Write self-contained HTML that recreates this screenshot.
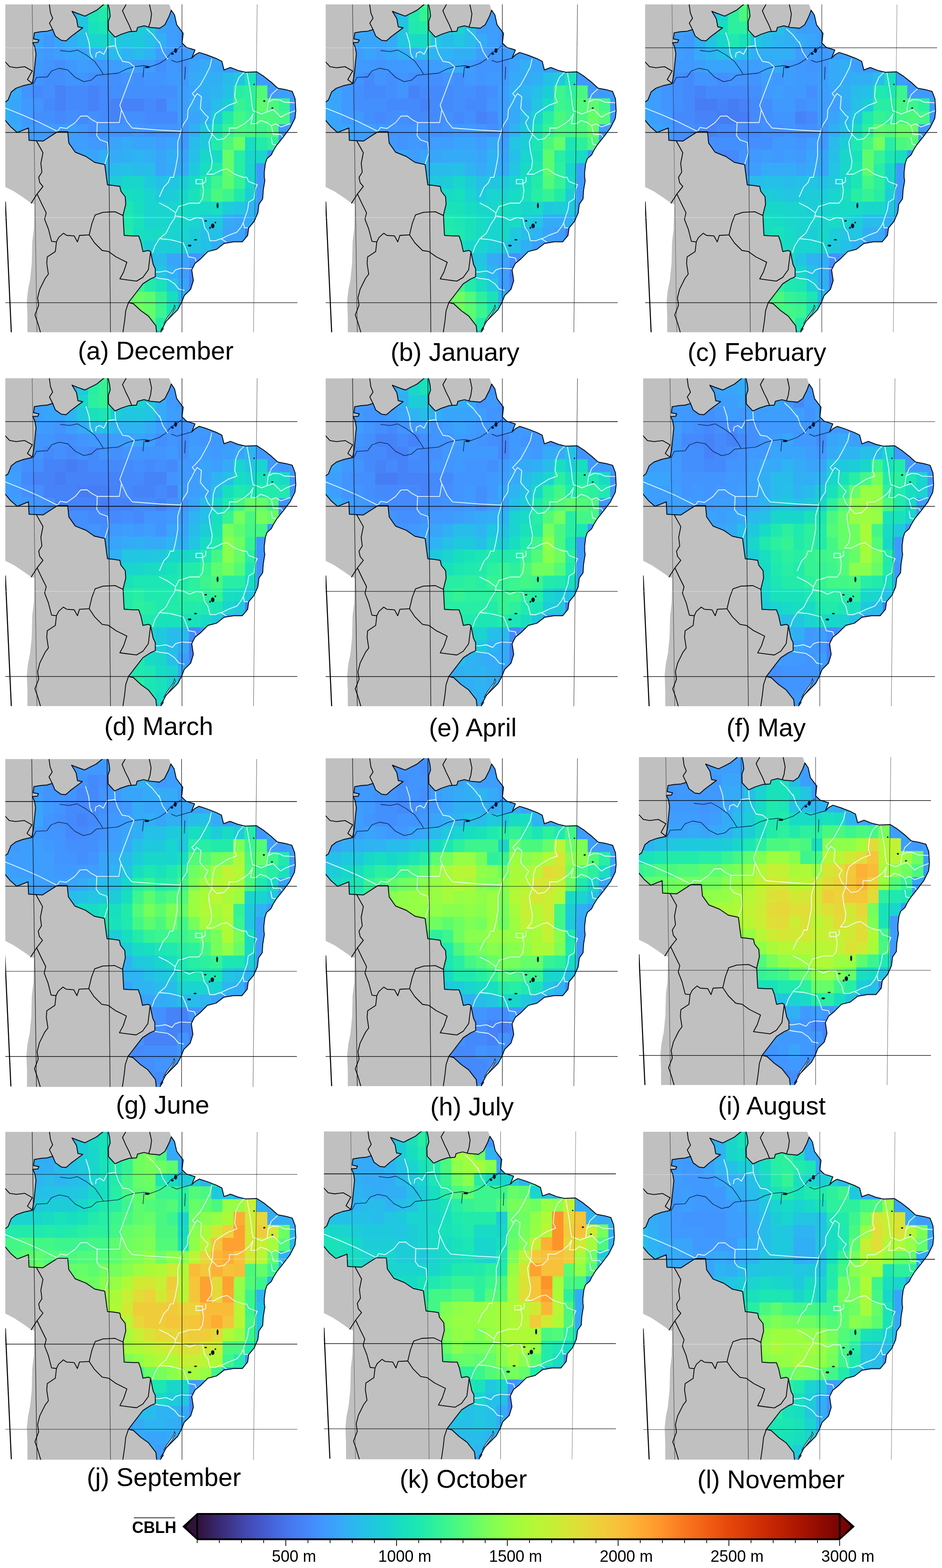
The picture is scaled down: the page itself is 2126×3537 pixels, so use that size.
<!DOCTYPE html><html><head><meta charset="utf-8"><title>CBLH monthly maps</title><style>html,body{margin:0;padding:0;background:#fff}body{width:2126px;height:3537px;overflow:hidden}svg{display:block}text{font-family:"Liberation Sans",sans-serif;fill:#000}.lab{font-size:57.5px;text-anchor:middle}.tk{font-size:36px;text-anchor:middle}.b{fill:none;stroke:#000;stroke-width:1.8;stroke-linejoin:round;stroke-linecap:round}.o{fill:none;stroke:#050a18;stroke-width:2;stroke-linejoin:round}.r{fill:none;stroke:#04103a;stroke-width:1.3;stroke-linejoin:round;opacity:.9}.s{fill:none;stroke:#f0ffff;stroke-width:1.9;stroke-linejoin:round;stroke-linecap:round;opacity:.92}.g{stroke:#000;stroke-width:1.25;fill:none}</style></head><body><svg width="2126" height="3537" viewBox="0 0 2126 3537"><defs><clipPath id="pc"><rect x="0" y="0" width="659" height="739.5"/></clipPath><clipPath id="bc"><path d="M-7 224.8L6.2 215.6L13.5 197.4L24.4 188.9L41.4 182.9L60.8 178.7L64.4 159.8L66.8 135.6L69.3 111.3L66.8 96.7L62 86.3L73.4 85.6L75.8 80.2L63.7 77.8L65.6 64L80.2 61.6L94.7 60.4L106.9 56.7L112.9 71.3L126.3 81L137.2 82.2L148.1 72.5L162.7 61.6L174.8 52.6L163.9 50.6L160.7 32.5L150.5 15.5L162.7 20.3L179.6 26.4L191.8 20.3L206.3 13L219.7 2.1L230.6 -7L235.4 14.3L236.7 26.4L232.5 38.5L233 57.9L247.6 73.7L262.1 67.1L279.1 61.6L296.1 60.4L298.5 51.9L313.1 48.2L327.6 51.9L348 53.6L348 54.3L360.1 45.8L369.8 26.4L374.7 13L382 24L386.8 45.8L401.4 65.2L398.9 87L408.6 96.7L428.1 102.8L420.8 121L428.1 113.7L437.8 108.4L454.7 113.7L476.6 122.2L488.7 128.3L493.6 147.7L508.1 142.3L525.1 148.9L542.1 153L567.5 152L583.3 162.2L600.3 175.6L614.8 188.9L634.3 192.6L647.6 196.2L654.1 213.2L655.6 239.9L653.7 256.8L642.7 278.7L627 299.3L612.4 317.5L605.1 329.6L600.3 339.3L590.6 347.8L586.9 358.7L584.5 378.1L584.5 390L585.7 397.3L582.1 419.1L580.9 438.5L572.4 450.6L570 470.1L561.5 489.5L549.3 504L546.9 521L534.8 535.6L515.4 535.6L493.6 539.2L476.6 552.5L457.2 557.4L440.2 574.4L428.1 584.1L420.8 598.6L424.4 622.9L418.4 642.3L403.8 656.8L397.7 672.6L389.2 688.4L374.7 702.9L362.6 715.1L355.3 729.6L348 746.5L342.2 746.5L339.8 724.8L322.8 702.9L305.8 690.8L288.8 675L277.9 672.6L293.7 652L310.6 630.2L327.6 619.2L338.5 614.4L338.5 596.2L333.7 586.5L327.6 557.4L322.8 555L310.6 557.4L305.8 535.6L300.9 522.2L286.4 522.2L268.2 521L267 499.2L265.8 474.9L271.8 450.6L270.6 433.7L260.9 421.5L258.5 410.6L242.7 408.2L230.6 407L228.2 390L224.5 361.2L201.5 356.3L182.1 343L157.8 333.3L143.3 312.6L140.8 287.2L117.8 287.2L85 308.3L53.5 306.6L52.3 278.7L26.8 288.9L12.3 276.3L-7 253.2Z"/></clipPath><path id="land" d="M-7 -7L367.4 -7L374.7 13L396.5 87L493.6 208.3L445 487L372.3 632.6L348 746.5L49.9 746.5L49.9 705.4L48.6 669L51.1 644.7L55.9 620.5L59.6 584.1L60.8 535.6L64.4 506.4L65.6 450.6L58.4 448.2L41.4 436.1L19.5 421.5L-7 408.2Z" fill="#c0c0c0"/><g id="bord"><path class="b" d="M98.4 -7L102 19.1L106.9 31.2L99.6 42.2L106.9 56.7M276.7 -7L264.5 14.3L271.8 31.2L279.1 45.8L285.2 60.8M324 -7L330 21.5L327.6 38.5L324 49.4M-7 122.2L9.8 140.4L24.4 142.8L43.8 140.4L60.8 150.1L49.9 169.5L60.8 178M70.5 308.3L85 334.5L80.2 358.7L82.6 378.1L75.3 390M75.3 390L77.8 402.1L85 410.6L71.7 427.6L58.4 448.2M71.7 427.6L82.6 450.6L92.3 470.1L88.7 484.6L97.2 506.4L104.4 534.3L115.4 535.6M115.4 535.6L112.9 557.4L94.7 569.5L93.5 584.1L97.2 608.3L89.9 618L77.8 642.3L72.9 661.7L75.3 678.7L66.8 700.5L72.9 717.5L81.4 746.5M115.4 535.6L120.2 525.8L131.1 516.1L138.4 521L155.4 522.2L162.7 535.6L167.5 521L189.3 519.8M189.3 519.8L195.4 494.3L202.7 474.9L220.9 468.8L247.6 467.6L265.8 476.1M189.3 519.8L201.5 538L218.5 555L233 557.4L250 569.5L274.3 581.6L267 603.5L258.5 619.2L276.7 621.7L296.1 624.1L310.6 615.6L322.8 598.6L324 588.9L327.6 559.8M277.9 672.6L271.8 690.8L269.4 712.6L264.5 746.5"/><path class="b" d="M0.1 445.8L13.5 739.3" style="stroke-width:2.4"/></g><g id="over"><path class="r" d="M63.2 179.2L70.5 164.7L94.7 163.5L104.4 150.1L121.4 144L140.8 147.7L157.8 164.7L177.2 174.4L194.2 170.7L206.3 159.8L230.6 157.4L254.8 155L274.3 145.3L291.2 140.4L313.1 138L327.6 140.4L348 133.1M123.8 104L145.7 106.4L162.7 102.8L182.1 113.7L201.5 128.3L213.6 145.3L220.9 157.4M348 133.1L362.6 123.4L374.7 108.9L384.4 104L396.5 94.3M374.7 125.8L386.8 130.7L403.8 125.8L420.8 121M406.2 140.4L405 169.5M313.1 140.4L310.6 164.7"/><g fill="#06122e"><ellipse cx="561.5" cy="180.4" rx="1.7" ry="1.7"/><ellipse cx="584.5" cy="218" rx="2.4" ry="1.9"/><ellipse cx="602.7" cy="233.8" rx="2.4" ry="1.5"/><ellipse cx="479" cy="453.6" rx="2.2" ry="6.3"/><ellipse cx="468.1" cy="499.6" rx="3.9" ry="5.3"/><ellipse cx="415.9" cy="544" rx="3.9" ry="2.2"/><ellipse cx="429.3" cy="530.7" rx="3.4" ry="1.5"/><ellipse cx="452.3" cy="488.2" rx="2.9" ry="1.7"/><ellipse cx="474.1" cy="491.9" rx="1.9" ry="1.9"/><ellipse cx="462" cy="504" rx="1.9" ry="2.4"/><ellipse cx="384.4" cy="104" rx="3.4" ry="5.3"/><ellipse cx="377.1" cy="111.3" rx="2.9" ry="2.4"/><ellipse cx="320.3" cy="141.6" rx="5.3" ry="2.2"/></g><path class="s" d="M0.1 233.8L36.5 248.4L72.9 264.1L117.8 286.4M117.8 286.4L123.8 277.5L138.4 279.9L157.8 266.5L169.9 252L184.5 251.5L194.2 259.3L207.5 266.5M207.5 266.5L257.3 266.5L262.1 237.4M207.5 266.5L206.3 295.7L213.6 305.4L230.6 311.4L233 334.5L228.2 349L224.5 361.2M291.2 140.4L258.5 227.7L262.1 237.4L274.3 264.1L286.4 278.7L348 283.5M182.1 64L189.3 87L191.8 111.3L196.6 121M203.9 118.6L205.1 110.1L213.6 106.4L222.1 112.5L230.6 95.5L248.8 93.1L247.6 73.7M248.8 93.1L254.8 111.3L264.5 128.3L279.1 130.7L291.2 140.4M319.1 55.5L332.5 67.6L348 87M348 84.6L355.3 106.4L366.2 122.9M465.7 123.4L462 140.4L452.3 159.8L440.2 181.6L428.1 195L422 201.1L428.1 208.3L420.8 222.9L412.3 237.4L411.1 256.8L401.4 271.4L396.5 284.7M348 283.5L396.5 286L389.2 310.2L389.2 341.8L384.4 368.4L379.5 390M428.1 208.3L432.9 201.1L442.6 208.3L440.2 235L452.3 249.6L458.4 254.4L451.1 266.5L457.2 281.1L466.9 293.2M539.6 152.5L527.5 164.7L520.2 181.6L517.8 208.3L522.7 220.5L503.3 227.7L483.8 239.9L474.1 247.1L469.3 261.7L468.1 281.1L466.9 293.2M545.7 155L549.3 174.4L554.2 203.5L556.6 227.7L559.1 239.9M466.9 293.2L479 305.4L493.6 302.9L505.7 290.8L505.7 278.7L522.7 278.7L539.6 269L551.8 259.3L559.1 247.1M466.9 293.2L459.6 310.2L462 329.6L466.9 353.9L464.4 370.9L454.7 383M559.1 239.9L566.3 242.3L578.5 247.1L590.6 242.3L593 222.9L600.3 203.5L614.8 190.1M593 220.5L605.1 214.4L619.7 215.6L629.4 220.5L653.7 221.7M590.6 242.3L605.1 237.4L614.8 247.1L622.1 254.4L634.3 247.1L653.7 239.9M559.1 247.1L554.2 269L566.3 269L576 261.7L590.6 266.5L600.3 273.8L610 269L622.1 276.3L642.7 269M600.3 273.8L605.1 293.2L622.1 293.2L627 300.5M600.3 300.5L602.7 315.1L612.4 317.5M454.7 383L469.3 383L488.7 373.3L500.8 370.9L517.8 383L537.2 390M430.5 394.9L445 394.9L445 404.6L430.5 404.6L430.5 394.9M452.3 390L452.3 399.7L445 404.6L447.5 419.1L445 438.5L437.8 448.2L415.9 448.2L401.4 453.1L391.7 455.5L384.4 470.1M379.5 390L372.3 390L367.4 402.1L357.7 411.8L348 433.7M348 448.2L367.4 457.9L384.4 470.1M384.4 470.1L382 482.2L372.3 496.7L362.6 516.1L348 528.3M384.4 477.3L401.4 479.8L415.9 487L430.5 481L445 482.2L449.9 504L457.2 513.7L462 533.1L474.1 533.1L486.3 528.3L498.4 535.6M537.2 390L544.5 390L549.3 399.7L568.8 407L563.9 416.7L561.5 438.5L549.3 445.8L546.9 462.8L537.2 491.9L539.6 504L546.9 504M488.7 528.3L503.3 521L522.7 513.7L532.4 501.6L537.2 491.9M348 528.3L372.3 530.7L401.4 538L408.6 555L413.5 569.5L428.1 571.9L430.5 579.2M348 603.5L362.6 601.1L377.1 607.1L384.4 598.6L396.5 595L420.8 596.2M348 618L367.4 620.5L382 630.2L391.7 642.3L403.8 644.7M348 528.3L337.3 545.3L332.5 559.8M348 603.5L338.5 603.5M348 618L337.3 615.6"/><path d="M381.9 678.1L383.6 683.5L376.2 697.1L368 708L359.8 720.5L357.8 719.2L365.6 706.3L373.1 696.1L379.9 685.9ZM355.3 728.2L357 731.6L352.4 737.5L351 734.1Z" fill="#fff" stroke="#050a18" stroke-width="1.2"/><path class="o" d="M-7 224.8L6.2 215.6L13.5 197.4L24.4 188.9L41.4 182.9L60.8 178.7L64.4 159.8L66.8 135.6L69.3 111.3L66.8 96.7L62 86.3L73.4 85.6L75.8 80.2L63.7 77.8L65.6 64L80.2 61.6L94.7 60.4L106.9 56.7L112.9 71.3L126.3 81L137.2 82.2L148.1 72.5L162.7 61.6L174.8 52.6L163.9 50.6L160.7 32.5L150.5 15.5L162.7 20.3L179.6 26.4L191.8 20.3L206.3 13L219.7 2.1L230.6 -7L235.4 14.3L236.7 26.4L232.5 38.5L233 57.9L247.6 73.7L262.1 67.1L279.1 61.6L296.1 60.4L298.5 51.9L313.1 48.2L327.6 51.9L348 53.6L348 54.3L360.1 45.8L369.8 26.4L374.7 13L382 24L386.8 45.8L401.4 65.2L398.9 87L408.6 96.7L428.1 102.8L420.8 121L428.1 113.7L437.8 108.4L454.7 113.7L476.6 122.2L488.7 128.3L493.6 147.7L508.1 142.3L525.1 148.9L542.1 153L567.5 152L583.3 162.2L600.3 175.6L614.8 188.9L634.3 192.6L647.6 196.2L654.1 213.2L655.6 239.9L653.7 256.8L642.7 278.7L627 299.3L612.4 317.5L605.1 329.6L600.3 339.3L590.6 347.8L586.9 358.7L584.5 378.1L584.5 390L585.7 397.3L582.1 419.1L580.9 438.5L572.4 450.6L570 470.1L561.5 489.5L549.3 504L546.9 521L534.8 535.6L515.4 535.6L493.6 539.2L476.6 552.5L457.2 557.4L440.2 574.4L428.1 584.1L420.8 598.6L424.4 622.9L418.4 642.3L403.8 656.8L397.7 672.6L389.2 688.4L374.7 702.9L362.6 715.1L355.3 729.6L348 746.5L342.2 746.5L339.8 724.8L322.8 702.9L305.8 690.8L288.8 675L277.9 672.6L293.7 652L310.6 630.2L327.6 619.2L338.5 614.4L338.5 596.2L333.7 586.5L327.6 557.4L322.8 555L310.6 557.4L305.8 535.6L300.9 522.2L286.4 522.2L268.2 521L267 499.2L265.8 474.9L271.8 450.6L270.6 433.7L260.9 421.5L258.5 410.6L242.7 408.2L230.6 407L228.2 390L224.5 361.2L201.5 356.3L182.1 343L157.8 333.3L143.3 312.6L140.8 287.2L117.8 287.2L85 308.3L53.5 306.6L52.3 278.7L26.8 288.9L12.3 276.3L-7 253.2Z"/></g><linearGradient id="tb" x1="0" x2="1" y1="0" y2="0"><stop offset="0" stop-color="#30123b"/><stop offset="0.025" stop-color="#372466"/><stop offset="0.05" stop-color="#3d358b"/><stop offset="0.075" stop-color="#4249b1"/><stop offset="0.1" stop-color="#4559cb"/><stop offset="0.125" stop-color="#466be3"/><stop offset="0.15" stop-color="#477bf2"/><stop offset="0.175" stop-color="#458afc"/><stop offset="0.2" stop-color="#3e9bfe"/><stop offset="0.225" stop-color="#35abf8"/><stop offset="0.25" stop-color="#28bceb"/><stop offset="0.275" stop-color="#1fc9dd"/><stop offset="0.3" stop-color="#19d5cd"/><stop offset="0.325" stop-color="#19e2bb"/><stop offset="0.35" stop-color="#20eaac"/><stop offset="0.375" stop-color="#32f298"/><stop offset="0.4" stop-color="#46f884"/><stop offset="0.425" stop-color="#5dfc6f"/><stop offset="0.45" stop-color="#79fe59"/><stop offset="0.475" stop-color="#8fff49"/><stop offset="0.5" stop-color="#a4fc3c"/><stop offset="0.525" stop-color="#b4f836"/><stop offset="0.55" stop-color="#c3f134"/><stop offset="0.575" stop-color="#d4e735"/><stop offset="0.6" stop-color="#e1dd37"/><stop offset="0.625" stop-color="#eecf3a"/><stop offset="0.65" stop-color="#f6c33a"/><stop offset="0.675" stop-color="#fbb637"/><stop offset="0.7" stop-color="#fea431"/><stop offset="0.725" stop-color="#fe932a"/><stop offset="0.75" stop-color="#fb7e21"/><stop offset="0.775" stop-color="#f66c19"/><stop offset="0.8" stop-color="#f05b12"/><stop offset="0.825" stop-color="#e7490c"/><stop offset="0.85" stop-color="#dd3d08"/><stop offset="0.875" stop-color="#d02f05"/><stop offset="0.9" stop-color="#c32503"/><stop offset="0.925" stop-color="#b41b01"/><stop offset="0.95" stop-color="#a11201"/><stop offset="0.975" stop-color="#8e0a01"/><stop offset="1" stop-color="#7a0403"/></linearGradient></defs><g transform="translate(12 10)" clip-path="url(#pc)"><g transform="translate(0 0)"><use href="#land"/><g clip-path="url(#bc)"><path fill="#467df4" d="M540.4 502.8h25.8v29.6h-25.8zM414.1 619.2h25.8v29.6h-25.8z"/><path fill="#4682f8" d="M111.1 182.7h25.8v29.6h-25.8zM186.8 182.7h25.8v29.6h-25.8zM111.1 211.8h25.8v29.6h-25.8zM186.8 211.8h25.8v29.6h-25.8zM237.3 211.8h76.2v29.6h-76.2zM338.4 211.8h25.8v29.6h-25.8zM237.3 240.9h25.8v29.6h-25.8zM414.1 590.1h25.8v29.6h-25.8z"/><path fill="#458afc" d="M60.6 182.7h25.8v29.6h-25.8zM136.3 182.7h51v29.6h-51zM212.1 182.7h25.8v29.6h-25.8zM85.8 211.8h25.8v29.6h-25.8zM136.3 211.8h51v29.6h-51zM212.1 211.8h25.8v29.6h-25.8zM313.1 211.8h25.8v29.6h-25.8zM111.1 240.9h25.8v29.6h-25.8zM161.6 240.9h25.8v29.6h-25.8zM212.1 240.9h25.8v29.6h-25.8zM313.1 240.9h76.2v29.6h-76.2z"/><path fill="#448ffe" d="M111.1 124.5h25.8v29.6h-25.8zM338.4 124.5h25.8v29.6h-25.8zM85.8 153.6h51v29.6h-51zM186.8 153.6h76.2v29.6h-76.2zM287.9 153.6h25.8v29.6h-25.8zM85.8 182.7h25.8v29.6h-25.8zM237.3 182.7h152v29.6h-152zM60.6 240.9h51v29.6h-51zM136.3 240.9h25.8v29.6h-25.8zM186.8 240.9h25.8v29.6h-25.8zM262.6 240.9h51v29.6h-51zM186.8 270h25.8v29.6h-25.8z"/><path fill="#4294ff" d="M85.8 124.5h25.8v29.6h-25.8zM388.9 124.5h25.8v29.6h-25.8zM60.6 153.6h25.8v29.6h-25.8zM136.3 153.6h51v29.6h-51zM262.6 153.6h25.8v29.6h-25.8zM313.1 153.6h51v29.6h-51zM35.4 182.7h25.8v29.6h-25.8zM60.6 211.8h25.8v29.6h-25.8zM363.6 211.8h25.8v29.6h-25.8zM212.1 270h76.2v29.6h-76.2zM313.1 270h76.2v29.6h-76.2zM565.6 444.6h25.8v29.6h-25.8zM414.1 561h25.8v29.6h-25.8z"/><path fill="#4099ff" d="M388.9 37.2h25.8v29.6h-25.8zM85.8 66.3h25.8v29.6h-25.8zM388.9 66.3h25.8v29.6h-25.8zM85.8 95.4h25.8v29.6h-25.8zM363.6 95.4h51v29.6h-51zM439.4 95.4h25.8v29.6h-25.8zM60.6 124.5h25.8v29.6h-25.8zM136.3 124.5h25.8v29.6h-25.8zM186.8 124.5h51v29.6h-51zM363.6 124.5h25.8v29.6h-25.8zM489.9 124.5h76.2v29.6h-76.2zM363.6 153.6h51v29.6h-51zM590.9 153.6h25.8v29.6h-25.8zM590.9 182.7h25.8v29.6h-25.8zM641.4 182.7h25.8v29.6h-25.8zM35.4 211.8h25.8v29.6h-25.8zM641.4 211.8h25.8v29.6h-25.8zM35.4 240.9h25.8v29.6h-25.8zM641.4 240.9h25.8v29.6h-25.8zM60.6 270h76.2v29.6h-76.2zM161.6 270h25.8v29.6h-25.8zM287.9 270h25.8v29.6h-25.8zM388.9 270h25.8v29.6h-25.8zM616.1 270h51v29.6h-51zM186.8 299.1h51v29.6h-51zM388.9 299.1h25.8v29.6h-25.8zM136.3 328.2h25.8v29.6h-25.8zM590.9 328.2h25.8v29.6h-25.8zM565.6 357.3h25.8v29.6h-25.8zM565.6 386.4h25.8v29.6h-25.8zM565.6 415.5h25.8v29.6h-25.8zM565.6 473.7h25.8v29.6h-25.8zM489.9 531.9h51v29.6h-51zM439.4 561h25.8v29.6h-25.8zM388.9 677.4h25.8v29.6h-25.8z"/><path fill="#3d9efe" d="M363.6 8.1h25.8v29.6h-25.8zM363.6 37.2h25.8v29.6h-25.8zM363.6 66.3h25.8v29.6h-25.8zM60.6 95.4h25.8v29.6h-25.8zM111.1 95.4h25.8v29.6h-25.8zM338.4 95.4h25.8v29.6h-25.8zM414.1 95.4h25.8v29.6h-25.8zM161.6 124.5h25.8v29.6h-25.8zM237.3 124.5h25.8v29.6h-25.8zM287.9 124.5h51v29.6h-51zM35.4 153.6h25.8v29.6h-25.8zM565.6 153.6h25.8v29.6h-25.8zM388.9 182.7h25.8v29.6h-25.8zM616.1 182.7h25.8v29.6h-25.8zM388.9 211.8h25.8v29.6h-25.8zM388.9 240.9h25.8v29.6h-25.8zM35.4 270h25.8v29.6h-25.8zM136.3 270h25.8v29.6h-25.8zM35.4 299.1h51v29.6h-51zM136.3 299.1h51v29.6h-51zM338.4 299.1h25.8v29.6h-25.8zM616.1 299.1h25.8v29.6h-25.8zM388.9 590.1h25.8v29.6h-25.8zM363.6 706.5h25.8v29.6h-25.8z"/><path fill="#38a5fb" d="M136.3 8.1h25.8v29.6h-25.8zM60.6 37.2h51v29.6h-51zM338.4 37.2h25.8v29.6h-25.8zM60.6 66.3h25.8v29.6h-25.8zM111.1 66.3h25.8v29.6h-25.8zM136.3 95.4h51v29.6h-51zM262.6 124.5h25.8v29.6h-25.8zM414.1 124.5h25.8v29.6h-25.8zM464.6 124.5h25.8v29.6h-25.8zM414.1 182.7h25.8v29.6h-25.8zM10.1 211.8h25.8v29.6h-25.8zM10.1 240.9h25.8v29.6h-25.8zM414.1 240.9h25.8v29.6h-25.8zM85.8 299.1h25.8v29.6h-25.8zM237.3 299.1h25.8v29.6h-25.8zM287.9 299.1h51v29.6h-51zM363.6 299.1h25.8v29.6h-25.8zM161.6 328.2h51v29.6h-51zM338.4 328.2h25.8v29.6h-25.8zM388.9 328.2h25.8v29.6h-25.8zM338.4 357.3h25.8v29.6h-25.8zM515.1 473.7h25.8v29.6h-25.8zM489.9 502.8h51v29.6h-51zM363.6 561h51v29.6h-51zM388.9 619.2h25.8v29.6h-25.8zM338.4 735.6h25.8v29.6h-25.8z"/><path fill="#35abf8" d="M136.3 37.2h25.8v29.6h-25.8zM464.6 95.4h25.8v29.6h-25.8zM439.4 124.5h25.8v29.6h-25.8zM414.1 153.6h25.8v29.6h-25.8zM-15.2 182.7h51v29.6h-51zM414.1 211.8h51v29.6h-51zM-15.2 270h51v29.6h-51zM262.6 299.1h25.8v29.6h-25.8zM237.3 328.2h25.8v29.6h-25.8zM186.8 357.3h25.8v29.6h-25.8zM363.6 357.3h51v29.6h-51zM489.9 473.7h25.8v29.6h-25.8zM540.4 473.7h25.8v29.6h-25.8zM464.6 531.9h25.8v29.6h-25.8z"/><path fill="#31aff5" d="M136.3 66.3h25.8v29.6h-25.8zM338.4 66.3h25.8v29.6h-25.8zM186.8 95.4h25.8v29.6h-25.8zM439.4 153.6h51v29.6h-51zM439.4 182.7h25.8v29.6h-25.8zM-15.2 211.8h25.8v29.6h-25.8zM-15.2 240.9h25.8v29.6h-25.8zM439.4 240.9h25.8v29.6h-25.8zM414.1 270h25.8v29.6h-25.8zM212.1 328.2h25.8v29.6h-25.8zM262.6 328.2h25.8v29.6h-25.8zM313.1 328.2h25.8v29.6h-25.8zM363.6 328.2h25.8v29.6h-25.8zM363.6 590.1h25.8v29.6h-25.8z"/><path fill="#2eb4f2" d="M212.1 95.4h25.8v29.6h-25.8zM262.6 95.4h25.8v29.6h-25.8zM313.1 95.4h25.8v29.6h-25.8zM464.6 182.7h25.8v29.6h-25.8zM287.9 328.2h25.8v29.6h-25.8zM212.1 357.3h25.8v29.6h-25.8zM540.4 444.6h25.8v29.6h-25.8zM388.9 648.3h25.8v29.6h-25.8z"/><path fill="#28bceb" d="M161.6 66.3h25.8v29.6h-25.8zM237.3 95.4h25.8v29.6h-25.8zM287.9 95.4h25.8v29.6h-25.8zM489.9 153.6h25.8v29.6h-25.8zM464.6 211.8h25.8v29.6h-25.8zM414.1 299.1h25.8v29.6h-25.8zM237.3 357.3h25.8v29.6h-25.8zM287.9 357.3h51v29.6h-51zM313.1 561h51v29.6h-51z"/><path fill="#25c0e7" d="M313.1 66.3h25.8v29.6h-25.8zM489.9 182.7h25.8v29.6h-25.8zM414.1 328.2h25.8v29.6h-25.8zM262.6 357.3h25.8v29.6h-25.8zM338.4 386.4h25.8v29.6h-25.8zM439.4 502.8h51v29.6h-51zM439.4 531.9h25.8v29.6h-25.8z"/><path fill="#22c5e2" d="M161.6 8.1h25.8v29.6h-25.8zM161.6 37.2h25.8v29.6h-25.8zM262.6 66.3h25.8v29.6h-25.8zM565.6 124.5h25.8v29.6h-25.8zM515.1 153.6h25.8v29.6h-25.8zM212.1 386.4h25.8v29.6h-25.8zM363.6 386.4h25.8v29.6h-25.8zM515.1 444.6h25.8v29.6h-25.8zM414.1 531.9h25.8v29.6h-25.8zM338.4 590.1h25.8v29.6h-25.8z"/><path fill="#1fc9dd" d="M313.1 37.2h25.8v29.6h-25.8zM237.3 66.3h25.8v29.6h-25.8zM287.9 66.3h25.8v29.6h-25.8zM439.4 270h25.8v29.6h-25.8zM439.4 299.1h25.8v29.6h-25.8zM414.1 357.3h25.8v29.6h-25.8zM313.1 386.4h25.8v29.6h-25.8zM338.4 415.5h25.8v29.6h-25.8zM439.4 473.7h51v29.6h-51zM313.1 590.1h25.8v29.6h-25.8zM363.6 619.2h25.8v29.6h-25.8z"/><path fill="#1ccdd8" d="M262.6 37.2h51v29.6h-51zM489.9 211.8h25.8v29.6h-25.8zM464.6 240.9h25.8v29.6h-25.8zM237.3 386.4h25.8v29.6h-25.8zM388.9 386.4h25.8v29.6h-25.8zM363.6 415.5h25.8v29.6h-25.8zM540.4 415.5h25.8v29.6h-25.8zM489.9 444.6h25.8v29.6h-25.8zM414.1 502.8h25.8v29.6h-25.8zM313.1 531.9h101.5v29.6h-101.5z"/><path fill="#1ad4d0" d="M186.8 66.3h25.8v29.6h-25.8zM540.4 357.3h25.8v29.6h-25.8zM313.1 415.5h25.8v29.6h-25.8zM313.1 444.6h76.2v29.6h-76.2zM313.1 473.7h25.8v29.6h-25.8zM363.6 473.7h25.8v29.6h-25.8zM414.1 473.7h25.8v29.6h-25.8zM363.6 502.8h51v29.6h-51z"/><path fill="#18d7ca" d="M212.1 66.3h25.8v29.6h-25.8zM439.4 328.2h25.8v29.6h-25.8zM540.4 328.2h51v29.6h-51zM262.6 386.4h51v29.6h-51zM540.4 386.4h25.8v29.6h-25.8zM388.9 415.5h25.8v29.6h-25.8zM338.4 473.7h25.8v29.6h-25.8zM388.9 473.7h25.8v29.6h-25.8z"/><path fill="#18dbc5" d="M237.3 37.2h25.8v29.6h-25.8zM464.6 328.2h25.8v29.6h-25.8zM414.1 386.4h25.8v29.6h-25.8zM237.3 415.5h25.8v29.6h-25.8zM287.9 415.5h25.8v29.6h-25.8zM388.9 444.6h76.2v29.6h-76.2zM313.1 502.8h51v29.6h-51z"/><path fill="#18dec0" d="M540.4 299.1h25.8v29.6h-25.8zM439.4 357.3h25.8v29.6h-25.8zM262.6 415.5h25.8v29.6h-25.8zM287.9 444.6h25.8v29.6h-25.8zM464.6 444.6h25.8v29.6h-25.8zM287.9 502.8h25.8v29.6h-25.8zM287.9 531.9h25.8v29.6h-25.8zM363.6 648.3h25.8v29.6h-25.8z"/><path fill="#19e2bb" d="M186.8 37.2h25.8v29.6h-25.8zM540.4 153.6h25.8v29.6h-25.8zM464.6 270h25.8v29.6h-25.8zM414.1 415.5h25.8v29.6h-25.8zM287.9 473.7h25.8v29.6h-25.8zM338.4 619.2h25.8v29.6h-25.8zM363.6 677.4h25.8v29.6h-25.8z"/><path fill="#1ce6b4" d="M186.8 8.1h25.8v29.6h-25.8zM212.1 37.2h25.8v29.6h-25.8zM262.6 444.6h25.8v29.6h-25.8z"/><path fill="#1fe9af" d="M464.6 357.3h25.8v29.6h-25.8zM439.4 386.4h25.8v29.6h-25.8zM515.1 415.5h25.8v29.6h-25.8zM262.6 473.7h25.8v29.6h-25.8z"/><path fill="#22ebaa" d="M212.1 8.1h25.8v29.6h-25.8zM489.9 240.9h25.8v29.6h-25.8zM464.6 299.1h25.8v29.6h-25.8zM565.6 299.1h25.8v29.6h-25.8zM262.6 502.8h25.8v29.6h-25.8zM313.1 619.2h25.8v29.6h-25.8zM338.4 706.5h25.8v29.6h-25.8z"/><path fill="#27eea4" d="M515.1 182.7h25.8v29.6h-25.8zM515.1 328.2h25.8v29.6h-25.8zM515.1 357.3h25.8v29.6h-25.8zM439.4 415.5h25.8v29.6h-25.8z"/><path fill="#2cf09e" d="M540.4 182.7h25.8v29.6h-25.8zM540.4 211.8h25.8v29.6h-25.8zM590.9 299.1h25.8v29.6h-25.8z"/><path fill="#35f394" d="M212.1 -21h25.8v29.6h-25.8zM515.1 211.8h25.8v29.6h-25.8zM616.1 211.8h25.8v29.6h-25.8zM540.4 240.9h25.8v29.6h-25.8zM489.9 270h25.8v29.6h-25.8zM515.1 386.4h25.8v29.6h-25.8zM338.4 648.3h25.8v29.6h-25.8z"/><path fill="#3cf58e" d="M565.6 270h25.8v29.6h-25.8zM464.6 386.4h25.8v29.6h-25.8zM489.9 415.5h25.8v29.6h-25.8zM287.9 619.2h25.8v29.6h-25.8zM338.4 677.4h25.8v29.6h-25.8z"/><path fill="#43f787" d="M515.1 240.9h25.8v29.6h-25.8zM616.1 240.9h25.8v29.6h-25.8zM540.4 270h25.8v29.6h-25.8z"/><path fill="#4af880" d="M590.9 211.8h25.8v29.6h-25.8zM565.6 240.9h51v29.6h-51zM515.1 270h25.8v29.6h-25.8zM590.9 270h25.8v29.6h-25.8zM489.9 299.1h25.8v29.6h-25.8zM464.6 415.5h25.8v29.6h-25.8z"/><path fill="#52fa7a" d="M565.6 182.7h25.8v29.6h-25.8z"/><path fill="#5dfc6f" d="M565.6 211.8h25.8v29.6h-25.8zM489.9 386.4h25.8v29.6h-25.8zM313.1 648.3h25.8v29.6h-25.8zM313.1 706.5h25.8v29.6h-25.8z"/><path fill="#65fd69" d="M489.9 328.2h25.8v29.6h-25.8zM489.9 357.3h25.8v29.6h-25.8zM287.9 648.3h25.8v29.6h-25.8zM313.1 677.4h25.8v29.6h-25.8z"/><path fill="#6dfe62" d="M515.1 299.1h25.8v29.6h-25.8zM262.6 648.3h25.8v29.6h-25.8z"/><path fill="#75fe5c" d="M287.9 677.4h25.8v29.6h-25.8z"/></g><use href="#bord"/><use href="#over"/><path class="g" d="M60.5 -8L71.5 747.5" style="stroke-width:1.09" opacity="0.6"/><path class="g" d="M230.5 -8L237.5 747.5" style="stroke-width:1.31" opacity="0.85"/><path class="g" d="M398.7 -8L398.7 747.5" style="stroke-width:1.27" opacity="0.8"/><path class="g" d="M568.5 -8L560 747.5" style="stroke-width:1.05" opacity="0.55"/><path d="M0 97.7H659" style="stroke:#fff;stroke-width:1.6;fill:none" opacity="0.3"/><path class="g" d="M-8 288.8H659" style="stroke-width:1.59" opacity="0.9"/><path d="M0 480.6H659" style="stroke:#fff;stroke-width:1.6;fill:none" opacity="0.3"/><path class="g" d="M-8 672.8H659" style="stroke-width:1.43" opacity="0.75"/></g></g><g transform="translate(735 10)" clip-path="url(#pc)"><g transform="translate(0 0)"><use href="#land"/><g clip-path="url(#bc)"><path fill="#467df4" d="M540.4 502.8h25.8v29.6h-25.8zM414.1 590.1h25.8v29.6h-25.8z"/><path fill="#4682f8" d="M186.8 182.7h25.8v29.6h-25.8zM212.1 211.8h25.8v29.6h-25.8zM338.4 240.9h25.8v29.6h-25.8zM414.1 619.2h25.8v29.6h-25.8z"/><path fill="#458afc" d="M85.8 153.6h25.8v29.6h-25.8zM85.8 182.7h51v29.6h-51zM212.1 182.7h76.2v29.6h-76.2zM338.4 182.7h25.8v29.6h-25.8zM136.3 211.8h76.2v29.6h-76.2zM237.3 211.8h51v29.6h-51zM313.1 211.8h51v29.6h-51zM111.1 240.9h25.8v29.6h-25.8zM186.8 240.9h76.2v29.6h-76.2zM287.9 240.9h25.8v29.6h-25.8zM363.6 240.9h25.8v29.6h-25.8z"/><path fill="#448ffe" d="M136.3 153.6h25.8v29.6h-25.8zM186.8 153.6h76.2v29.6h-76.2zM287.9 153.6h25.8v29.6h-25.8zM60.6 182.7h25.8v29.6h-25.8zM136.3 182.7h25.8v29.6h-25.8zM287.9 182.7h51v29.6h-51zM363.6 182.7h25.8v29.6h-25.8zM60.6 211.8h76.2v29.6h-76.2zM287.9 211.8h25.8v29.6h-25.8zM85.8 240.9h25.8v29.6h-25.8zM136.3 240.9h51v29.6h-51zM262.6 240.9h25.8v29.6h-25.8zM313.1 240.9h25.8v29.6h-25.8zM237.3 270h25.8v29.6h-25.8zM363.6 270h25.8v29.6h-25.8zM414.1 561h25.8v29.6h-25.8z"/><path fill="#4294ff" d="M111.1 124.5h25.8v29.6h-25.8zM338.4 124.5h76.2v29.6h-76.2zM60.6 153.6h25.8v29.6h-25.8zM111.1 153.6h25.8v29.6h-25.8zM161.6 153.6h25.8v29.6h-25.8zM262.6 153.6h25.8v29.6h-25.8zM338.4 153.6h25.8v29.6h-25.8zM161.6 182.7h25.8v29.6h-25.8zM363.6 211.8h25.8v29.6h-25.8zM136.3 270h101.5v29.6h-101.5zM262.6 270h25.8v29.6h-25.8zM338.4 270h25.8v29.6h-25.8zM161.6 299.1h25.8v29.6h-25.8zM212.1 299.1h25.8v29.6h-25.8zM388.9 677.4h25.8v29.6h-25.8z"/><path fill="#4099ff" d="M388.9 37.2h25.8v29.6h-25.8zM388.9 66.3h25.8v29.6h-25.8zM363.6 95.4h51v29.6h-51zM60.6 124.5h51v29.6h-51zM136.3 124.5h101.5v29.6h-101.5zM515.1 124.5h25.8v29.6h-25.8zM35.4 153.6h25.8v29.6h-25.8zM313.1 153.6h25.8v29.6h-25.8zM363.6 153.6h51v29.6h-51zM565.6 153.6h51v29.6h-51zM35.4 182.7h25.8v29.6h-25.8zM590.9 182.7h51v29.6h-51zM35.4 211.8h25.8v29.6h-25.8zM641.4 211.8h25.8v29.6h-25.8zM35.4 240.9h51v29.6h-51zM111.1 270h25.8v29.6h-25.8zM287.9 270h51v29.6h-51zM388.9 270h25.8v29.6h-25.8zM641.4 270h25.8v29.6h-25.8zM136.3 299.1h25.8v29.6h-25.8zM186.8 299.1h25.8v29.6h-25.8zM565.6 386.4h25.8v29.6h-25.8zM565.6 415.5h25.8v29.6h-25.8zM565.6 444.6h25.8v29.6h-25.8zM565.6 473.7h25.8v29.6h-25.8zM489.9 531.9h25.8v29.6h-25.8z"/><path fill="#3d9efe" d="M363.6 8.1h25.8v29.6h-25.8zM338.4 37.2h51v29.6h-51zM363.6 66.3h25.8v29.6h-25.8zM60.6 95.4h25.8v29.6h-25.8zM111.1 95.4h25.8v29.6h-25.8zM338.4 95.4h25.8v29.6h-25.8zM414.1 95.4h51v29.6h-51zM237.3 124.5h25.8v29.6h-25.8zM313.1 124.5h25.8v29.6h-25.8zM489.9 124.5h25.8v29.6h-25.8zM540.4 124.5h25.8v29.6h-25.8zM388.9 182.7h25.8v29.6h-25.8zM641.4 182.7h25.8v29.6h-25.8zM388.9 211.8h25.8v29.6h-25.8zM388.9 240.9h25.8v29.6h-25.8zM641.4 240.9h25.8v29.6h-25.8zM60.6 270h51v29.6h-51zM616.1 270h25.8v29.6h-25.8zM60.6 299.1h51v29.6h-51zM237.3 299.1h51v29.6h-51zM338.4 299.1h25.8v29.6h-25.8zM388.9 299.1h25.8v29.6h-25.8zM616.1 299.1h25.8v29.6h-25.8zM136.3 328.2h25.8v29.6h-25.8zM186.8 328.2h25.8v29.6h-25.8zM590.9 328.2h25.8v29.6h-25.8zM565.6 357.3h25.8v29.6h-25.8zM515.1 502.8h25.8v29.6h-25.8zM464.6 531.9h25.8v29.6h-25.8zM515.1 531.9h25.8v29.6h-25.8zM439.4 561h25.8v29.6h-25.8zM388.9 590.1h25.8v29.6h-25.8zM388.9 619.2h25.8v29.6h-25.8zM363.6 706.5h25.8v29.6h-25.8z"/><path fill="#38a5fb" d="M136.3 8.1h25.8v29.6h-25.8zM85.8 37.2h25.8v29.6h-25.8zM60.6 66.3h76.2v29.6h-76.2zM85.8 95.4h25.8v29.6h-25.8zM136.3 95.4h25.8v29.6h-25.8zM262.6 124.5h25.8v29.6h-25.8zM414.1 124.5h25.8v29.6h-25.8zM464.6 124.5h25.8v29.6h-25.8zM-15.2 182.7h51v29.6h-51zM10.1 211.8h25.8v29.6h-25.8zM10.1 240.9h25.8v29.6h-25.8zM10.1 270h51v29.6h-51zM287.9 299.1h51v29.6h-51zM161.6 328.2h25.8v29.6h-25.8zM212.1 328.2h51v29.6h-51zM338.4 328.2h25.8v29.6h-25.8zM388.9 328.2h25.8v29.6h-25.8zM489.9 502.8h25.8v29.6h-25.8zM388.9 561h25.8v29.6h-25.8z"/><path fill="#35abf8" d="M60.6 37.2h25.8v29.6h-25.8zM136.3 66.3h25.8v29.6h-25.8zM338.4 66.3h25.8v29.6h-25.8zM464.6 95.4h25.8v29.6h-25.8zM287.9 124.5h25.8v29.6h-25.8zM414.1 153.6h51v29.6h-51zM-15.2 211.8h25.8v29.6h-25.8zM414.1 211.8h25.8v29.6h-25.8zM-15.2 240.9h25.8v29.6h-25.8zM414.1 240.9h25.8v29.6h-25.8zM35.4 299.1h25.8v29.6h-25.8zM363.6 299.1h25.8v29.6h-25.8zM262.6 328.2h76.2v29.6h-76.2zM338.4 357.3h25.8v29.6h-25.8zM388.9 357.3h25.8v29.6h-25.8zM489.9 473.7h51v29.6h-51zM363.6 561h25.8v29.6h-25.8zM338.4 735.6h25.8v29.6h-25.8z"/><path fill="#31aff5" d="M136.3 37.2h25.8v29.6h-25.8zM161.6 95.4h51v29.6h-51zM287.9 95.4h51v29.6h-51zM439.4 124.5h25.8v29.6h-25.8zM464.6 153.6h25.8v29.6h-25.8zM414.1 182.7h25.8v29.6h-25.8zM439.4 211.8h25.8v29.6h-25.8zM-15.2 270h25.8v29.6h-25.8zM186.8 357.3h25.8v29.6h-25.8zM540.4 473.7h25.8v29.6h-25.8zM439.4 531.9h25.8v29.6h-25.8z"/><path fill="#2eb4f2" d="M237.3 95.4h51v29.6h-51zM439.4 182.7h25.8v29.6h-25.8zM414.1 270h25.8v29.6h-25.8zM363.6 328.2h25.8v29.6h-25.8zM212.1 357.3h25.8v29.6h-25.8zM313.1 357.3h25.8v29.6h-25.8zM363.6 357.3h25.8v29.6h-25.8zM464.6 502.8h25.8v29.6h-25.8zM363.6 590.1h25.8v29.6h-25.8zM388.9 648.3h25.8v29.6h-25.8z"/><path fill="#28bceb" d="M262.6 66.3h25.8v29.6h-25.8zM313.1 66.3h25.8v29.6h-25.8zM212.1 95.4h25.8v29.6h-25.8zM439.4 240.9h25.8v29.6h-25.8zM237.3 357.3h51v29.6h-51zM439.4 502.8h25.8v29.6h-25.8z"/><path fill="#25c0e7" d="M161.6 8.1h25.8v29.6h-25.8zM313.1 37.2h25.8v29.6h-25.8zM489.9 153.6h25.8v29.6h-25.8zM464.6 182.7h25.8v29.6h-25.8zM414.1 328.2h25.8v29.6h-25.8zM287.9 357.3h25.8v29.6h-25.8zM338.4 386.4h25.8v29.6h-25.8zM414.1 531.9h25.8v29.6h-25.8z"/><path fill="#22c5e2" d="M161.6 37.2h25.8v29.6h-25.8zM161.6 66.3h25.8v29.6h-25.8zM237.3 66.3h25.8v29.6h-25.8zM287.9 66.3h25.8v29.6h-25.8zM464.6 211.8h25.8v29.6h-25.8zM414.1 299.1h25.8v29.6h-25.8zM414.1 357.3h25.8v29.6h-25.8zM212.1 386.4h25.8v29.6h-25.8zM363.6 386.4h25.8v29.6h-25.8zM540.4 444.6h25.8v29.6h-25.8zM464.6 473.7h25.8v29.6h-25.8zM313.1 561h51v29.6h-51z"/><path fill="#1fc9dd" d="M565.6 124.5h25.8v29.6h-25.8zM515.1 153.6h25.8v29.6h-25.8zM439.4 270h25.8v29.6h-25.8zM237.3 386.4h25.8v29.6h-25.8zM388.9 386.4h25.8v29.6h-25.8zM338.4 415.5h25.8v29.6h-25.8zM489.9 444.6h25.8v29.6h-25.8zM414.1 502.8h25.8v29.6h-25.8zM388.9 531.9h25.8v29.6h-25.8zM363.6 619.2h25.8v29.6h-25.8z"/><path fill="#1ccdd8" d="M262.6 37.2h25.8v29.6h-25.8zM489.9 182.7h25.8v29.6h-25.8zM439.4 299.1h25.8v29.6h-25.8zM262.6 386.4h25.8v29.6h-25.8zM313.1 386.4h25.8v29.6h-25.8zM540.4 415.5h25.8v29.6h-25.8zM515.1 444.6h25.8v29.6h-25.8zM439.4 473.7h25.8v29.6h-25.8zM363.6 531.9h25.8v29.6h-25.8zM338.4 590.1h25.8v29.6h-25.8z"/><path fill="#1ad4d0" d="M287.9 37.2h25.8v29.6h-25.8zM464.6 240.9h25.8v29.6h-25.8zM439.4 328.2h25.8v29.6h-25.8zM414.1 386.4h25.8v29.6h-25.8zM313.1 415.5h25.8v29.6h-25.8zM363.6 415.5h51v29.6h-51zM363.6 473.7h25.8v29.6h-25.8zM363.6 502.8h25.8v29.6h-25.8zM338.4 531.9h25.8v29.6h-25.8zM313.1 590.1h25.8v29.6h-25.8z"/><path fill="#18d7ca" d="M540.4 357.3h25.8v29.6h-25.8zM287.9 386.4h25.8v29.6h-25.8zM237.3 415.5h25.8v29.6h-25.8zM338.4 444.6h51v29.6h-51zM439.4 444.6h25.8v29.6h-25.8zM388.9 473.7h25.8v29.6h-25.8zM388.9 502.8h25.8v29.6h-25.8zM313.1 531.9h25.8v29.6h-25.8z"/><path fill="#18dbc5" d="M186.8 66.3h51v29.6h-51zM489.9 211.8h25.8v29.6h-25.8zM565.6 328.2h25.8v29.6h-25.8zM439.4 357.3h25.8v29.6h-25.8zM540.4 386.4h25.8v29.6h-25.8zM262.6 415.5h25.8v29.6h-25.8zM414.1 415.5h25.8v29.6h-25.8zM313.1 444.6h25.8v29.6h-25.8zM414.1 444.6h25.8v29.6h-25.8zM464.6 444.6h25.8v29.6h-25.8zM338.4 473.7h25.8v29.6h-25.8zM414.1 473.7h25.8v29.6h-25.8zM338.4 502.8h25.8v29.6h-25.8z"/><path fill="#18dec0" d="M237.3 37.2h25.8v29.6h-25.8zM439.4 386.4h25.8v29.6h-25.8zM287.9 415.5h25.8v29.6h-25.8zM388.9 444.6h25.8v29.6h-25.8zM338.4 619.2h25.8v29.6h-25.8z"/><path fill="#19e2bb" d="M540.4 153.6h25.8v29.6h-25.8zM464.6 270h25.8v29.6h-25.8zM464.6 328.2h25.8v29.6h-25.8zM540.4 328.2h25.8v29.6h-25.8zM439.4 415.5h25.8v29.6h-25.8zM262.6 444.6h51v29.6h-51zM313.1 473.7h25.8v29.6h-25.8zM313.1 502.8h25.8v29.6h-25.8zM287.9 531.9h25.8v29.6h-25.8zM363.6 648.3h25.8v29.6h-25.8z"/><path fill="#1ce6b4" d="M464.6 299.1h25.8v29.6h-25.8zM540.4 299.1h25.8v29.6h-25.8zM464.6 357.3h25.8v29.6h-25.8zM287.9 473.7h25.8v29.6h-25.8zM363.6 677.4h25.8v29.6h-25.8z"/><path fill="#1fe9af" d="M186.8 37.2h25.8v29.6h-25.8zM262.6 473.7h25.8v29.6h-25.8zM287.9 502.8h25.8v29.6h-25.8z"/><path fill="#22ebaa" d="M186.8 8.1h25.8v29.6h-25.8zM212.1 37.2h25.8v29.6h-25.8zM464.6 386.4h25.8v29.6h-25.8zM515.1 415.5h25.8v29.6h-25.8zM262.6 502.8h25.8v29.6h-25.8zM313.1 619.2h25.8v29.6h-25.8zM338.4 706.5h25.8v29.6h-25.8z"/><path fill="#27eea4" d="M489.9 240.9h25.8v29.6h-25.8zM515.1 328.2h25.8v29.6h-25.8zM464.6 415.5h25.8v29.6h-25.8z"/><path fill="#2cf09e" d="M540.4 182.7h25.8v29.6h-25.8zM565.6 299.1h25.8v29.6h-25.8zM515.1 357.3h25.8v29.6h-25.8zM338.4 648.3h25.8v29.6h-25.8z"/><path fill="#35f394" d="M212.1 8.1h25.8v29.6h-25.8zM540.4 211.8h25.8v29.6h-25.8zM489.9 270h25.8v29.6h-25.8zM515.1 386.4h25.8v29.6h-25.8zM489.9 415.5h25.8v29.6h-25.8z"/><path fill="#3cf58e" d="M515.1 182.7h25.8v29.6h-25.8zM515.1 211.8h25.8v29.6h-25.8zM540.4 240.9h25.8v29.6h-25.8zM338.4 677.4h25.8v29.6h-25.8z"/><path fill="#43f787" d="M212.1 -21h25.8v29.6h-25.8zM616.1 211.8h25.8v29.6h-25.8zM540.4 270h25.8v29.6h-25.8zM287.9 619.2h25.8v29.6h-25.8z"/><path fill="#4af880" d="M565.6 182.7h25.8v29.6h-25.8zM515.1 240.9h25.8v29.6h-25.8zM565.6 240.9h25.8v29.6h-25.8zM515.1 270h25.8v29.6h-25.8zM565.6 270h25.8v29.6h-25.8zM489.9 299.1h25.8v29.6h-25.8zM590.9 299.1h25.8v29.6h-25.8z"/><path fill="#52fa7a" d="M565.6 211.8h25.8v29.6h-25.8zM616.1 240.9h25.8v29.6h-25.8zM489.9 386.4h25.8v29.6h-25.8zM313.1 648.3h25.8v29.6h-25.8zM313.1 706.5h25.8v29.6h-25.8z"/><path fill="#5dfc6f" d="M590.9 211.8h25.8v29.6h-25.8zM489.9 328.2h25.8v29.6h-25.8zM489.9 357.3h25.8v29.6h-25.8zM313.1 677.4h25.8v29.6h-25.8z"/><path fill="#65fd69" d="M590.9 240.9h25.8v29.6h-25.8zM590.9 270h25.8v29.6h-25.8zM515.1 299.1h25.8v29.6h-25.8z"/><path fill="#6dfe62" d="M287.9 648.3h25.8v29.6h-25.8z"/><path fill="#75fe5c" d="M262.6 648.3h25.8v29.6h-25.8zM287.9 677.4h25.8v29.6h-25.8z"/></g><use href="#bord"/><use href="#over"/><path class="g" d="M60.5 -8L71.5 747.5" style="stroke-width:1.18" opacity="0.7"/><path class="g" d="M230.5 -8L237.5 747.5" style="stroke-width:1.41" opacity="0.95"/><path class="g" d="M398.7 -8L398.7 747.5" style="stroke-width:1.31" opacity="0.85"/><path class="g" d="M568.5 -8L560 747.5" style="stroke-width:1.18" opacity="0.7"/><path d="M0 97.7H659" style="stroke:#fff;stroke-width:1.6;fill:none" opacity="0.3"/><path class="g" d="M-8 288.8H659" style="stroke-width:1.59" opacity="0.9"/><path d="M0 480.6H659" style="stroke:#fff;stroke-width:1.6;fill:none" opacity="0.3"/><path class="g" d="M-8 672.8H659" style="stroke-width:1.43" opacity="0.75"/></g></g><g transform="translate(1456 10)" clip-path="url(#pc)"><g transform="translate(0 0)"><use href="#land"/><g clip-path="url(#bc)"><path fill="#467df4" d="M111.1 211.8h51v29.6h-51zM186.8 211.8h25.8v29.6h-25.8zM161.6 240.9h76.2v29.6h-76.2zM540.4 502.8h25.8v29.6h-25.8zM414.1 590.1h25.8v29.6h-25.8zM414.1 619.2h25.8v29.6h-25.8z"/><path fill="#4682f8" d="M111.1 182.7h25.8v29.6h-25.8zM161.6 211.8h25.8v29.6h-25.8zM212.1 211.8h25.8v29.6h-25.8zM111.1 240.9h51v29.6h-51zM338.4 240.9h25.8v29.6h-25.8zM136.3 270h25.8v29.6h-25.8z"/><path fill="#458afc" d="M85.8 153.6h25.8v29.6h-25.8zM85.8 182.7h25.8v29.6h-25.8zM136.3 182.7h101.5v29.6h-101.5zM85.8 211.8h25.8v29.6h-25.8zM237.3 211.8h25.8v29.6h-25.8zM60.6 240.9h51v29.6h-51zM237.3 240.9h25.8v29.6h-25.8zM363.6 240.9h25.8v29.6h-25.8zM111.1 270h25.8v29.6h-25.8zM161.6 270h101.5v29.6h-101.5zM85.8 299.1h25.8v29.6h-25.8zM161.6 328.2h51v29.6h-51z"/><path fill="#448ffe" d="M60.6 153.6h25.8v29.6h-25.8zM161.6 153.6h25.8v29.6h-25.8zM60.6 182.7h25.8v29.6h-25.8zM237.3 182.7h25.8v29.6h-25.8zM363.6 182.7h25.8v29.6h-25.8zM60.6 211.8h25.8v29.6h-25.8zM262.6 211.8h25.8v29.6h-25.8zM338.4 211.8h25.8v29.6h-25.8zM262.6 240.9h25.8v29.6h-25.8zM60.6 270h51v29.6h-51zM262.6 270h51v29.6h-51zM338.4 270h51v29.6h-51zM60.6 299.1h25.8v29.6h-25.8zM136.3 299.1h152v29.6h-152zM414.1 561h25.8v29.6h-25.8z"/><path fill="#4294ff" d="M363.6 124.5h25.8v29.6h-25.8zM111.1 153.6h51v29.6h-51zM186.8 153.6h76.2v29.6h-76.2zM590.9 153.6h25.8v29.6h-25.8zM35.4 182.7h25.8v29.6h-25.8zM35.4 211.8h25.8v29.6h-25.8zM363.6 211.8h25.8v29.6h-25.8zM287.9 240.9h51v29.6h-51zM313.1 270h25.8v29.6h-25.8zM641.4 270h25.8v29.6h-25.8zM338.4 299.1h25.8v29.6h-25.8zM136.3 328.2h25.8v29.6h-25.8zM212.1 328.2h25.8v29.6h-25.8zM186.8 357.3h25.8v29.6h-25.8z"/><path fill="#4099ff" d="M363.6 8.1h25.8v29.6h-25.8zM85.8 66.3h25.8v29.6h-25.8zM85.8 95.4h25.8v29.6h-25.8zM388.9 95.4h25.8v29.6h-25.8zM60.6 124.5h51v29.6h-51zM338.4 124.5h25.8v29.6h-25.8zM388.9 124.5h25.8v29.6h-25.8zM489.9 124.5h76.2v29.6h-76.2zM35.4 153.6h25.8v29.6h-25.8zM287.9 153.6h25.8v29.6h-25.8zM338.4 153.6h51v29.6h-51zM262.6 182.7h25.8v29.6h-25.8zM313.1 182.7h51v29.6h-51zM590.9 182.7h76.2v29.6h-76.2zM287.9 211.8h51v29.6h-51zM35.4 240.9h25.8v29.6h-25.8zM641.4 240.9h25.8v29.6h-25.8zM388.9 270h25.8v29.6h-25.8zM616.1 270h25.8v29.6h-25.8zM35.4 299.1h25.8v29.6h-25.8zM287.9 299.1h51v29.6h-51zM388.9 299.1h25.8v29.6h-25.8zM616.1 299.1h25.8v29.6h-25.8zM237.3 328.2h25.8v29.6h-25.8zM287.9 328.2h25.8v29.6h-25.8zM338.4 328.2h25.8v29.6h-25.8zM212.1 357.3h25.8v29.6h-25.8zM565.6 357.3h25.8v29.6h-25.8zM565.6 386.4h25.8v29.6h-25.8zM565.6 415.5h25.8v29.6h-25.8zM565.6 473.7h25.8v29.6h-25.8zM489.9 531.9h51v29.6h-51zM439.4 561h25.8v29.6h-25.8zM388.9 677.4h25.8v29.6h-25.8z"/><path fill="#3d9efe" d="M85.8 37.2h25.8v29.6h-25.8zM338.4 37.2h76.2v29.6h-76.2zM60.6 66.3h25.8v29.6h-25.8zM388.9 66.3h25.8v29.6h-25.8zM60.6 95.4h25.8v29.6h-25.8zM338.4 95.4h51v29.6h-51zM414.1 95.4h51v29.6h-51zM111.1 124.5h25.8v29.6h-25.8zM212.1 124.5h51v29.6h-51zM313.1 124.5h25.8v29.6h-25.8zM464.6 124.5h25.8v29.6h-25.8zM262.6 153.6h25.8v29.6h-25.8zM313.1 153.6h25.8v29.6h-25.8zM388.9 153.6h25.8v29.6h-25.8zM565.6 153.6h25.8v29.6h-25.8zM-15.2 182.7h51v29.6h-51zM287.9 182.7h25.8v29.6h-25.8zM388.9 182.7h25.8v29.6h-25.8zM10.1 211.8h25.8v29.6h-25.8zM388.9 211.8h51v29.6h-51zM641.4 211.8h25.8v29.6h-25.8zM10.1 240.9h25.8v29.6h-25.8zM388.9 240.9h25.8v29.6h-25.8zM35.4 270h25.8v29.6h-25.8zM363.6 299.1h25.8v29.6h-25.8zM262.6 328.2h25.8v29.6h-25.8zM313.1 328.2h25.8v29.6h-25.8zM590.9 328.2h25.8v29.6h-25.8zM237.3 357.3h25.8v29.6h-25.8zM565.6 444.6h25.8v29.6h-25.8zM363.6 706.5h25.8v29.6h-25.8z"/><path fill="#38a5fb" d="M60.6 37.2h25.8v29.6h-25.8zM363.6 66.3h25.8v29.6h-25.8zM136.3 124.5h76.2v29.6h-76.2zM262.6 124.5h25.8v29.6h-25.8zM414.1 182.7h25.8v29.6h-25.8zM-15.2 211.8h25.8v29.6h-25.8zM-15.2 240.9h25.8v29.6h-25.8zM414.1 240.9h25.8v29.6h-25.8zM-15.2 270h51v29.6h-51zM363.6 328.2h51v29.6h-51zM338.4 357.3h25.8v29.6h-25.8zM388.9 357.3h25.8v29.6h-25.8z"/><path fill="#35abf8" d="M338.4 66.3h25.8v29.6h-25.8zM111.1 95.4h25.8v29.6h-25.8zM464.6 95.4h25.8v29.6h-25.8zM287.9 124.5h25.8v29.6h-25.8zM414.1 124.5h25.8v29.6h-25.8zM414.1 153.6h51v29.6h-51zM439.4 211.8h25.8v29.6h-25.8zM262.6 357.3h76.2v29.6h-76.2zM363.6 357.3h25.8v29.6h-25.8zM515.1 502.8h25.8v29.6h-25.8zM338.4 735.6h25.8v29.6h-25.8z"/><path fill="#31aff5" d="M313.1 37.2h25.8v29.6h-25.8zM111.1 66.3h25.8v29.6h-25.8zM313.1 66.3h25.8v29.6h-25.8zM237.3 95.4h101.5v29.6h-101.5zM439.4 124.5h25.8v29.6h-25.8zM464.6 153.6h51v29.6h-51zM439.4 182.7h25.8v29.6h-25.8zM414.1 270h25.8v29.6h-25.8zM212.1 386.4h25.8v29.6h-25.8zM540.4 473.7h25.8v29.6h-25.8zM489.9 502.8h25.8v29.6h-25.8zM464.6 531.9h25.8v29.6h-25.8zM388.9 561h25.8v29.6h-25.8zM388.9 590.1h25.8v29.6h-25.8zM388.9 619.2h25.8v29.6h-25.8z"/><path fill="#2eb4f2" d="M136.3 8.1h25.8v29.6h-25.8zM287.9 66.3h25.8v29.6h-25.8zM136.3 95.4h25.8v29.6h-25.8zM439.4 240.9h25.8v29.6h-25.8zM363.6 561h25.8v29.6h-25.8z"/><path fill="#28bceb" d="M262.6 66.3h25.8v29.6h-25.8zM212.1 95.4h25.8v29.6h-25.8zM565.6 124.5h25.8v29.6h-25.8zM515.1 153.6h25.8v29.6h-25.8zM464.6 182.7h25.8v29.6h-25.8zM414.1 299.1h25.8v29.6h-25.8zM237.3 386.4h25.8v29.6h-25.8zM313.1 386.4h25.8v29.6h-25.8zM489.9 473.7h51v29.6h-51zM388.9 648.3h25.8v29.6h-25.8z"/><path fill="#25c0e7" d="M287.9 37.2h25.8v29.6h-25.8zM161.6 95.4h25.8v29.6h-25.8zM489.9 182.7h25.8v29.6h-25.8zM464.6 211.8h25.8v29.6h-25.8zM439.4 270h25.8v29.6h-25.8zM414.1 328.2h25.8v29.6h-25.8zM262.6 386.4h51v29.6h-51zM338.4 386.4h25.8v29.6h-25.8zM388.9 386.4h25.8v29.6h-25.8zM439.4 531.9h25.8v29.6h-25.8zM363.6 590.1h25.8v29.6h-25.8z"/><path fill="#22c5e2" d="M136.3 37.2h25.8v29.6h-25.8zM136.3 66.3h25.8v29.6h-25.8zM237.3 66.3h25.8v29.6h-25.8zM186.8 95.4h25.8v29.6h-25.8zM414.1 357.3h25.8v29.6h-25.8zM363.6 386.4h25.8v29.6h-25.8zM313.1 415.5h25.8v29.6h-25.8zM540.4 444.6h25.8v29.6h-25.8zM439.4 502.8h51v29.6h-51zM338.4 561h25.8v29.6h-25.8z"/><path fill="#1fc9dd" d="M262.6 37.2h25.8v29.6h-25.8zM464.6 240.9h25.8v29.6h-25.8zM414.1 386.4h25.8v29.6h-25.8zM237.3 415.5h25.8v29.6h-25.8zM287.9 415.5h25.8v29.6h-25.8zM338.4 415.5h25.8v29.6h-25.8zM414.1 531.9h25.8v29.6h-25.8z"/><path fill="#1ccdd8" d="M489.9 211.8h25.8v29.6h-25.8zM439.4 299.1h25.8v29.6h-25.8zM262.6 415.5h25.8v29.6h-25.8zM363.6 415.5h51v29.6h-51zM540.4 415.5h25.8v29.6h-25.8zM363.6 444.6h25.8v29.6h-25.8zM464.6 473.7h25.8v29.6h-25.8zM363.6 502.8h25.8v29.6h-25.8zM414.1 502.8h25.8v29.6h-25.8zM363.6 619.2h25.8v29.6h-25.8z"/><path fill="#1ad4d0" d="M161.6 8.1h25.8v29.6h-25.8zM414.1 415.5h25.8v29.6h-25.8zM313.1 444.6h51v29.6h-51zM388.9 444.6h25.8v29.6h-25.8zM338.4 473.7h76.2v29.6h-76.2zM439.4 473.7h25.8v29.6h-25.8zM338.4 502.8h25.8v29.6h-25.8zM338.4 531.9h76.2v29.6h-76.2zM313.1 561h25.8v29.6h-25.8z"/><path fill="#18d7ca" d="M161.6 66.3h25.8v29.6h-25.8zM439.4 328.2h25.8v29.6h-25.8zM439.4 357.3h25.8v29.6h-25.8zM540.4 357.3h25.8v29.6h-25.8zM439.4 386.4h25.8v29.6h-25.8zM540.4 386.4h25.8v29.6h-25.8zM262.6 444.6h51v29.6h-51zM414.1 444.6h25.8v29.6h-25.8zM489.9 444.6h51v29.6h-51zM313.1 473.7h25.8v29.6h-25.8zM388.9 502.8h25.8v29.6h-25.8zM338.4 590.1h25.8v29.6h-25.8z"/><path fill="#18dbc5" d="M464.6 270h25.8v29.6h-25.8zM439.4 444.6h51v29.6h-51zM287.9 473.7h25.8v29.6h-25.8zM414.1 473.7h25.8v29.6h-25.8zM313.1 502.8h25.8v29.6h-25.8zM313.1 531.9h25.8v29.6h-25.8zM313.1 590.1h25.8v29.6h-25.8z"/><path fill="#18dec0" d="M161.6 37.2h25.8v29.6h-25.8zM540.4 153.6h25.8v29.6h-25.8zM565.6 328.2h25.8v29.6h-25.8zM439.4 415.5h25.8v29.6h-25.8zM262.6 473.7h25.8v29.6h-25.8zM262.6 502.8h25.8v29.6h-25.8zM287.9 531.9h25.8v29.6h-25.8z"/><path fill="#19e2bb" d="M237.3 37.2h25.8v29.6h-25.8zM212.1 66.3h25.8v29.6h-25.8zM464.6 328.2h25.8v29.6h-25.8zM287.9 502.8h25.8v29.6h-25.8z"/><path fill="#1ce6b4" d="M540.4 182.7h25.8v29.6h-25.8zM540.4 328.2h25.8v29.6h-25.8zM464.6 357.3h25.8v29.6h-25.8zM464.6 386.4h25.8v29.6h-25.8zM338.4 619.2h25.8v29.6h-25.8zM363.6 648.3h25.8v29.6h-25.8zM363.6 677.4h25.8v29.6h-25.8z"/><path fill="#1fe9af" d="M186.8 66.3h25.8v29.6h-25.8zM515.1 182.7h25.8v29.6h-25.8zM489.9 240.9h25.8v29.6h-25.8zM464.6 299.1h25.8v29.6h-25.8zM313.1 619.2h25.8v29.6h-25.8z"/><path fill="#22ebaa" d="M338.4 706.5h25.8v29.6h-25.8z"/><path fill="#27eea4" d="M515.1 211.8h51v29.6h-51zM540.4 299.1h25.8v29.6h-25.8zM515.1 357.3h25.8v29.6h-25.8zM464.6 415.5h25.8v29.6h-25.8zM515.1 415.5h25.8v29.6h-25.8z"/><path fill="#2cf09e" d="M186.8 8.1h25.8v29.6h-25.8zM186.8 37.2h51v29.6h-51zM616.1 211.8h25.8v29.6h-25.8zM540.4 240.9h25.8v29.6h-25.8zM489.9 270h25.8v29.6h-25.8zM515.1 386.4h25.8v29.6h-25.8zM287.9 619.2h25.8v29.6h-25.8zM338.4 648.3h25.8v29.6h-25.8z"/><path fill="#35f394" d="M515.1 240.9h25.8v29.6h-25.8zM515.1 328.2h25.8v29.6h-25.8zM489.9 415.5h25.8v29.6h-25.8zM313.1 648.3h25.8v29.6h-25.8z"/><path fill="#3cf58e" d="M565.6 182.7h25.8v29.6h-25.8zM590.9 211.8h25.8v29.6h-25.8zM338.4 677.4h25.8v29.6h-25.8z"/><path fill="#43f787" d="M565.6 211.8h25.8v29.6h-25.8zM565.6 240.9h25.8v29.6h-25.8zM616.1 240.9h25.8v29.6h-25.8zM489.9 299.1h25.8v29.6h-25.8zM489.9 386.4h25.8v29.6h-25.8zM313.1 677.4h25.8v29.6h-25.8z"/><path fill="#4af880" d="M212.1 8.1h25.8v29.6h-25.8zM590.9 240.9h25.8v29.6h-25.8zM565.6 299.1h25.8v29.6h-25.8zM287.9 648.3h25.8v29.6h-25.8zM287.9 677.4h25.8v29.6h-25.8zM313.1 706.5h25.8v29.6h-25.8z"/><path fill="#52fa7a" d="M212.1 -21h25.8v29.6h-25.8zM540.4 270h25.8v29.6h-25.8zM590.9 299.1h25.8v29.6h-25.8zM262.6 648.3h25.8v29.6h-25.8z"/><path fill="#5dfc6f" d="M515.1 270h25.8v29.6h-25.8zM489.9 328.2h25.8v29.6h-25.8zM489.9 357.3h25.8v29.6h-25.8z"/><path fill="#65fd69" d="M565.6 270h51v29.6h-51z"/><path fill="#75fe5c" d="M515.1 299.1h25.8v29.6h-25.8z"/></g><use href="#bord"/><use href="#over"/><path class="g" d="M60.5 -8L71.5 747.5" style="stroke-width:1" opacity="0.5"/><path class="g" d="M230.5 -8L237.5 747.5" style="stroke-width:1.18" opacity="0.7"/><path class="g" d="M398.7 -8L398.7 747.5" style="stroke-width:1.23" opacity="0.75"/><path class="g" d="M568.5 -8L560 747.5" style="stroke-width:1" opacity="0.5"/><path class="g" d="M-8 97.7H659" style="stroke-width:1.37" opacity="0.7"/><path class="g" d="M-8 288.8H659" style="stroke-width:1.59" opacity="0.9"/><path d="M0 480.6H659" style="stroke:#fff;stroke-width:1.6;fill:none" opacity="0.3"/><path class="g" d="M-8 672.8H659" style="stroke-width:1.54" opacity="0.85"/></g></g><g transform="translate(12 853.3)" clip-path="url(#pc)"><g transform="translate(0 0)"><use href="#land"/><g clip-path="url(#bc)"><path fill="#4778f0" d="M414.1 590.1h25.8v29.6h-25.8z"/><path fill="#467df4" d="M136.3 182.7h25.8v29.6h-25.8zM111.1 211.8h25.8v29.6h-25.8zM161.6 240.9h76.2v29.6h-76.2zM212.1 270h25.8v29.6h-25.8zM540.4 502.8h25.8v29.6h-25.8zM414.1 619.2h25.8v29.6h-25.8z"/><path fill="#4682f8" d="M85.8 182.7h51v29.6h-51zM161.6 182.7h25.8v29.6h-25.8zM60.6 211.8h51v29.6h-51zM136.3 211.8h126.8v29.6h-126.8zM313.1 211.8h51v29.6h-51zM85.8 240.9h76.2v29.6h-76.2zM237.3 240.9h25.8v29.6h-25.8zM287.9 240.9h51v29.6h-51zM363.6 240.9h25.8v29.6h-25.8zM111.1 270h101.5v29.6h-101.5zM237.3 270h51v29.6h-51zM338.4 270h25.8v29.6h-25.8z"/><path fill="#458afc" d="M85.8 153.6h25.8v29.6h-25.8zM136.3 153.6h25.8v29.6h-25.8zM186.8 153.6h25.8v29.6h-25.8zM186.8 182.7h101.5v29.6h-101.5zM313.1 182.7h25.8v29.6h-25.8zM363.6 182.7h25.8v29.6h-25.8zM35.4 211.8h25.8v29.6h-25.8zM262.6 211.8h51v29.6h-51zM262.6 240.9h25.8v29.6h-25.8zM338.4 240.9h25.8v29.6h-25.8zM287.9 270h51v29.6h-51zM186.8 299.1h76.2v29.6h-76.2zM287.9 299.1h25.8v29.6h-25.8zM414.1 561h25.8v29.6h-25.8z"/><path fill="#448ffe" d="M111.1 124.5h51v29.6h-51zM338.4 124.5h25.8v29.6h-25.8zM388.9 124.5h25.8v29.6h-25.8zM111.1 153.6h25.8v29.6h-25.8zM161.6 153.6h25.8v29.6h-25.8zM237.3 153.6h25.8v29.6h-25.8zM388.9 153.6h25.8v29.6h-25.8zM35.4 182.7h51v29.6h-51zM287.9 182.7h25.8v29.6h-25.8zM338.4 182.7h25.8v29.6h-25.8zM35.4 240.9h51v29.6h-51zM85.8 270h25.8v29.6h-25.8zM363.6 270h25.8v29.6h-25.8zM136.3 299.1h51v29.6h-51zM262.6 299.1h25.8v29.6h-25.8zM136.3 328.2h51v29.6h-51zM212.1 328.2h25.8v29.6h-25.8z"/><path fill="#4294ff" d="M388.9 37.2h25.8v29.6h-25.8zM111.1 95.4h25.8v29.6h-25.8zM363.6 95.4h51v29.6h-51zM464.6 95.4h25.8v29.6h-25.8zM60.6 124.5h51v29.6h-51zM161.6 124.5h25.8v29.6h-25.8zM363.6 124.5h25.8v29.6h-25.8zM439.4 124.5h25.8v29.6h-25.8zM515.1 124.5h25.8v29.6h-25.8zM35.4 153.6h51v29.6h-51zM212.1 153.6h25.8v29.6h-25.8zM262.6 153.6h101.5v29.6h-101.5zM616.1 182.7h25.8v29.6h-25.8zM363.6 211.8h25.8v29.6h-25.8zM641.4 240.9h25.8v29.6h-25.8zM60.6 270h25.8v29.6h-25.8zM388.9 270h25.8v29.6h-25.8zM616.1 270h25.8v29.6h-25.8zM85.8 299.1h25.8v29.6h-25.8zM313.1 299.1h51v29.6h-51zM616.1 299.1h25.8v29.6h-25.8zM186.8 328.2h25.8v29.6h-25.8zM338.4 328.2h25.8v29.6h-25.8zM565.6 386.4h25.8v29.6h-25.8zM565.6 415.5h25.8v29.6h-25.8zM439.4 561h25.8v29.6h-25.8zM388.9 677.4h25.8v29.6h-25.8zM363.6 706.5h25.8v29.6h-25.8z"/><path fill="#4099ff" d="M363.6 8.1h25.8v29.6h-25.8zM363.6 37.2h25.8v29.6h-25.8zM85.8 95.4h25.8v29.6h-25.8zM414.1 95.4h51v29.6h-51zM186.8 124.5h51v29.6h-51zM414.1 124.5h25.8v29.6h-25.8zM464.6 124.5h51v29.6h-51zM540.4 124.5h25.8v29.6h-25.8zM363.6 153.6h25.8v29.6h-25.8zM464.6 153.6h25.8v29.6h-25.8zM565.6 153.6h51v29.6h-51zM10.1 182.7h25.8v29.6h-25.8zM388.9 182.7h51v29.6h-51zM590.9 182.7h25.8v29.6h-25.8zM641.4 182.7h25.8v29.6h-25.8zM388.9 211.8h25.8v29.6h-25.8zM641.4 211.8h25.8v29.6h-25.8zM10.1 240.9h25.8v29.6h-25.8zM35.4 270h25.8v29.6h-25.8zM641.4 270h25.8v29.6h-25.8zM60.6 299.1h25.8v29.6h-25.8zM363.6 299.1h25.8v29.6h-25.8zM237.3 328.2h25.8v29.6h-25.8zM287.9 328.2h25.8v29.6h-25.8zM590.9 328.2h25.8v29.6h-25.8zM186.8 357.3h25.8v29.6h-25.8zM565.6 357.3h25.8v29.6h-25.8zM565.6 444.6h25.8v29.6h-25.8zM565.6 473.7h25.8v29.6h-25.8zM489.9 531.9h51v29.6h-51z"/><path fill="#3d9efe" d="M60.6 37.2h25.8v29.6h-25.8zM60.6 66.3h25.8v29.6h-25.8zM363.6 66.3h51v29.6h-51zM60.6 95.4h25.8v29.6h-25.8zM136.3 95.4h25.8v29.6h-25.8zM338.4 95.4h25.8v29.6h-25.8zM237.3 124.5h51v29.6h-51zM313.1 124.5h25.8v29.6h-25.8zM414.1 153.6h51v29.6h-51zM489.9 153.6h25.8v29.6h-25.8zM464.6 182.7h25.8v29.6h-25.8zM10.1 211.8h25.8v29.6h-25.8zM414.1 211.8h25.8v29.6h-25.8zM-15.2 240.9h25.8v29.6h-25.8zM388.9 240.9h51v29.6h-51zM10.1 270h25.8v29.6h-25.8zM35.4 299.1h25.8v29.6h-25.8zM388.9 299.1h25.8v29.6h-25.8zM262.6 328.2h25.8v29.6h-25.8zM313.1 328.2h25.8v29.6h-25.8zM388.9 619.2h25.8v29.6h-25.8z"/><path fill="#38a5fb" d="M85.8 37.2h25.8v29.6h-25.8zM85.8 66.3h51v29.6h-51zM287.9 124.5h25.8v29.6h-25.8zM565.6 124.5h25.8v29.6h-25.8zM515.1 153.6h25.8v29.6h-25.8zM-15.2 182.7h25.8v29.6h-25.8zM439.4 182.7h25.8v29.6h-25.8zM-15.2 211.8h25.8v29.6h-25.8zM439.4 211.8h25.8v29.6h-25.8zM439.4 240.9h25.8v29.6h-25.8zM-15.2 270h25.8v29.6h-25.8zM414.1 270h25.8v29.6h-25.8zM363.6 328.2h51v29.6h-51zM212.1 357.3h51v29.6h-51zM338.4 735.6h25.8v29.6h-25.8z"/><path fill="#35abf8" d="M338.4 37.2h25.8v29.6h-25.8zM338.4 66.3h25.8v29.6h-25.8zM161.6 95.4h25.8v29.6h-25.8zM313.1 95.4h25.8v29.6h-25.8zM489.9 182.7h25.8v29.6h-25.8zM262.6 357.3h25.8v29.6h-25.8zM313.1 357.3h51v29.6h-51zM388.9 590.1h25.8v29.6h-25.8zM388.9 648.3h25.8v29.6h-25.8z"/><path fill="#31aff5" d="M136.3 8.1h25.8v29.6h-25.8zM287.9 357.3h25.8v29.6h-25.8zM388.9 357.3h25.8v29.6h-25.8zM237.3 386.4h25.8v29.6h-25.8z"/><path fill="#2eb4f2" d="M136.3 66.3h25.8v29.6h-25.8zM237.3 95.4h76.2v29.6h-76.2zM540.4 153.6h25.8v29.6h-25.8zM464.6 211.8h25.8v29.6h-25.8zM414.1 299.1h25.8v29.6h-25.8zM363.6 357.3h25.8v29.6h-25.8zM212.1 386.4h25.8v29.6h-25.8z"/><path fill="#28bceb" d="M136.3 37.2h25.8v29.6h-25.8zM186.8 95.4h25.8v29.6h-25.8zM439.4 270h25.8v29.6h-25.8zM414.1 328.2h25.8v29.6h-25.8zM363.6 561h51v29.6h-51zM363.6 590.1h25.8v29.6h-25.8z"/><path fill="#25c0e7" d="M212.1 95.4h25.8v29.6h-25.8zM489.9 211.8h25.8v29.6h-25.8zM464.6 240.9h25.8v29.6h-25.8zM439.4 299.1h25.8v29.6h-25.8zM363.6 619.2h25.8v29.6h-25.8z"/><path fill="#22c5e2" d="M262.6 66.3h25.8v29.6h-25.8zM313.1 66.3h25.8v29.6h-25.8zM540.4 182.7h25.8v29.6h-25.8zM414.1 357.3h25.8v29.6h-25.8zM262.6 386.4h76.2v29.6h-76.2zM237.3 415.5h25.8v29.6h-25.8zM540.4 473.7h25.8v29.6h-25.8z"/><path fill="#1fc9dd" d="M161.6 8.1h25.8v29.6h-25.8zM313.1 37.2h25.8v29.6h-25.8zM161.6 66.3h25.8v29.6h-25.8zM287.9 66.3h25.8v29.6h-25.8zM338.4 386.4h25.8v29.6h-25.8zM515.1 502.8h25.8v29.6h-25.8zM338.4 561h25.8v29.6h-25.8z"/><path fill="#1ccdd8" d="M237.3 66.3h25.8v29.6h-25.8zM439.4 328.2h25.8v29.6h-25.8zM464.6 531.9h25.8v29.6h-25.8zM338.4 590.1h25.8v29.6h-25.8z"/><path fill="#1ad4d0" d="M161.6 37.2h25.8v29.6h-25.8zM287.9 37.2h25.8v29.6h-25.8zM515.1 182.7h25.8v29.6h-25.8zM565.6 182.7h25.8v29.6h-25.8zM540.4 211.8h25.8v29.6h-25.8zM464.6 270h25.8v29.6h-25.8zM262.6 415.5h25.8v29.6h-25.8zM489.9 502.8h25.8v29.6h-25.8zM313.1 561h25.8v29.6h-25.8zM363.6 648.3h25.8v29.6h-25.8zM363.6 677.4h25.8v29.6h-25.8z"/><path fill="#18d7ca" d="M262.6 37.2h25.8v29.6h-25.8zM363.6 386.4h51v29.6h-51zM287.9 415.5h25.8v29.6h-25.8zM313.1 590.1h25.8v29.6h-25.8zM338.4 619.2h25.8v29.6h-25.8z"/><path fill="#18dbc5" d="M515.1 211.8h25.8v29.6h-25.8zM616.1 211.8h25.8v29.6h-25.8zM439.4 357.3h25.8v29.6h-25.8zM414.1 386.4h25.8v29.6h-25.8zM313.1 415.5h25.8v29.6h-25.8zM540.4 444.6h25.8v29.6h-25.8zM515.1 473.7h25.8v29.6h-25.8zM439.4 531.9h25.8v29.6h-25.8zM313.1 619.2h25.8v29.6h-25.8zM338.4 648.3h25.8v29.6h-25.8zM338.4 706.5h25.8v29.6h-25.8z"/><path fill="#18dec0" d="M237.3 37.2h25.8v29.6h-25.8zM489.9 240.9h25.8v29.6h-25.8zM464.6 299.1h25.8v29.6h-25.8zM338.4 415.5h25.8v29.6h-25.8zM489.9 473.7h25.8v29.6h-25.8z"/><path fill="#19e2bb" d="M186.8 66.3h25.8v29.6h-25.8zM565.6 211.8h51v29.6h-51zM464.6 328.2h25.8v29.6h-25.8zM363.6 415.5h25.8v29.6h-25.8zM262.6 444.6h25.8v29.6h-25.8zM338.4 531.9h101.5v29.6h-101.5zM338.4 677.4h25.8v29.6h-25.8z"/><path fill="#1ce6b4" d="M212.1 66.3h25.8v29.6h-25.8zM540.4 240.9h25.8v29.6h-25.8zM540.4 415.5h25.8v29.6h-25.8zM287.9 444.6h101.5v29.6h-101.5zM464.6 502.8h25.8v29.6h-25.8zM313.1 648.3h25.8v29.6h-25.8zM313.1 677.4h25.8v29.6h-25.8zM313.1 706.5h25.8v29.6h-25.8z"/><path fill="#1fe9af" d="M515.1 240.9h25.8v29.6h-25.8zM616.1 240.9h25.8v29.6h-25.8zM489.9 270h25.8v29.6h-25.8zM464.6 357.3h25.8v29.6h-25.8zM439.4 386.4h25.8v29.6h-25.8zM388.9 415.5h25.8v29.6h-25.8zM313.1 473.7h76.2v29.6h-76.2zM338.4 502.8h25.8v29.6h-25.8zM439.4 502.8h25.8v29.6h-25.8zM287.9 531.9h51v29.6h-51zM287.9 619.2h25.8v29.6h-25.8zM287.9 648.3h25.8v29.6h-25.8z"/><path fill="#22ebaa" d="M565.6 240.9h51v29.6h-51zM414.1 415.5h25.8v29.6h-25.8zM388.9 444.6h25.8v29.6h-25.8zM262.6 473.7h25.8v29.6h-25.8zM262.6 502.8h25.8v29.6h-25.8zM363.6 502.8h76.2v29.6h-76.2zM262.6 648.3h25.8v29.6h-25.8z"/><path fill="#27eea4" d="M186.8 8.1h25.8v29.6h-25.8zM540.4 386.4h25.8v29.6h-25.8zM489.9 444.6h51v29.6h-51zM287.9 473.7h25.8v29.6h-25.8zM388.9 473.7h25.8v29.6h-25.8zM313.1 502.8h25.8v29.6h-25.8zM287.9 677.4h25.8v29.6h-25.8z"/><path fill="#2cf09e" d="M186.8 37.2h25.8v29.6h-25.8zM414.1 444.6h25.8v29.6h-25.8zM414.1 473.7h51v29.6h-51zM287.9 502.8h25.8v29.6h-25.8z"/><path fill="#35f394" d="M212.1 8.1h25.8v29.6h-25.8zM212.1 37.2h25.8v29.6h-25.8zM489.9 299.1h25.8v29.6h-25.8zM540.4 357.3h25.8v29.6h-25.8zM439.4 415.5h25.8v29.6h-25.8zM464.6 473.7h25.8v29.6h-25.8z"/><path fill="#3cf58e" d="M212.1 -21h25.8v29.6h-25.8zM439.4 444.6h25.8v29.6h-25.8z"/><path fill="#43f787" d="M515.1 270h25.8v29.6h-25.8zM540.4 328.2h51v29.6h-51zM464.6 386.4h25.8v29.6h-25.8z"/><path fill="#4af880" d="M590.9 270h25.8v29.6h-25.8zM540.4 299.1h25.8v29.6h-25.8zM464.6 444.6h25.8v29.6h-25.8z"/><path fill="#52fa7a" d="M515.1 415.5h25.8v29.6h-25.8z"/><path fill="#5dfc6f" d="M515.1 328.2h25.8v29.6h-25.8zM464.6 415.5h25.8v29.6h-25.8z"/><path fill="#65fd69" d="M540.4 270h51v29.6h-51zM590.9 299.1h25.8v29.6h-25.8zM515.1 386.4h25.8v29.6h-25.8z"/><path fill="#6dfe62" d="M515.1 357.3h25.8v29.6h-25.8zM489.9 415.5h25.8v29.6h-25.8z"/><path fill="#75fe5c" d="M515.1 299.1h25.8v29.6h-25.8zM565.6 299.1h25.8v29.6h-25.8zM489.9 328.2h25.8v29.6h-25.8z"/><path fill="#88ff4e" d="M489.9 357.3h25.8v29.6h-25.8zM489.9 386.4h25.8v29.6h-25.8z"/></g><use href="#bord"/><use href="#over"/><path class="g" d="M60.5 -8L71.5 747.5" style="stroke-width:1.09" opacity="0.6"/><path class="g" d="M230.5 -8L237.5 747.5" style="stroke-width:1.31" opacity="0.85"/><path class="g" d="M398.7 -8L398.7 747.5" style="stroke-width:1.31" opacity="0.85"/><path class="g" d="M568.5 -8L560 747.5" style="stroke-width:1.09" opacity="0.6"/><path class="g" d="M-8 97.7H659" style="stroke-width:1.54" opacity="0.85"/><path class="g" d="M-8 288.8H659" style="stroke-width:1.59" opacity="0.9"/><path d="M0 480.6H659" style="stroke:#fff;stroke-width:1.6;fill:none" opacity="0.3"/><path class="g" d="M-8 672.8H659" style="stroke-width:1.54" opacity="0.85"/></g></g><g transform="translate(735 853.4)" clip-path="url(#pc)"><g transform="translate(0 0)"><use href="#land"/><g clip-path="url(#bc)"><path fill="#4778f0" d="M540.4 502.8h25.8v29.6h-25.8z"/><path fill="#467df4" d="M111.1 211.8h51v29.6h-51zM414.1 590.1h25.8v29.6h-25.8zM414.1 619.2h25.8v29.6h-25.8z"/><path fill="#4682f8" d="M111.1 124.5h51v29.6h-51zM186.8 124.5h25.8v29.6h-25.8zM136.3 153.6h51v29.6h-51zM111.1 182.7h25.8v29.6h-25.8zM161.6 182.7h25.8v29.6h-25.8zM161.6 211.8h76.2v29.6h-76.2zM212.1 240.9h25.8v29.6h-25.8z"/><path fill="#458afc" d="M136.3 95.4h25.8v29.6h-25.8zM161.6 124.5h25.8v29.6h-25.8zM388.9 124.5h25.8v29.6h-25.8zM85.8 153.6h51v29.6h-51zM212.1 153.6h25.8v29.6h-25.8zM388.9 153.6h25.8v29.6h-25.8zM85.8 182.7h25.8v29.6h-25.8zM136.3 182.7h25.8v29.6h-25.8zM186.8 182.7h51v29.6h-51zM237.3 211.8h51v29.6h-51zM111.1 240.9h101.5v29.6h-101.5zM237.3 240.9h25.8v29.6h-25.8zM136.3 270h76.2v29.6h-76.2zM414.1 561h25.8v29.6h-25.8z"/><path fill="#448ffe" d="M111.1 95.4h25.8v29.6h-25.8zM85.8 124.5h25.8v29.6h-25.8zM212.1 124.5h25.8v29.6h-25.8zM363.6 124.5h25.8v29.6h-25.8zM60.6 153.6h25.8v29.6h-25.8zM186.8 153.6h25.8v29.6h-25.8zM237.3 153.6h25.8v29.6h-25.8zM363.6 182.7h25.8v29.6h-25.8zM60.6 211.8h51v29.6h-51zM85.8 240.9h25.8v29.6h-25.8zM262.6 240.9h25.8v29.6h-25.8zM338.4 240.9h25.8v29.6h-25.8zM111.1 270h25.8v29.6h-25.8zM212.1 270h51v29.6h-51zM338.4 270h25.8v29.6h-25.8zM161.6 299.1h51v29.6h-51z"/><path fill="#4294ff" d="M363.6 8.1h25.8v29.6h-25.8zM338.4 37.2h25.8v29.6h-25.8zM388.9 37.2h25.8v29.6h-25.8zM85.8 66.3h51v29.6h-51zM363.6 66.3h51v29.6h-51zM85.8 95.4h25.8v29.6h-25.8zM161.6 95.4h25.8v29.6h-25.8zM237.3 95.4h25.8v29.6h-25.8zM464.6 95.4h25.8v29.6h-25.8zM60.6 124.5h25.8v29.6h-25.8zM237.3 124.5h51v29.6h-51zM338.4 124.5h25.8v29.6h-25.8zM439.4 124.5h25.8v29.6h-25.8zM515.1 124.5h51v29.6h-51zM35.4 153.6h25.8v29.6h-25.8zM565.6 153.6h51v29.6h-51zM60.6 182.7h25.8v29.6h-25.8zM237.3 182.7h51v29.6h-51zM313.1 182.7h51v29.6h-51zM35.4 211.8h25.8v29.6h-25.8zM287.9 211.8h76.2v29.6h-76.2zM641.4 211.8h25.8v29.6h-25.8zM35.4 240.9h51v29.6h-51zM287.9 240.9h25.8v29.6h-25.8zM85.8 270h25.8v29.6h-25.8zM262.6 270h51v29.6h-51zM641.4 270h25.8v29.6h-25.8zM136.3 299.1h25.8v29.6h-25.8zM212.1 299.1h25.8v29.6h-25.8zM616.1 299.1h25.8v29.6h-25.8zM136.3 328.2h51v29.6h-51zM565.6 473.7h25.8v29.6h-25.8zM489.9 531.9h25.8v29.6h-25.8z"/><path fill="#4099ff" d="M85.8 37.2h25.8v29.6h-25.8zM363.6 37.2h25.8v29.6h-25.8zM60.6 66.3h25.8v29.6h-25.8zM186.8 95.4h25.8v29.6h-25.8zM338.4 95.4h126.8v29.6h-126.8zM313.1 124.5h25.8v29.6h-25.8zM414.1 124.5h25.8v29.6h-25.8zM464.6 124.5h51v29.6h-51zM262.6 153.6h126.8v29.6h-126.8zM414.1 153.6h25.8v29.6h-25.8zM464.6 153.6h25.8v29.6h-25.8zM35.4 182.7h25.8v29.6h-25.8zM287.9 182.7h25.8v29.6h-25.8zM388.9 182.7h25.8v29.6h-25.8zM590.9 182.7h76.2v29.6h-76.2zM363.6 211.8h25.8v29.6h-25.8zM313.1 240.9h25.8v29.6h-25.8zM363.6 240.9h25.8v29.6h-25.8zM641.4 240.9h25.8v29.6h-25.8zM60.6 270h25.8v29.6h-25.8zM313.1 270h25.8v29.6h-25.8zM616.1 270h25.8v29.6h-25.8zM60.6 299.1h51v29.6h-51zM237.3 299.1h51v29.6h-51zM186.8 328.2h25.8v29.6h-25.8zM590.9 328.2h25.8v29.6h-25.8zM565.6 357.3h25.8v29.6h-25.8zM565.6 386.4h25.8v29.6h-25.8zM565.6 415.5h25.8v29.6h-25.8zM565.6 444.6h25.8v29.6h-25.8zM515.1 531.9h25.8v29.6h-25.8zM439.4 561h25.8v29.6h-25.8zM388.9 677.4h25.8v29.6h-25.8zM363.6 706.5h25.8v29.6h-25.8z"/><path fill="#3d9efe" d="M136.3 8.1h25.8v29.6h-25.8zM60.6 37.2h25.8v29.6h-25.8zM136.3 37.2h25.8v29.6h-25.8zM136.3 66.3h25.8v29.6h-25.8zM338.4 66.3h25.8v29.6h-25.8zM60.6 95.4h25.8v29.6h-25.8zM212.1 95.4h25.8v29.6h-25.8zM262.6 95.4h25.8v29.6h-25.8zM313.1 95.4h25.8v29.6h-25.8zM287.9 124.5h25.8v29.6h-25.8zM439.4 153.6h25.8v29.6h-25.8zM-15.2 182.7h25.8v29.6h-25.8zM-15.2 211.8h51v29.6h-51zM388.9 211.8h25.8v29.6h-25.8zM10.1 240.9h25.8v29.6h-25.8zM35.4 270h25.8v29.6h-25.8zM363.6 270h25.8v29.6h-25.8zM35.4 299.1h25.8v29.6h-25.8zM287.9 299.1h25.8v29.6h-25.8zM212.1 328.2h25.8v29.6h-25.8zM338.4 735.6h25.8v29.6h-25.8z"/><path fill="#38a5fb" d="M161.6 66.3h25.8v29.6h-25.8zM262.6 66.3h76.2v29.6h-76.2zM287.9 95.4h25.8v29.6h-25.8zM10.1 182.7h25.8v29.6h-25.8zM414.1 182.7h25.8v29.6h-25.8zM-15.2 240.9h25.8v29.6h-25.8zM388.9 270h25.8v29.6h-25.8zM313.1 299.1h25.8v29.6h-25.8zM237.3 328.2h25.8v29.6h-25.8zM186.8 357.3h25.8v29.6h-25.8zM388.9 648.3h25.8v29.6h-25.8z"/><path fill="#35abf8" d="M313.1 37.2h25.8v29.6h-25.8zM565.6 124.5h25.8v29.6h-25.8zM489.9 153.6h51v29.6h-51zM439.4 182.7h25.8v29.6h-25.8zM414.1 211.8h25.8v29.6h-25.8zM388.9 240.9h25.8v29.6h-25.8zM-15.2 270h51v29.6h-51zM338.4 299.1h25.8v29.6h-25.8zM212.1 357.3h25.8v29.6h-25.8zM388.9 590.1h25.8v29.6h-25.8zM363.6 619.2h51v29.6h-51zM262.6 648.3h25.8v29.6h-25.8z"/><path fill="#31aff5" d="M161.6 37.2h25.8v29.6h-25.8zM287.9 37.2h25.8v29.6h-25.8zM237.3 66.3h25.8v29.6h-25.8zM464.6 182.7h25.8v29.6h-25.8zM363.6 299.1h25.8v29.6h-25.8zM262.6 328.2h25.8v29.6h-25.8zM338.4 619.2h25.8v29.6h-25.8zM287.9 648.3h25.8v29.6h-25.8zM363.6 648.3h25.8v29.6h-25.8zM287.9 677.4h51v29.6h-51zM363.6 677.4h25.8v29.6h-25.8zM338.4 706.5h25.8v29.6h-25.8z"/><path fill="#2eb4f2" d="M161.6 8.1h25.8v29.6h-25.8zM262.6 37.2h25.8v29.6h-25.8zM186.8 66.3h25.8v29.6h-25.8zM414.1 240.9h25.8v29.6h-25.8zM388.9 299.1h25.8v29.6h-25.8zM338.4 328.2h25.8v29.6h-25.8zM237.3 357.3h25.8v29.6h-25.8zM363.6 590.1h25.8v29.6h-25.8zM313.1 619.2h25.8v29.6h-25.8zM313.1 648.3h51v29.6h-51zM338.4 677.4h25.8v29.6h-25.8zM313.1 706.5h25.8v29.6h-25.8z"/><path fill="#28bceb" d="M212.1 66.3h25.8v29.6h-25.8zM489.9 182.7h25.8v29.6h-25.8zM439.4 211.8h25.8v29.6h-25.8zM287.9 328.2h51v29.6h-51zM388.9 561h25.8v29.6h-25.8z"/><path fill="#25c0e7" d="M237.3 37.2h25.8v29.6h-25.8zM540.4 153.6h25.8v29.6h-25.8zM439.4 240.9h25.8v29.6h-25.8zM414.1 270h25.8v29.6h-25.8zM388.9 328.2h25.8v29.6h-25.8zM262.6 357.3h25.8v29.6h-25.8zM338.4 357.3h25.8v29.6h-25.8zM212.1 386.4h25.8v29.6h-25.8zM540.4 473.7h25.8v29.6h-25.8zM363.6 561h25.8v29.6h-25.8zM287.9 619.2h25.8v29.6h-25.8z"/><path fill="#22c5e2" d="M363.6 328.2h25.8v29.6h-25.8z"/><path fill="#1fc9dd" d="M464.6 211.8h25.8v29.6h-25.8zM287.9 357.3h51v29.6h-51zM237.3 386.4h25.8v29.6h-25.8zM515.1 502.8h25.8v29.6h-25.8zM464.6 531.9h25.8v29.6h-25.8zM313.1 590.1h51v29.6h-51z"/><path fill="#1ccdd8" d="M186.8 37.2h51v29.6h-51zM540.4 182.7h25.8v29.6h-25.8zM439.4 270h25.8v29.6h-25.8zM388.9 357.3h25.8v29.6h-25.8zM515.1 473.7h25.8v29.6h-25.8zM489.9 502.8h25.8v29.6h-25.8z"/><path fill="#1ad4d0" d="M489.9 211.8h25.8v29.6h-25.8zM414.1 299.1h25.8v29.6h-25.8zM414.1 328.2h25.8v29.6h-25.8zM363.6 357.3h25.8v29.6h-25.8zM262.6 386.4h25.8v29.6h-25.8zM489.9 473.7h25.8v29.6h-25.8zM338.4 561h25.8v29.6h-25.8z"/><path fill="#18d7ca" d="M186.8 8.1h25.8v29.6h-25.8zM464.6 240.9h25.8v29.6h-25.8zM313.1 561h25.8v29.6h-25.8z"/><path fill="#18dbc5" d="M616.1 211.8h25.8v29.6h-25.8zM439.4 299.1h25.8v29.6h-25.8zM237.3 415.5h25.8v29.6h-25.8z"/><path fill="#18dec0" d="M515.1 182.7h25.8v29.6h-25.8zM565.6 182.7h25.8v29.6h-25.8zM414.1 357.3h25.8v29.6h-25.8zM287.9 386.4h25.8v29.6h-25.8zM540.4 444.6h25.8v29.6h-25.8zM439.4 531.9h25.8v29.6h-25.8z"/><path fill="#19e2bb" d="M212.1 -21h25.8v29.6h-25.8zM212.1 8.1h25.8v29.6h-25.8zM540.4 211.8h25.8v29.6h-25.8zM439.4 328.2h25.8v29.6h-25.8zM313.1 386.4h25.8v29.6h-25.8zM262.6 415.5h25.8v29.6h-25.8z"/><path fill="#1ce6b4" d="M565.6 328.2h25.8v29.6h-25.8zM540.4 357.3h25.8v29.6h-25.8zM338.4 386.4h25.8v29.6h-25.8zM287.9 415.5h25.8v29.6h-25.8zM464.6 502.8h25.8v29.6h-25.8zM338.4 531.9h51v29.6h-51zM414.1 531.9h25.8v29.6h-25.8z"/><path fill="#1fe9af" d="M590.9 211.8h25.8v29.6h-25.8zM616.1 240.9h25.8v29.6h-25.8zM464.6 270h25.8v29.6h-25.8zM388.9 386.4h25.8v29.6h-25.8zM313.1 415.5h25.8v29.6h-25.8zM540.4 415.5h25.8v29.6h-25.8zM515.1 444.6h25.8v29.6h-25.8zM439.4 502.8h25.8v29.6h-25.8zM313.1 531.9h25.8v29.6h-25.8z"/><path fill="#22ebaa" d="M565.6 211.8h25.8v29.6h-25.8zM540.4 240.9h25.8v29.6h-25.8zM464.6 328.2h25.8v29.6h-25.8zM439.4 357.3h25.8v29.6h-25.8zM363.6 386.4h25.8v29.6h-25.8zM414.1 386.4h25.8v29.6h-25.8zM338.4 415.5h25.8v29.6h-25.8zM489.9 444.6h25.8v29.6h-25.8zM363.6 502.8h25.8v29.6h-25.8zM287.9 531.9h25.8v29.6h-25.8zM388.9 531.9h25.8v29.6h-25.8z"/><path fill="#27eea4" d="M515.1 211.8h25.8v29.6h-25.8zM464.6 299.1h25.8v29.6h-25.8zM540.4 299.1h25.8v29.6h-25.8zM540.4 328.2h25.8v29.6h-25.8zM540.4 386.4h25.8v29.6h-25.8zM262.6 444.6h51v29.6h-51zM338.4 444.6h25.8v29.6h-25.8zM464.6 473.7h25.8v29.6h-25.8zM262.6 502.8h101.5v29.6h-101.5z"/><path fill="#2cf09e" d="M489.9 240.9h25.8v29.6h-25.8zM590.9 240.9h25.8v29.6h-25.8zM363.6 415.5h25.8v29.6h-25.8zM414.1 415.5h25.8v29.6h-25.8zM313.1 444.6h25.8v29.6h-25.8zM262.6 473.7h25.8v29.6h-25.8zM313.1 473.7h76.2v29.6h-76.2zM439.4 473.7h25.8v29.6h-25.8zM414.1 502.8h25.8v29.6h-25.8z"/><path fill="#35f394" d="M565.6 240.9h25.8v29.6h-25.8zM489.9 270h25.8v29.6h-25.8zM439.4 386.4h25.8v29.6h-25.8zM388.9 415.5h25.8v29.6h-25.8zM363.6 444.6h51v29.6h-51zM287.9 473.7h25.8v29.6h-25.8zM388.9 473.7h25.8v29.6h-25.8zM388.9 502.8h25.8v29.6h-25.8z"/><path fill="#3cf58e" d="M464.6 357.3h25.8v29.6h-25.8zM414.1 444.6h25.8v29.6h-25.8zM464.6 444.6h25.8v29.6h-25.8zM414.1 473.7h25.8v29.6h-25.8z"/><path fill="#43f787" d="M515.1 240.9h25.8v29.6h-25.8zM565.6 299.1h51v29.6h-51zM439.4 444.6h25.8v29.6h-25.8z"/><path fill="#4af880" d="M590.9 270h25.8v29.6h-25.8zM515.1 328.2h25.8v29.6h-25.8zM515.1 357.3h25.8v29.6h-25.8zM439.4 415.5h25.8v29.6h-25.8z"/><path fill="#52fa7a" d="M515.1 270h25.8v29.6h-25.8zM565.6 270h25.8v29.6h-25.8zM489.9 299.1h25.8v29.6h-25.8zM464.6 386.4h25.8v29.6h-25.8zM515.1 415.5h25.8v29.6h-25.8z"/><path fill="#5dfc6f" d="M540.4 270h25.8v29.6h-25.8z"/><path fill="#6dfe62" d="M515.1 386.4h25.8v29.6h-25.8zM464.6 415.5h51v29.6h-51z"/><path fill="#75fe5c" d="M515.1 299.1h25.8v29.6h-25.8zM489.9 328.2h25.8v29.6h-25.8z"/><path fill="#88ff4e" d="M489.9 386.4h25.8v29.6h-25.8z"/><path fill="#8fff49" d="M489.9 357.3h25.8v29.6h-25.8z"/></g><use href="#bord"/><use href="#over"/><path class="g" d="M60.5 -8L71.5 747.5" style="stroke-width:1.31" opacity="0.85"/><path class="g" d="M230.5 -8L237.5 747.5" style="stroke-width:1.36" opacity="0.9"/><path class="g" d="M398.7 -8L398.7 747.5" style="stroke-width:1.27" opacity="0.8"/><path class="g" d="M568.5 -8L560 747.5" style="stroke-width:1.18" opacity="0.7"/><path class="g" d="M-8 97.7H659" style="stroke-width:1.59" opacity="0.9"/><path class="g" d="M-8 288.8H659" style="stroke-width:1.59" opacity="0.9"/><path class="g" d="M-8 480.6H659" style="stroke-width:1.37" opacity="0.7"/><path class="g" d="M-8 672.8H659" style="stroke-width:1.59" opacity="0.9"/></g></g><g transform="translate(1451.5 853.4)" clip-path="url(#pc)"><g transform="translate(0 0)"><use href="#land"/><g clip-path="url(#bc)"><path fill="#467df4" d="M540.4 502.8h25.8v29.6h-25.8zM414.1 590.1h25.8v29.6h-25.8zM414.1 619.2h25.8v29.6h-25.8z"/><path fill="#4682f8" d="M136.3 124.5h25.8v29.6h-25.8zM186.8 124.5h25.8v29.6h-25.8zM136.3 153.6h25.8v29.6h-25.8z"/><path fill="#458afc" d="M338.4 37.2h25.8v29.6h-25.8zM136.3 95.4h25.8v29.6h-25.8zM186.8 95.4h25.8v29.6h-25.8zM85.8 124.5h51v29.6h-51zM161.6 124.5h25.8v29.6h-25.8zM212.1 124.5h25.8v29.6h-25.8zM161.6 153.6h25.8v29.6h-25.8zM136.3 182.7h51v29.6h-51z"/><path fill="#448ffe" d="M136.3 66.3h25.8v29.6h-25.8zM111.1 95.4h25.8v29.6h-25.8zM161.6 95.4h25.8v29.6h-25.8zM237.3 95.4h25.8v29.6h-25.8zM237.3 124.5h25.8v29.6h-25.8zM388.9 124.5h25.8v29.6h-25.8zM85.8 153.6h51v29.6h-51zM186.8 153.6h25.8v29.6h-25.8zM85.8 182.7h51v29.6h-51zM414.1 561h25.8v29.6h-25.8zM262.6 648.3h51v29.6h-51zM287.9 677.4h25.8v29.6h-25.8z"/><path fill="#4294ff" d="M136.3 8.1h25.8v29.6h-25.8zM136.3 37.2h25.8v29.6h-25.8zM111.1 66.3h25.8v29.6h-25.8zM161.6 66.3h25.8v29.6h-25.8zM363.6 66.3h25.8v29.6h-25.8zM85.8 95.4h25.8v29.6h-25.8zM212.1 95.4h25.8v29.6h-25.8zM212.1 153.6h25.8v29.6h-25.8zM186.8 182.7h51v29.6h-51zM85.8 211.8h101.5v29.6h-101.5zM85.8 240.9h25.8v29.6h-25.8zM136.3 240.9h25.8v29.6h-25.8zM616.1 299.1h25.8v29.6h-25.8zM489.9 531.9h25.8v29.6h-25.8zM388.9 590.1h25.8v29.6h-25.8zM363.6 619.2h25.8v29.6h-25.8zM313.1 648.3h101.5v29.6h-101.5zM313.1 677.4h76.2v29.6h-76.2z"/><path fill="#4099ff" d="M363.6 8.1h25.8v29.6h-25.8zM85.8 37.2h25.8v29.6h-25.8zM363.6 37.2h51v29.6h-51zM60.6 66.3h51v29.6h-51zM212.1 66.3h25.8v29.6h-25.8zM262.6 95.4h227.8v29.6h-227.8zM60.6 124.5h25.8v29.6h-25.8zM262.6 124.5h25.8v29.6h-25.8zM338.4 124.5h51v29.6h-51zM489.9 124.5h76.2v29.6h-76.2zM35.4 153.6h51v29.6h-51zM237.3 153.6h51v29.6h-51zM388.9 153.6h25.8v29.6h-25.8zM565.6 153.6h51v29.6h-51zM60.6 182.7h25.8v29.6h-25.8zM590.9 182.7h76.2v29.6h-76.2zM60.6 211.8h25.8v29.6h-25.8zM186.8 211.8h51v29.6h-51zM641.4 211.8h25.8v29.6h-25.8zM111.1 240.9h25.8v29.6h-25.8zM161.6 240.9h51v29.6h-51zM641.4 240.9h25.8v29.6h-25.8zM111.1 270h51v29.6h-51zM590.9 328.2h25.8v29.6h-25.8zM565.6 357.3h25.8v29.6h-25.8zM565.6 415.5h25.8v29.6h-25.8zM565.6 444.6h25.8v29.6h-25.8zM565.6 473.7h25.8v29.6h-25.8zM515.1 531.9h25.8v29.6h-25.8zM363.6 561h25.8v29.6h-25.8zM439.4 561h25.8v29.6h-25.8zM363.6 590.1h25.8v29.6h-25.8zM313.1 619.2h51v29.6h-51zM313.1 706.5h76.2v29.6h-76.2zM338.4 735.6h25.8v29.6h-25.8z"/><path fill="#3d9efe" d="M60.6 37.2h25.8v29.6h-25.8zM161.6 37.2h51v29.6h-51zM313.1 37.2h25.8v29.6h-25.8zM186.8 66.3h25.8v29.6h-25.8zM237.3 66.3h126.8v29.6h-126.8zM388.9 66.3h25.8v29.6h-25.8zM60.6 95.4h25.8v29.6h-25.8zM287.9 124.5h25.8v29.6h-25.8zM464.6 124.5h25.8v29.6h-25.8zM363.6 153.6h25.8v29.6h-25.8zM-15.2 182.7h76.2v29.6h-76.2zM237.3 182.7h25.8v29.6h-25.8zM10.1 240.9h76.2v29.6h-76.2zM212.1 240.9h25.8v29.6h-25.8zM-15.2 270h126.8v29.6h-126.8zM161.6 270h76.2v29.6h-76.2zM616.1 270h51v29.6h-51zM161.6 299.1h25.8v29.6h-25.8zM136.3 328.2h25.8v29.6h-25.8zM565.6 386.4h25.8v29.6h-25.8zM388.9 561h25.8v29.6h-25.8zM287.9 619.2h25.8v29.6h-25.8zM388.9 619.2h25.8v29.6h-25.8zM388.9 677.4h25.8v29.6h-25.8z"/><path fill="#38a5fb" d="M161.6 8.1h51v29.6h-51zM212.1 37.2h101.5v29.6h-101.5zM313.1 124.5h25.8v29.6h-25.8zM414.1 124.5h25.8v29.6h-25.8zM287.9 153.6h76.2v29.6h-76.2zM363.6 182.7h51v29.6h-51zM-15.2 211.8h76.2v29.6h-76.2zM237.3 211.8h25.8v29.6h-25.8zM-15.2 240.9h25.8v29.6h-25.8zM237.3 240.9h25.8v29.6h-25.8zM35.4 299.1h76.2v29.6h-76.2zM136.3 299.1h25.8v29.6h-25.8zM186.8 299.1h25.8v29.6h-25.8zM161.6 328.2h25.8v29.6h-25.8zM338.4 590.1h25.8v29.6h-25.8z"/><path fill="#35abf8" d="M212.1 -21h25.8v29.6h-25.8zM212.1 8.1h25.8v29.6h-25.8zM439.4 124.5h25.8v29.6h-25.8zM414.1 153.6h25.8v29.6h-25.8zM262.6 182.7h51v29.6h-51zM338.4 182.7h25.8v29.6h-25.8zM237.3 270h25.8v29.6h-25.8zM212.1 299.1h25.8v29.6h-25.8zM186.8 328.2h25.8v29.6h-25.8zM313.1 590.1h25.8v29.6h-25.8z"/><path fill="#31aff5" d="M262.6 211.8h25.8v29.6h-25.8zM338.4 211.8h51v29.6h-51zM262.6 240.9h25.8v29.6h-25.8zM186.8 357.3h25.8v29.6h-25.8zM338.4 561h25.8v29.6h-25.8z"/><path fill="#2eb4f2" d="M439.4 153.6h51v29.6h-51zM313.1 182.7h25.8v29.6h-25.8zM388.9 211.8h25.8v29.6h-25.8zM338.4 240.9h25.8v29.6h-25.8zM262.6 270h25.8v29.6h-25.8zM313.1 561h25.8v29.6h-25.8z"/><path fill="#28bceb" d="M515.1 153.6h25.8v29.6h-25.8zM287.9 211.8h51v29.6h-51zM287.9 240.9h25.8v29.6h-25.8zM363.6 240.9h25.8v29.6h-25.8zM237.3 299.1h25.8v29.6h-25.8zM212.1 328.2h25.8v29.6h-25.8zM515.1 502.8h25.8v29.6h-25.8z"/><path fill="#25c0e7" d="M565.6 124.5h25.8v29.6h-25.8zM489.9 153.6h25.8v29.6h-25.8zM313.1 240.9h25.8v29.6h-25.8zM338.4 270h25.8v29.6h-25.8zM262.6 299.1h25.8v29.6h-25.8zM540.4 473.7h25.8v29.6h-25.8zM313.1 531.9h25.8v29.6h-25.8zM464.6 531.9h25.8v29.6h-25.8z"/><path fill="#22c5e2" d="M414.1 182.7h25.8v29.6h-25.8zM287.9 270h25.8v29.6h-25.8zM212.1 357.3h25.8v29.6h-25.8zM212.1 386.4h25.8v29.6h-25.8zM287.9 531.9h25.8v29.6h-25.8zM338.4 531.9h25.8v29.6h-25.8z"/><path fill="#1fc9dd" d="M439.4 182.7h25.8v29.6h-25.8zM388.9 240.9h25.8v29.6h-25.8zM313.1 270h25.8v29.6h-25.8zM363.6 270h25.8v29.6h-25.8zM237.3 328.2h25.8v29.6h-25.8zM565.6 328.2h25.8v29.6h-25.8zM489.9 502.8h25.8v29.6h-25.8z"/><path fill="#1ccdd8" d="M464.6 182.7h25.8v29.6h-25.8zM237.3 386.4h25.8v29.6h-25.8zM237.3 415.5h25.8v29.6h-25.8zM262.6 502.8h25.8v29.6h-25.8z"/><path fill="#1ad4d0" d="M616.1 211.8h25.8v29.6h-25.8zM616.1 240.9h25.8v29.6h-25.8zM590.9 299.1h25.8v29.6h-25.8zM262.6 473.7h25.8v29.6h-25.8zM515.1 473.7h25.8v29.6h-25.8zM287.9 502.8h25.8v29.6h-25.8zM363.6 531.9h25.8v29.6h-25.8zM439.4 531.9h25.8v29.6h-25.8z"/><path fill="#18d7ca" d="M540.4 153.6h25.8v29.6h-25.8zM489.9 182.7h25.8v29.6h-25.8zM414.1 211.8h25.8v29.6h-25.8zM388.9 270h25.8v29.6h-25.8zM287.9 299.1h76.2v29.6h-76.2zM237.3 357.3h25.8v29.6h-25.8zM540.4 357.3h25.8v29.6h-25.8zM489.9 473.7h25.8v29.6h-25.8zM414.1 531.9h25.8v29.6h-25.8z"/><path fill="#18dbc5" d="M590.9 270h25.8v29.6h-25.8zM262.6 328.2h25.8v29.6h-25.8zM540.4 328.2h25.8v29.6h-25.8zM262.6 415.5h25.8v29.6h-25.8zM262.6 444.6h25.8v29.6h-25.8zM313.1 502.8h25.8v29.6h-25.8zM363.6 502.8h25.8v29.6h-25.8zM388.9 531.9h25.8v29.6h-25.8z"/><path fill="#18dec0" d="M590.9 240.9h25.8v29.6h-25.8zM262.6 386.4h25.8v29.6h-25.8zM540.4 444.6h25.8v29.6h-25.8zM338.4 502.8h25.8v29.6h-25.8z"/><path fill="#19e2bb" d="M540.4 182.7h25.8v29.6h-25.8zM439.4 211.8h25.8v29.6h-25.8zM414.1 240.9h25.8v29.6h-25.8zM363.6 299.1h25.8v29.6h-25.8zM540.4 299.1h51v29.6h-51zM287.9 473.7h76.2v29.6h-76.2zM464.6 502.8h25.8v29.6h-25.8z"/><path fill="#1ce6b4" d="M590.9 211.8h25.8v29.6h-25.8zM388.9 299.1h25.8v29.6h-25.8zM287.9 444.6h25.8v29.6h-25.8zM363.6 473.7h25.8v29.6h-25.8zM439.4 502.8h25.8v29.6h-25.8z"/><path fill="#1fe9af" d="M287.9 328.2h25.8v29.6h-25.8zM338.4 328.2h25.8v29.6h-25.8zM262.6 357.3h25.8v29.6h-25.8zM287.9 415.5h25.8v29.6h-25.8zM540.4 415.5h25.8v29.6h-25.8zM388.9 502.8h25.8v29.6h-25.8z"/><path fill="#22ebaa" d="M565.6 182.7h25.8v29.6h-25.8zM540.4 211.8h25.8v29.6h-25.8zM565.6 240.9h25.8v29.6h-25.8zM565.6 270h25.8v29.6h-25.8zM388.9 328.2h25.8v29.6h-25.8zM338.4 357.3h25.8v29.6h-25.8zM388.9 357.3h25.8v29.6h-25.8zM287.9 386.4h25.8v29.6h-25.8zM540.4 386.4h25.8v29.6h-25.8zM338.4 415.5h25.8v29.6h-25.8zM313.1 444.6h51v29.6h-51zM515.1 444.6h25.8v29.6h-25.8zM414.1 502.8h25.8v29.6h-25.8z"/><path fill="#27eea4" d="M464.6 211.8h25.8v29.6h-25.8zM338.4 386.4h25.8v29.6h-25.8zM313.1 415.5h25.8v29.6h-25.8zM489.9 444.6h25.8v29.6h-25.8zM388.9 473.7h76.2v29.6h-76.2z"/><path fill="#2cf09e" d="M565.6 211.8h25.8v29.6h-25.8zM439.4 240.9h25.8v29.6h-25.8zM540.4 240.9h25.8v29.6h-25.8zM414.1 270h25.8v29.6h-25.8zM313.1 328.2h25.8v29.6h-25.8zM363.6 328.2h25.8v29.6h-25.8zM287.9 357.3h25.8v29.6h-25.8zM363.6 357.3h25.8v29.6h-25.8zM313.1 386.4h25.8v29.6h-25.8zM363.6 444.6h25.8v29.6h-25.8zM464.6 473.7h25.8v29.6h-25.8z"/><path fill="#35f394" d="M313.1 357.3h25.8v29.6h-25.8zM363.6 386.4h25.8v29.6h-25.8zM363.6 415.5h51v29.6h-51zM388.9 444.6h25.8v29.6h-25.8z"/><path fill="#3cf58e" d="M515.1 182.7h25.8v29.6h-25.8zM388.9 386.4h25.8v29.6h-25.8zM414.1 415.5h25.8v29.6h-25.8z"/><path fill="#43f787" d="M489.9 211.8h25.8v29.6h-25.8zM515.1 328.2h25.8v29.6h-25.8zM414.1 357.3h25.8v29.6h-25.8zM414.1 386.4h25.8v29.6h-25.8zM414.1 444.6h51v29.6h-51z"/><path fill="#4af880" d="M540.4 270h25.8v29.6h-25.8zM414.1 299.1h25.8v29.6h-25.8zM464.6 444.6h25.8v29.6h-25.8z"/><path fill="#52fa7a" d="M439.4 270h25.8v29.6h-25.8zM414.1 328.2h25.8v29.6h-25.8zM515.1 357.3h25.8v29.6h-25.8zM439.4 386.4h25.8v29.6h-25.8zM439.4 415.5h25.8v29.6h-25.8z"/><path fill="#65fd69" d="M464.6 240.9h25.8v29.6h-25.8zM439.4 299.1h25.8v29.6h-25.8zM439.4 328.2h25.8v29.6h-25.8zM439.4 357.3h25.8v29.6h-25.8zM464.6 386.4h25.8v29.6h-25.8zM515.1 415.5h25.8v29.6h-25.8z"/><path fill="#6dfe62" d="M464.6 328.2h25.8v29.6h-25.8zM464.6 357.3h25.8v29.6h-25.8z"/><path fill="#75fe5c" d="M515.1 211.8h25.8v29.6h-25.8zM515.1 386.4h25.8v29.6h-25.8z"/><path fill="#88ff4e" d="M464.6 415.5h51v29.6h-51z"/><path fill="#8fff49" d="M464.6 270h25.8v29.6h-25.8zM515.1 270h25.8v29.6h-25.8z"/><path fill="#96fe44" d="M489.9 240.9h51v29.6h-51zM464.6 299.1h25.8v29.6h-25.8zM515.1 299.1h25.8v29.6h-25.8z"/><path fill="#9cfe40" d="M489.9 270h25.8v29.6h-25.8zM489.9 299.1h25.8v29.6h-25.8z"/><path fill="#a4fc3c" d="M489.9 357.3h25.8v29.6h-25.8zM489.9 386.4h25.8v29.6h-25.8z"/><path fill="#a9fb39" d="M489.9 328.2h25.8v29.6h-25.8z"/></g><use href="#bord"/><use href="#over"/><path class="g" d="M60.5 -8L71.5 747.5" style="stroke-width:1.09" opacity="0.6"/><path class="g" d="M230.5 -8L237.5 747.5" style="stroke-width:1.27" opacity="0.8"/><path class="g" d="M398.7 -8L398.7 747.5" style="stroke-width:1.23" opacity="0.75"/><path class="g" d="M568.5 -8L560 747.5" style="stroke-width:1.05" opacity="0.55"/><path class="g" d="M-8 97.7H659" style="stroke-width:1.37" opacity="0.7"/><path class="g" d="M-8 288.8H659" style="stroke-width:1.59" opacity="0.9"/><path d="M0 480.6H659" style="stroke:#fff;stroke-width:1.6;fill:none" opacity="0.3"/><path class="g" d="M-8 672.8H659" style="stroke-width:1.54" opacity="0.85"/></g></g><g transform="translate(12 1712.3)" clip-path="url(#pc)"><g transform="translate(-1 -1.9)"><use href="#land"/><g clip-path="url(#bc)"><path fill="#4682f8" d="M161.6 124.5h25.8v29.6h-25.8zM540.4 502.8h25.8v29.6h-25.8zM363.6 561h51v29.6h-51zM363.6 590.1h76.2v29.6h-76.2zM313.1 619.2h76.2v29.6h-76.2zM414.1 619.2h25.8v29.6h-25.8z"/><path fill="#458afc" d="M186.8 37.2h25.8v29.6h-25.8zM161.6 66.3h51v29.6h-51zM136.3 95.4h76.2v29.6h-76.2zM136.3 124.5h25.8v29.6h-25.8zM186.8 124.5h25.8v29.6h-25.8zM136.3 153.6h51v29.6h-51zM313.1 590.1h25.8v29.6h-25.8zM287.9 648.3h25.8v29.6h-25.8zM338.4 706.5h25.8v29.6h-25.8z"/><path fill="#448ffe" d="M212.1 37.2h25.8v29.6h-25.8zM212.1 95.4h25.8v29.6h-25.8zM111.1 124.5h25.8v29.6h-25.8zM186.8 153.6h25.8v29.6h-25.8zM136.3 182.7h76.2v29.6h-76.2zM161.6 211.8h25.8v29.6h-25.8zM338.4 561h25.8v29.6h-25.8zM338.4 590.1h25.8v29.6h-25.8zM313.1 648.3h76.2v29.6h-76.2zM287.9 677.4h51v29.6h-51zM313.1 706.5h25.8v29.6h-25.8z"/><path fill="#4294ff" d="M85.8 37.2h25.8v29.6h-25.8zM136.3 37.2h51v29.6h-51zM85.8 66.3h76.2v29.6h-76.2zM212.1 66.3h25.8v29.6h-25.8zM111.1 95.4h25.8v29.6h-25.8zM237.3 95.4h25.8v29.6h-25.8zM85.8 124.5h25.8v29.6h-25.8zM212.1 124.5h25.8v29.6h-25.8zM85.8 153.6h51v29.6h-51zM212.1 153.6h25.8v29.6h-25.8zM111.1 182.7h25.8v29.6h-25.8zM111.1 211.8h51v29.6h-51zM186.8 211.8h25.8v29.6h-25.8zM313.1 561h25.8v29.6h-25.8zM414.1 561h25.8v29.6h-25.8zM287.9 619.2h25.8v29.6h-25.8zM388.9 619.2h25.8v29.6h-25.8zM262.6 648.3h25.8v29.6h-25.8zM338.4 677.4h51v29.6h-51z"/><path fill="#4099ff" d="M136.3 8.1h101.5v29.6h-101.5zM237.3 37.2h25.8v29.6h-25.8zM338.4 37.2h25.8v29.6h-25.8zM237.3 66.3h25.8v29.6h-25.8zM85.8 95.4h25.8v29.6h-25.8zM262.6 95.4h25.8v29.6h-25.8zM237.3 124.5h25.8v29.6h-25.8zM540.4 124.5h25.8v29.6h-25.8zM60.6 153.6h25.8v29.6h-25.8zM565.6 153.6h25.8v29.6h-25.8zM-15.2 182.7h51v29.6h-51zM85.8 182.7h25.8v29.6h-25.8zM212.1 182.7h25.8v29.6h-25.8zM616.1 182.7h25.8v29.6h-25.8zM111.1 240.9h51v29.6h-51zM616.1 299.1h25.8v29.6h-25.8zM565.6 444.6h25.8v29.6h-25.8zM439.4 561h25.8v29.6h-25.8zM388.9 648.3h25.8v29.6h-25.8zM363.6 706.5h25.8v29.6h-25.8zM338.4 735.6h25.8v29.6h-25.8z"/><path fill="#3d9efe" d="M212.1 -21h25.8v29.6h-25.8zM363.6 8.1h25.8v29.6h-25.8zM60.6 37.2h25.8v29.6h-25.8zM363.6 37.2h25.8v29.6h-25.8zM60.6 66.3h25.8v29.6h-25.8zM388.9 66.3h25.8v29.6h-25.8zM262.6 124.5h25.8v29.6h-25.8zM489.9 124.5h25.8v29.6h-25.8zM35.4 153.6h25.8v29.6h-25.8zM237.3 153.6h25.8v29.6h-25.8zM35.4 182.7h51v29.6h-51zM237.3 182.7h25.8v29.6h-25.8zM590.9 182.7h25.8v29.6h-25.8zM641.4 182.7h25.8v29.6h-25.8zM-15.2 211.8h126.8v29.6h-126.8zM641.4 211.8h25.8v29.6h-25.8zM10.1 240.9h101.5v29.6h-101.5zM161.6 240.9h51v29.6h-51zM641.4 240.9h25.8v29.6h-25.8zM-15.2 270h25.8v29.6h-25.8zM60.6 270h76.2v29.6h-76.2zM641.4 270h25.8v29.6h-25.8zM60.6 299.1h25.8v29.6h-25.8zM590.9 328.2h25.8v29.6h-25.8zM565.6 357.3h25.8v29.6h-25.8zM565.6 386.4h25.8v29.6h-25.8zM565.6 415.5h25.8v29.6h-25.8zM565.6 473.7h25.8v29.6h-25.8zM287.9 531.9h25.8v29.6h-25.8zM489.9 531.9h51v29.6h-51zM388.9 677.4h25.8v29.6h-25.8z"/><path fill="#38a5fb" d="M262.6 37.2h25.8v29.6h-25.8zM388.9 37.2h25.8v29.6h-25.8zM262.6 66.3h51v29.6h-51zM60.6 95.4h25.8v29.6h-25.8zM313.1 95.4h152v29.6h-152zM60.6 124.5h25.8v29.6h-25.8zM338.4 124.5h25.8v29.6h-25.8zM515.1 124.5h25.8v29.6h-25.8zM262.6 153.6h25.8v29.6h-25.8zM590.9 153.6h25.8v29.6h-25.8zM212.1 211.8h25.8v29.6h-25.8zM-15.2 240.9h25.8v29.6h-25.8zM212.1 240.9h25.8v29.6h-25.8zM10.1 270h51v29.6h-51zM136.3 270h25.8v29.6h-25.8zM616.1 270h25.8v29.6h-25.8zM35.4 299.1h25.8v29.6h-25.8zM85.8 299.1h25.8v29.6h-25.8zM262.6 502.8h25.8v29.6h-25.8zM313.1 531.9h25.8v29.6h-25.8zM464.6 531.9h25.8v29.6h-25.8z"/><path fill="#35abf8" d="M313.1 37.2h25.8v29.6h-25.8zM313.1 66.3h76.2v29.6h-76.2zM287.9 95.4h25.8v29.6h-25.8zM287.9 124.5h25.8v29.6h-25.8zM464.6 124.5h25.8v29.6h-25.8zM262.6 182.7h25.8v29.6h-25.8zM237.3 211.8h25.8v29.6h-25.8zM161.6 270h25.8v29.6h-25.8zM338.4 531.9h25.8v29.6h-25.8z"/><path fill="#31aff5" d="M287.9 37.2h25.8v29.6h-25.8zM313.1 124.5h25.8v29.6h-25.8zM363.6 124.5h51v29.6h-51zM287.9 153.6h25.8v29.6h-25.8zM515.1 502.8h25.8v29.6h-25.8zM363.6 531.9h25.8v29.6h-25.8z"/><path fill="#2eb4f2" d="M464.6 95.4h25.8v29.6h-25.8zM237.3 240.9h25.8v29.6h-25.8zM186.8 270h25.8v29.6h-25.8zM565.6 328.2h25.8v29.6h-25.8zM262.6 444.6h25.8v29.6h-25.8zM262.6 473.7h51v29.6h-51zM540.4 473.7h25.8v29.6h-25.8zM287.9 502.8h51v29.6h-51zM489.9 502.8h25.8v29.6h-25.8zM439.4 531.9h25.8v29.6h-25.8z"/><path fill="#28bceb" d="M414.1 124.5h25.8v29.6h-25.8zM262.6 211.8h25.8v29.6h-25.8zM212.1 270h25.8v29.6h-25.8zM136.3 299.1h25.8v29.6h-25.8zM338.4 502.8h51v29.6h-51zM388.9 531.9h51v29.6h-51z"/><path fill="#25c0e7" d="M439.4 124.5h25.8v29.6h-25.8zM313.1 153.6h51v29.6h-51zM287.9 182.7h25.8v29.6h-25.8zM237.3 270h25.8v29.6h-25.8zM161.6 299.1h25.8v29.6h-25.8zM313.1 473.7h25.8v29.6h-25.8zM515.1 473.7h25.8v29.6h-25.8z"/><path fill="#22c5e2" d="M262.6 240.9h25.8v29.6h-25.8zM186.8 299.1h25.8v29.6h-25.8zM590.9 299.1h25.8v29.6h-25.8zM540.4 357.3h25.8v29.6h-25.8zM237.3 415.5h25.8v29.6h-25.8zM338.4 473.7h25.8v29.6h-25.8zM489.9 473.7h25.8v29.6h-25.8z"/><path fill="#1fc9dd" d="M565.6 124.5h25.8v29.6h-25.8zM363.6 153.6h25.8v29.6h-25.8zM313.1 182.7h51v29.6h-51zM388.9 182.7h25.8v29.6h-25.8zM212.1 299.1h25.8v29.6h-25.8zM540.4 328.2h25.8v29.6h-25.8zM287.9 444.6h25.8v29.6h-25.8zM363.6 473.7h25.8v29.6h-25.8z"/><path fill="#1ccdd8" d="M388.9 153.6h25.8v29.6h-25.8zM464.6 153.6h25.8v29.6h-25.8zM515.1 153.6h25.8v29.6h-25.8zM287.9 211.8h25.8v29.6h-25.8zM237.3 299.1h25.8v29.6h-25.8zM136.3 328.2h25.8v29.6h-25.8zM237.3 386.4h25.8v29.6h-25.8zM262.6 415.5h25.8v29.6h-25.8zM313.1 444.6h25.8v29.6h-25.8zM540.4 444.6h25.8v29.6h-25.8z"/><path fill="#1ad4d0" d="M363.6 182.7h25.8v29.6h-25.8zM363.6 211.8h25.8v29.6h-25.8zM540.4 299.1h51v29.6h-51zM388.9 502.8h101.5v29.6h-101.5z"/><path fill="#18d7ca" d="M313.1 211.8h51v29.6h-51zM262.6 270h25.8v29.6h-25.8zM212.1 386.4h25.8v29.6h-25.8zM338.4 444.6h25.8v29.6h-25.8z"/><path fill="#18dbc5" d="M439.4 153.6h25.8v29.6h-25.8zM489.9 153.6h25.8v29.6h-25.8zM590.9 270h25.8v29.6h-25.8zM161.6 328.2h51v29.6h-51zM540.4 386.4h25.8v29.6h-25.8zM287.9 415.5h25.8v29.6h-25.8zM540.4 415.5h25.8v29.6h-25.8z"/><path fill="#18dec0" d="M414.1 153.6h25.8v29.6h-25.8zM388.9 211.8h25.8v29.6h-25.8zM287.9 240.9h25.8v29.6h-25.8zM262.6 299.1h25.8v29.6h-25.8zM237.3 328.2h25.8v29.6h-25.8zM262.6 386.4h25.8v29.6h-25.8zM313.1 415.5h25.8v29.6h-25.8zM363.6 444.6h25.8v29.6h-25.8z"/><path fill="#19e2bb" d="M338.4 240.9h25.8v29.6h-25.8zM616.1 240.9h25.8v29.6h-25.8zM212.1 328.2h25.8v29.6h-25.8zM186.8 357.3h25.8v29.6h-25.8zM237.3 357.3h25.8v29.6h-25.8zM388.9 473.7h25.8v29.6h-25.8z"/><path fill="#1ce6b4" d="M313.1 240.9h25.8v29.6h-25.8zM212.1 357.3h25.8v29.6h-25.8zM338.4 415.5h25.8v29.6h-25.8zM489.9 444.6h51v29.6h-51zM414.1 473.7h76.2v29.6h-76.2z"/><path fill="#1fe9af" d="M616.1 211.8h25.8v29.6h-25.8zM363.6 240.9h25.8v29.6h-25.8zM565.6 270h25.8v29.6h-25.8zM262.6 357.3h25.8v29.6h-25.8zM363.6 415.5h25.8v29.6h-25.8zM388.9 444.6h25.8v29.6h-25.8z"/><path fill="#22ebaa" d="M540.4 153.6h25.8v29.6h-25.8zM464.6 182.7h51v29.6h-51zM338.4 270h25.8v29.6h-25.8zM262.6 328.2h25.8v29.6h-25.8zM287.9 386.4h25.8v29.6h-25.8z"/><path fill="#27eea4" d="M414.1 182.7h51v29.6h-51zM590.9 240.9h25.8v29.6h-25.8zM287.9 270h25.8v29.6h-25.8zM363.6 270h25.8v29.6h-25.8zM388.9 415.5h25.8v29.6h-25.8zM414.1 444.6h25.8v29.6h-25.8z"/><path fill="#2cf09e" d="M388.9 240.9h25.8v29.6h-25.8zM414.1 415.5h25.8v29.6h-25.8zM439.4 444.6h25.8v29.6h-25.8z"/><path fill="#35f394" d="M565.6 240.9h25.8v29.6h-25.8zM313.1 270h25.8v29.6h-25.8zM515.1 328.2h25.8v29.6h-25.8zM313.1 386.4h25.8v29.6h-25.8zM464.6 444.6h25.8v29.6h-25.8z"/><path fill="#3cf58e" d="M540.4 182.7h25.8v29.6h-25.8zM590.9 211.8h25.8v29.6h-25.8zM287.9 299.1h25.8v29.6h-25.8zM515.1 357.3h25.8v29.6h-25.8zM338.4 386.4h76.2v29.6h-76.2z"/><path fill="#43f787" d="M388.9 270h25.8v29.6h-25.8zM338.4 299.1h25.8v29.6h-25.8zM287.9 357.3h25.8v29.6h-25.8zM388.9 357.3h25.8v29.6h-25.8zM439.4 415.5h25.8v29.6h-25.8z"/><path fill="#4af880" d="M540.4 211.8h25.8v29.6h-25.8zM540.4 270h25.8v29.6h-25.8zM338.4 357.3h25.8v29.6h-25.8zM414.1 386.4h25.8v29.6h-25.8z"/><path fill="#52fa7a" d="M565.6 182.7h25.8v29.6h-25.8zM414.1 211.8h51v29.6h-51zM540.4 240.9h25.8v29.6h-25.8zM363.6 299.1h51v29.6h-51zM287.9 328.2h25.8v29.6h-25.8z"/><path fill="#5dfc6f" d="M313.1 299.1h25.8v29.6h-25.8zM338.4 328.2h25.8v29.6h-25.8zM313.1 357.3h25.8v29.6h-25.8zM439.4 386.4h25.8v29.6h-25.8z"/><path fill="#65fd69" d="M565.6 211.8h25.8v29.6h-25.8zM388.9 328.2h25.8v29.6h-25.8zM515.1 415.5h25.8v29.6h-25.8z"/><path fill="#6dfe62" d="M464.6 211.8h25.8v29.6h-25.8zM414.1 240.9h25.8v29.6h-25.8zM363.6 357.3h25.8v29.6h-25.8z"/><path fill="#75fe5c" d="M489.9 211.8h25.8v29.6h-25.8zM313.1 328.2h25.8v29.6h-25.8zM414.1 357.3h25.8v29.6h-25.8zM464.6 386.4h25.8v29.6h-25.8zM515.1 386.4h25.8v29.6h-25.8zM464.6 415.5h25.8v29.6h-25.8z"/><path fill="#7dff56" d="M515.1 182.7h25.8v29.6h-25.8zM439.4 240.9h25.8v29.6h-25.8zM414.1 270h25.8v29.6h-25.8zM363.6 328.2h25.8v29.6h-25.8z"/><path fill="#8fff49" d="M489.9 415.5h25.8v29.6h-25.8z"/><path fill="#96fe44" d="M464.6 357.3h25.8v29.6h-25.8z"/><path fill="#9cfe40" d="M464.6 240.9h25.8v29.6h-25.8zM439.4 270h25.8v29.6h-25.8zM414.1 299.1h25.8v29.6h-25.8zM515.1 299.1h25.8v29.6h-25.8zM414.1 328.2h25.8v29.6h-25.8z"/><path fill="#a4fc3c" d="M515.1 270h25.8v29.6h-25.8zM464.6 328.2h25.8v29.6h-25.8zM439.4 357.3h25.8v29.6h-25.8z"/><path fill="#a9fb39" d="M515.1 211.8h25.8v29.6h-25.8zM439.4 299.1h25.8v29.6h-25.8zM489.9 299.1h25.8v29.6h-25.8z"/><path fill="#affa37" d="M464.6 270h25.8v29.6h-25.8zM439.4 328.2h25.8v29.6h-25.8zM489.9 357.3h25.8v29.6h-25.8zM489.9 386.4h25.8v29.6h-25.8z"/><path fill="#b4f836" d="M515.1 240.9h25.8v29.6h-25.8zM489.9 270h25.8v29.6h-25.8zM489.9 328.2h25.8v29.6h-25.8z"/><path fill="#b9f635" d="M464.6 299.1h25.8v29.6h-25.8z"/><path fill="#c1f334" d="M489.9 240.9h25.8v29.6h-25.8z"/></g><use href="#bord"/><use href="#over"/><path class="g" d="M60.5 -8L71.5 747.5" style="stroke-width:1.31" opacity="0.85"/><path class="g" d="M230.5 -8L237.5 747.5" style="stroke-width:1.36" opacity="0.9"/><path class="g" d="M398.7 -8L398.7 747.5" style="stroke-width:1.31" opacity="0.85"/><path class="g" d="M568.5 -8L560 747.5" style="stroke-width:1.09" opacity="0.6"/><path class="g" d="M-8 97.7H659" style="stroke-width:1.59" opacity="0.9"/><path class="g" d="M-8 288.8H659" style="stroke-width:1.59" opacity="0.9"/><path class="g" d="M-8 480.6H659" style="stroke-width:1.26" opacity="0.6"/><path class="g" d="M-8 672.8H659" style="stroke-width:1.59" opacity="0.9"/></g></g><g transform="translate(735 1710.5)" clip-path="url(#pc)"><g transform="translate(0 0)"><use href="#land"/><g clip-path="url(#bc)"><path fill="#467df4" d="M388.9 590.1h25.8v29.6h-25.8z"/><path fill="#4682f8" d="M540.4 502.8h25.8v29.6h-25.8zM363.6 590.1h25.8v29.6h-25.8zM414.1 590.1h25.8v29.6h-25.8zM363.6 619.2h25.8v29.6h-25.8z"/><path fill="#458afc" d="M161.6 95.4h25.8v29.6h-25.8zM313.1 619.2h51v29.6h-51zM414.1 619.2h25.8v29.6h-25.8zM287.9 648.3h51v29.6h-51zM287.9 677.4h76.2v29.6h-76.2zM313.1 706.5h51v29.6h-51z"/><path fill="#448ffe" d="M212.1 8.1h25.8v29.6h-25.8zM136.3 37.2h51v29.6h-51zM161.6 66.3h25.8v29.6h-25.8zM212.1 66.3h25.8v29.6h-25.8zM111.1 95.4h51v29.6h-51zM186.8 95.4h25.8v29.6h-25.8zM111.1 124.5h51v29.6h-51zM363.6 561h51v29.6h-51zM313.1 590.1h51v29.6h-51zM363.6 648.3h25.8v29.6h-25.8zM363.6 677.4h25.8v29.6h-25.8z"/><path fill="#4294ff" d="M212.1 -21h25.8v29.6h-25.8zM136.3 8.1h76.2v29.6h-76.2zM186.8 37.2h51v29.6h-51zM111.1 66.3h51v29.6h-51zM186.8 66.3h25.8v29.6h-25.8zM212.1 95.4h25.8v29.6h-25.8zM85.8 124.5h25.8v29.6h-25.8zM161.6 124.5h51v29.6h-51zM313.1 561h51v29.6h-51zM287.9 619.2h25.8v29.6h-25.8zM388.9 619.2h25.8v29.6h-25.8zM262.6 648.3h25.8v29.6h-25.8zM338.4 648.3h25.8v29.6h-25.8zM388.9 648.3h25.8v29.6h-25.8z"/><path fill="#4099ff" d="M363.6 8.1h25.8v29.6h-25.8zM60.6 37.2h51v29.6h-51zM237.3 37.2h25.8v29.6h-25.8zM60.6 66.3h51v29.6h-51zM85.8 95.4h25.8v29.6h-25.8zM237.3 95.4h25.8v29.6h-25.8zM212.1 124.5h25.8v29.6h-25.8zM540.4 124.5h25.8v29.6h-25.8zM136.3 153.6h51v29.6h-51zM590.9 153.6h25.8v29.6h-25.8zM641.4 240.9h25.8v29.6h-25.8zM565.6 415.5h25.8v29.6h-25.8zM565.6 473.7h25.8v29.6h-25.8zM414.1 561h25.8v29.6h-25.8z"/><path fill="#3d9efe" d="M338.4 37.2h76.2v29.6h-76.2zM237.3 66.3h25.8v29.6h-25.8zM388.9 66.3h25.8v29.6h-25.8zM60.6 95.4h25.8v29.6h-25.8zM60.6 124.5h25.8v29.6h-25.8zM515.1 124.5h25.8v29.6h-25.8zM35.4 153.6h51v29.6h-51zM111.1 153.6h25.8v29.6h-25.8zM565.6 153.6h25.8v29.6h-25.8zM590.9 182.7h51v29.6h-51zM641.4 270h25.8v29.6h-25.8zM616.1 299.1h25.8v29.6h-25.8zM590.9 328.2h25.8v29.6h-25.8zM565.6 386.4h25.8v29.6h-25.8zM565.6 444.6h25.8v29.6h-25.8zM515.1 531.9h25.8v29.6h-25.8zM439.4 561h25.8v29.6h-25.8zM363.6 706.5h25.8v29.6h-25.8zM338.4 735.6h25.8v29.6h-25.8z"/><path fill="#38a5fb" d="M262.6 37.2h51v29.6h-51zM262.6 66.3h25.8v29.6h-25.8zM262.6 95.4h25.8v29.6h-25.8zM439.4 95.4h25.8v29.6h-25.8zM237.3 124.5h25.8v29.6h-25.8zM489.9 124.5h25.8v29.6h-25.8zM85.8 153.6h25.8v29.6h-25.8zM186.8 153.6h25.8v29.6h-25.8zM-15.2 182.7h51v29.6h-51zM641.4 182.7h25.8v29.6h-25.8zM641.4 211.8h25.8v29.6h-25.8zM616.1 270h25.8v29.6h-25.8zM565.6 357.3h25.8v29.6h-25.8zM489.9 531.9h25.8v29.6h-25.8zM388.9 677.4h25.8v29.6h-25.8z"/><path fill="#35abf8" d="M313.1 37.2h25.8v29.6h-25.8zM287.9 66.3h25.8v29.6h-25.8zM363.6 66.3h25.8v29.6h-25.8zM363.6 95.4h25.8v29.6h-25.8zM212.1 153.6h25.8v29.6h-25.8z"/><path fill="#31aff5" d="M313.1 66.3h25.8v29.6h-25.8zM287.9 95.4h76.2v29.6h-76.2zM388.9 95.4h51v29.6h-51zM262.6 124.5h25.8v29.6h-25.8zM35.4 182.7h51v29.6h-51zM565.6 328.2h25.8v29.6h-25.8zM313.1 531.9h25.8v29.6h-25.8z"/><path fill="#2eb4f2" d="M338.4 66.3h25.8v29.6h-25.8zM287.9 124.5h25.8v29.6h-25.8zM464.6 124.5h25.8v29.6h-25.8zM85.8 182.7h51v29.6h-51zM515.1 502.8h25.8v29.6h-25.8zM287.9 531.9h25.8v29.6h-25.8zM464.6 531.9h25.8v29.6h-25.8z"/><path fill="#28bceb" d="M338.4 124.5h25.8v29.6h-25.8zM237.3 153.6h25.8v29.6h-25.8zM136.3 182.7h51v29.6h-51zM-15.2 211.8h25.8v29.6h-25.8zM338.4 531.9h25.8v29.6h-25.8z"/><path fill="#25c0e7" d="M313.1 124.5h25.8v29.6h-25.8zM10.1 211.8h25.8v29.6h-25.8zM590.9 299.1h25.8v29.6h-25.8zM540.4 473.7h25.8v29.6h-25.8z"/><path fill="#22c5e2" d="M464.6 95.4h25.8v29.6h-25.8zM186.8 182.7h25.8v29.6h-25.8zM489.9 502.8h25.8v29.6h-25.8zM363.6 531.9h25.8v29.6h-25.8z"/><path fill="#1fc9dd" d="M363.6 124.5h51v29.6h-51zM262.6 153.6h25.8v29.6h-25.8zM35.4 211.8h51v29.6h-51zM-15.2 240.9h25.8v29.6h-25.8zM540.4 357.3h25.8v29.6h-25.8zM262.6 502.8h25.8v29.6h-25.8zM439.4 531.9h25.8v29.6h-25.8z"/><path fill="#1ccdd8" d="M212.1 182.7h25.8v29.6h-25.8zM10.1 240.9h25.8v29.6h-25.8zM540.4 328.2h25.8v29.6h-25.8zM287.9 502.8h25.8v29.6h-25.8z"/><path fill="#1ad4d0" d="M287.9 153.6h25.8v29.6h-25.8zM565.6 299.1h25.8v29.6h-25.8zM515.1 473.7h25.8v29.6h-25.8zM313.1 502.8h25.8v29.6h-25.8zM388.9 531.9h25.8v29.6h-25.8z"/><path fill="#18d7ca" d="M388.9 182.7h25.8v29.6h-25.8zM85.8 211.8h25.8v29.6h-25.8zM136.3 211.8h25.8v29.6h-25.8zM35.4 240.9h25.8v29.6h-25.8zM590.9 270h25.8v29.6h-25.8zM489.9 473.7h25.8v29.6h-25.8zM414.1 531.9h25.8v29.6h-25.8z"/><path fill="#18dbc5" d="M414.1 124.5h25.8v29.6h-25.8zM565.6 124.5h25.8v29.6h-25.8zM237.3 182.7h25.8v29.6h-25.8zM-15.2 270h51v29.6h-51zM540.4 299.1h25.8v29.6h-25.8zM540.4 444.6h25.8v29.6h-25.8zM262.6 473.7h25.8v29.6h-25.8zM338.4 502.8h25.8v29.6h-25.8z"/><path fill="#18dec0" d="M439.4 124.5h25.8v29.6h-25.8zM313.1 153.6h25.8v29.6h-25.8zM111.1 211.8h25.8v29.6h-25.8zM161.6 211.8h25.8v29.6h-25.8zM60.6 240.9h25.8v29.6h-25.8zM616.1 240.9h25.8v29.6h-25.8zM35.4 270h25.8v29.6h-25.8zM363.6 502.8h25.8v29.6h-25.8z"/><path fill="#19e2bb" d="M338.4 153.6h25.8v29.6h-25.8zM464.6 502.8h25.8v29.6h-25.8z"/><path fill="#1ce6b4" d="M464.6 153.6h25.8v29.6h-25.8zM262.6 182.7h25.8v29.6h-25.8zM186.8 211.8h25.8v29.6h-25.8zM60.6 270h25.8v29.6h-25.8zM35.4 299.1h25.8v29.6h-25.8zM540.4 386.4h25.8v29.6h-25.8zM237.3 415.5h25.8v29.6h-25.8zM262.6 444.6h25.8v29.6h-25.8z"/><path fill="#1fe9af" d="M363.6 153.6h25.8v29.6h-25.8zM515.1 153.6h25.8v29.6h-25.8zM85.8 240.9h25.8v29.6h-25.8zM565.6 270h25.8v29.6h-25.8zM262.6 415.5h25.8v29.6h-25.8zM540.4 415.5h25.8v29.6h-25.8zM287.9 473.7h51v29.6h-51zM439.4 502.8h25.8v29.6h-25.8z"/><path fill="#22ebaa" d="M60.6 299.1h25.8v29.6h-25.8zM388.9 502.8h25.8v29.6h-25.8z"/><path fill="#27eea4" d="M388.9 153.6h25.8v29.6h-25.8zM439.4 153.6h25.8v29.6h-25.8zM212.1 211.8h25.8v29.6h-25.8zM616.1 211.8h25.8v29.6h-25.8zM136.3 240.9h25.8v29.6h-25.8zM287.9 444.6h25.8v29.6h-25.8zM338.4 473.7h25.8v29.6h-25.8zM414.1 502.8h25.8v29.6h-25.8z"/><path fill="#2cf09e" d="M489.9 153.6h25.8v29.6h-25.8zM287.9 182.7h25.8v29.6h-25.8zM363.6 211.8h25.8v29.6h-25.8zM111.1 240.9h25.8v29.6h-25.8zM590.9 240.9h25.8v29.6h-25.8zM237.3 386.4h25.8v29.6h-25.8zM515.1 444.6h25.8v29.6h-25.8z"/><path fill="#35f394" d="M414.1 153.6h25.8v29.6h-25.8zM388.9 211.8h25.8v29.6h-25.8zM85.8 270h25.8v29.6h-25.8zM85.8 299.1h25.8v29.6h-25.8zM489.9 444.6h25.8v29.6h-25.8zM363.6 473.7h25.8v29.6h-25.8z"/><path fill="#3cf58e" d="M313.1 182.7h76.2v29.6h-76.2zM161.6 240.9h25.8v29.6h-25.8zM262.6 386.4h25.8v29.6h-25.8zM439.4 473.7h51v29.6h-51z"/><path fill="#43f787" d="M540.4 153.6h25.8v29.6h-25.8zM565.6 240.9h25.8v29.6h-25.8zM111.1 270h25.8v29.6h-25.8zM515.1 328.2h25.8v29.6h-25.8zM515.1 357.3h25.8v29.6h-25.8zM212.1 386.4h25.8v29.6h-25.8zM313.1 444.6h25.8v29.6h-25.8z"/><path fill="#4af880" d="M439.4 182.7h51v29.6h-51zM186.8 240.9h25.8v29.6h-25.8zM287.9 415.5h25.8v29.6h-25.8zM414.1 473.7h25.8v29.6h-25.8z"/><path fill="#52fa7a" d="M590.9 211.8h25.8v29.6h-25.8zM338.4 444.6h25.8v29.6h-25.8zM388.9 473.7h25.8v29.6h-25.8z"/><path fill="#5dfc6f" d="M237.3 211.8h25.8v29.6h-25.8zM212.1 240.9h25.8v29.6h-25.8zM136.3 270h25.8v29.6h-25.8zM262.6 357.3h25.8v29.6h-25.8z"/><path fill="#65fd69" d="M414.1 182.7h25.8v29.6h-25.8zM489.9 182.7h25.8v29.6h-25.8zM540.4 270h25.8v29.6h-25.8zM363.6 444.6h25.8v29.6h-25.8zM439.4 444.6h51v29.6h-51z"/><path fill="#6dfe62" d="M540.4 182.7h25.8v29.6h-25.8zM388.9 240.9h25.8v29.6h-25.8zM161.6 270h25.8v29.6h-25.8zM237.3 357.3h25.8v29.6h-25.8zM287.9 357.3h25.8v29.6h-25.8zM388.9 357.3h25.8v29.6h-25.8zM287.9 386.4h25.8v29.6h-25.8zM313.1 415.5h25.8v29.6h-25.8z"/><path fill="#75fe5c" d="M262.6 211.8h25.8v29.6h-25.8zM338.4 211.8h25.8v29.6h-25.8zM540.4 240.9h25.8v29.6h-25.8zM186.8 270h25.8v29.6h-25.8zM388.9 328.2h25.8v29.6h-25.8zM212.1 357.3h25.8v29.6h-25.8zM338.4 357.3h25.8v29.6h-25.8zM338.4 415.5h25.8v29.6h-25.8zM388.9 444.6h51v29.6h-51z"/><path fill="#7dff56" d="M565.6 182.7h25.8v29.6h-25.8zM363.6 270h25.8v29.6h-25.8zM388.9 299.1h25.8v29.6h-25.8zM313.1 357.3h25.8v29.6h-25.8zM388.9 415.5h25.8v29.6h-25.8zM515.1 415.5h25.8v29.6h-25.8z"/><path fill="#88ff4e" d="M439.4 211.8h25.8v29.6h-25.8zM540.4 211.8h51v29.6h-51zM363.6 240.9h25.8v29.6h-25.8zM212.1 270h25.8v29.6h-25.8zM338.4 270h25.8v29.6h-25.8zM388.9 270h25.8v29.6h-25.8zM136.3 299.1h25.8v29.6h-25.8zM136.3 328.2h25.8v29.6h-25.8zM262.6 328.2h51v29.6h-51zM338.4 328.2h25.8v29.6h-25.8zM313.1 386.4h51v29.6h-51zM515.1 386.4h25.8v29.6h-25.8zM363.6 415.5h25.8v29.6h-25.8zM414.1 415.5h25.8v29.6h-25.8z"/><path fill="#8fff49" d="M237.3 240.9h25.8v29.6h-25.8zM338.4 240.9h25.8v29.6h-25.8zM161.6 299.1h25.8v29.6h-25.8zM338.4 299.1h25.8v29.6h-25.8zM212.1 328.2h51v29.6h-51zM313.1 328.2h25.8v29.6h-25.8zM186.8 357.3h25.8v29.6h-25.8zM439.4 415.5h25.8v29.6h-25.8z"/><path fill="#96fe44" d="M287.9 211.8h51v29.6h-51zM464.6 211.8h25.8v29.6h-25.8zM237.3 270h25.8v29.6h-25.8zM186.8 299.1h25.8v29.6h-25.8zM237.3 299.1h25.8v29.6h-25.8zM287.9 299.1h25.8v29.6h-25.8zM161.6 328.2h51v29.6h-51zM363.6 357.3h25.8v29.6h-25.8zM363.6 386.4h76.2v29.6h-76.2z"/><path fill="#9cfe40" d="M414.1 211.8h25.8v29.6h-25.8zM212.1 299.1h25.8v29.6h-25.8zM313.1 299.1h25.8v29.6h-25.8zM363.6 299.1h25.8v29.6h-25.8zM363.6 328.2h25.8v29.6h-25.8zM414.1 357.3h25.8v29.6h-25.8zM439.4 386.4h25.8v29.6h-25.8z"/><path fill="#a4fc3c" d="M439.4 240.9h25.8v29.6h-25.8zM262.6 270h25.8v29.6h-25.8zM313.1 270h25.8v29.6h-25.8zM262.6 299.1h25.8v29.6h-25.8zM414.1 328.2h25.8v29.6h-25.8z"/><path fill="#a9fb39" d="M262.6 240.9h25.8v29.6h-25.8zM414.1 240.9h25.8v29.6h-25.8zM414.1 270h25.8v29.6h-25.8zM464.6 386.4h25.8v29.6h-25.8zM464.6 415.5h51v29.6h-51z"/><path fill="#affa37" d="M489.9 211.8h25.8v29.6h-25.8zM287.9 270h25.8v29.6h-25.8zM464.6 357.3h25.8v29.6h-25.8z"/><path fill="#b4f836" d="M287.9 240.9h25.8v29.6h-25.8zM439.4 270h25.8v29.6h-25.8zM414.1 299.1h25.8v29.6h-25.8zM515.1 299.1h25.8v29.6h-25.8zM464.6 328.2h25.8v29.6h-25.8z"/><path fill="#b9f635" d="M515.1 182.7h25.8v29.6h-25.8zM313.1 240.9h25.8v29.6h-25.8zM464.6 240.9h25.8v29.6h-25.8z"/><path fill="#c1f334" d="M515.1 270h25.8v29.6h-25.8zM439.4 299.1h25.8v29.6h-25.8zM439.4 357.3h25.8v29.6h-25.8zM489.9 386.4h25.8v29.6h-25.8z"/><path fill="#c6f034" d="M439.4 328.2h25.8v29.6h-25.8zM489.9 357.3h25.8v29.6h-25.8z"/><path fill="#cbed34" d="M489.9 299.1h25.8v29.6h-25.8zM489.9 328.2h25.8v29.6h-25.8z"/><path fill="#d4e735" d="M515.1 211.8h25.8v29.6h-25.8zM464.6 270h51v29.6h-51zM464.6 299.1h25.8v29.6h-25.8z"/><path fill="#dbe236" d="M515.1 240.9h25.8v29.6h-25.8z"/><path fill="#e3db38" d="M489.9 240.9h25.8v29.6h-25.8z"/></g><use href="#bord"/><use href="#over"/><path class="g" d="M60.5 -8L71.5 747.5" style="stroke-width:1.31" opacity="0.85"/><path class="g" d="M230.5 -8L237.5 747.5" style="stroke-width:1.36" opacity="0.9"/><path class="g" d="M398.7 -8L398.7 747.5" style="stroke-width:1.31" opacity="0.85"/><path class="g" d="M568.5 -8L560 747.5" style="stroke-width:1.18" opacity="0.7"/><path class="g" d="M-8 97.7H659" style="stroke-width:1.59" opacity="0.9"/><path class="g" d="M-8 288.8H659" style="stroke-width:1.31" opacity="0.65"/><path class="g" d="M-8 480.6H659" style="stroke-width:1.54" opacity="0.85"/><path class="g" d="M-8 672.8H659" style="stroke-width:1.54" opacity="0.85"/></g></g><g transform="translate(1442 1708)" clip-path="url(#pc)"><g transform="translate(0 0)"><use href="#land"/><g clip-path="url(#bc)"><path fill="#4682f8" d="M540.4 502.8h25.8v29.6h-25.8zM414.1 590.1h25.8v29.6h-25.8zM414.1 619.2h25.8v29.6h-25.8z"/><path fill="#458afc" d="M388.9 590.1h25.8v29.6h-25.8zM313.1 706.5h25.8v29.6h-25.8z"/><path fill="#448ffe" d="M338.4 706.5h25.8v29.6h-25.8z"/><path fill="#4294ff" d="M85.8 37.2h25.8v29.6h-25.8zM60.6 66.3h25.8v29.6h-25.8zM136.3 95.4h25.8v29.6h-25.8zM363.6 590.1h25.8v29.6h-25.8zM262.6 648.3h51v29.6h-51zM388.9 648.3h25.8v29.6h-25.8zM287.9 677.4h51v29.6h-51zM363.6 677.4h25.8v29.6h-25.8z"/><path fill="#4099ff" d="M60.6 37.2h25.8v29.6h-25.8zM161.6 37.2h25.8v29.6h-25.8zM85.8 66.3h101.5v29.6h-101.5zM60.6 95.4h76.2v29.6h-76.2zM161.6 95.4h25.8v29.6h-25.8zM136.3 124.5h25.8v29.6h-25.8zM515.1 124.5h25.8v29.6h-25.8zM616.1 182.7h25.8v29.6h-25.8zM641.4 270h25.8v29.6h-25.8zM590.9 328.2h25.8v29.6h-25.8zM565.6 357.3h25.8v29.6h-25.8zM565.6 415.5h25.8v29.6h-25.8zM363.6 561h25.8v29.6h-25.8zM414.1 561h25.8v29.6h-25.8zM313.1 619.2h101.5v29.6h-101.5zM313.1 648.3h25.8v29.6h-25.8zM363.6 648.3h25.8v29.6h-25.8zM338.4 677.4h25.8v29.6h-25.8z"/><path fill="#3d9efe" d="M212.1 -21h25.8v29.6h-25.8zM136.3 8.1h101.5v29.6h-101.5zM363.6 8.1h25.8v29.6h-25.8zM136.3 37.2h25.8v29.6h-25.8zM363.6 37.2h51v29.6h-51zM388.9 66.3h25.8v29.6h-25.8zM60.6 124.5h76.2v29.6h-76.2zM161.6 124.5h25.8v29.6h-25.8zM540.4 124.5h25.8v29.6h-25.8zM35.4 153.6h25.8v29.6h-25.8zM565.6 153.6h25.8v29.6h-25.8zM590.9 182.7h25.8v29.6h-25.8zM641.4 182.7h25.8v29.6h-25.8zM641.4 211.8h25.8v29.6h-25.8zM641.4 240.9h25.8v29.6h-25.8zM616.1 299.1h25.8v29.6h-25.8zM565.6 386.4h25.8v29.6h-25.8zM565.6 444.6h25.8v29.6h-25.8zM489.9 531.9h25.8v29.6h-25.8zM388.9 561h25.8v29.6h-25.8zM439.4 561h25.8v29.6h-25.8zM338.4 590.1h25.8v29.6h-25.8zM287.9 619.2h25.8v29.6h-25.8zM388.9 677.4h25.8v29.6h-25.8zM363.6 706.5h25.8v29.6h-25.8zM338.4 735.6h25.8v29.6h-25.8z"/><path fill="#38a5fb" d="M186.8 37.2h51v29.6h-51zM186.8 95.4h25.8v29.6h-25.8zM60.6 153.6h51v29.6h-51zM136.3 153.6h25.8v29.6h-25.8zM590.9 153.6h25.8v29.6h-25.8zM616.1 270h25.8v29.6h-25.8zM565.6 473.7h25.8v29.6h-25.8zM515.1 531.9h25.8v29.6h-25.8zM338.4 648.3h25.8v29.6h-25.8z"/><path fill="#35abf8" d="M186.8 66.3h51v29.6h-51zM439.4 95.4h25.8v29.6h-25.8zM186.8 124.5h25.8v29.6h-25.8zM489.9 124.5h25.8v29.6h-25.8zM111.1 153.6h25.8v29.6h-25.8zM161.6 153.6h25.8v29.6h-25.8zM313.1 561h25.8v29.6h-25.8zM313.1 590.1h25.8v29.6h-25.8z"/><path fill="#31aff5" d="M186.8 153.6h25.8v29.6h-25.8zM338.4 561h25.8v29.6h-25.8z"/><path fill="#2eb4f2" d="M237.3 37.2h25.8v29.6h-25.8zM212.1 95.4h25.8v29.6h-25.8zM388.9 95.4h51v29.6h-51zM464.6 124.5h25.8v29.6h-25.8zM10.1 182.7h25.8v29.6h-25.8z"/><path fill="#28bceb" d="M338.4 37.2h25.8v29.6h-25.8zM363.6 95.4h25.8v29.6h-25.8zM212.1 124.5h25.8v29.6h-25.8zM-15.2 182.7h25.8v29.6h-25.8z"/><path fill="#25c0e7" d="M237.3 66.3h25.8v29.6h-25.8zM212.1 153.6h25.8v29.6h-25.8zM35.4 182.7h25.8v29.6h-25.8zM515.1 502.8h25.8v29.6h-25.8z"/><path fill="#22c5e2" d="M363.6 66.3h25.8v29.6h-25.8zM237.3 95.4h25.8v29.6h-25.8zM338.4 95.4h25.8v29.6h-25.8zM464.6 95.4h25.8v29.6h-25.8zM60.6 182.7h25.8v29.6h-25.8zM540.4 473.7h25.8v29.6h-25.8zM313.1 531.9h25.8v29.6h-25.8z"/><path fill="#1fc9dd" d="M262.6 37.2h25.8v29.6h-25.8zM85.8 182.7h101.5v29.6h-101.5zM464.6 531.9h25.8v29.6h-25.8z"/><path fill="#1ccdd8" d="M237.3 124.5h25.8v29.6h-25.8zM237.3 153.6h25.8v29.6h-25.8zM186.8 182.7h25.8v29.6h-25.8zM489.9 502.8h25.8v29.6h-25.8zM287.9 531.9h25.8v29.6h-25.8z"/><path fill="#1ad4d0" d="M262.6 66.3h25.8v29.6h-25.8zM338.4 66.3h25.8v29.6h-25.8zM565.6 328.2h25.8v29.6h-25.8zM338.4 531.9h25.8v29.6h-25.8z"/><path fill="#18d7ca" d="M212.1 182.7h25.8v29.6h-25.8z"/><path fill="#18dbc5" d="M262.6 95.4h25.8v29.6h-25.8zM338.4 124.5h76.2v29.6h-76.2zM515.1 473.7h25.8v29.6h-25.8zM363.6 531.9h25.8v29.6h-25.8z"/><path fill="#18dec0" d="M262.6 124.5h25.8v29.6h-25.8zM439.4 124.5h25.8v29.6h-25.8zM262.6 153.6h25.8v29.6h-25.8zM388.9 182.7h25.8v29.6h-25.8zM-15.2 211.8h25.8v29.6h-25.8zM489.9 473.7h25.8v29.6h-25.8zM439.4 531.9h25.8v29.6h-25.8z"/><path fill="#19e2bb" d="M287.9 37.2h51v29.6h-51zM287.9 66.3h51v29.6h-51zM414.1 124.5h25.8v29.6h-25.8zM10.1 211.8h25.8v29.6h-25.8zM540.4 328.2h25.8v29.6h-25.8zM540.4 357.3h25.8v29.6h-25.8zM262.6 502.8h51v29.6h-51z"/><path fill="#1ce6b4" d="M313.1 95.4h25.8v29.6h-25.8zM237.3 182.7h25.8v29.6h-25.8zM35.4 211.8h25.8v29.6h-25.8zM590.9 299.1h25.8v29.6h-25.8z"/><path fill="#1fe9af" d="M287.9 95.4h25.8v29.6h-25.8zM287.9 124.5h25.8v29.6h-25.8zM565.6 124.5h25.8v29.6h-25.8zM565.6 299.1h25.8v29.6h-25.8zM540.4 444.6h25.8v29.6h-25.8zM313.1 502.8h51v29.6h-51z"/><path fill="#22ebaa" d="M313.1 124.5h25.8v29.6h-25.8zM287.9 153.6h25.8v29.6h-25.8zM338.4 153.6h25.8v29.6h-25.8zM60.6 211.8h76.2v29.6h-76.2zM388.9 531.9h25.8v29.6h-25.8z"/><path fill="#27eea4" d="M136.3 211.8h51v29.6h-51zM464.6 502.8h25.8v29.6h-25.8zM414.1 531.9h25.8v29.6h-25.8z"/><path fill="#2cf09e" d="M313.1 153.6h25.8v29.6h-25.8zM363.6 153.6h51v29.6h-51zM262.6 182.7h25.8v29.6h-25.8zM540.4 299.1h25.8v29.6h-25.8zM363.6 502.8h25.8v29.6h-25.8z"/><path fill="#35f394" d="M186.8 211.8h25.8v29.6h-25.8zM-15.2 240.9h25.8v29.6h-25.8zM590.9 270h25.8v29.6h-25.8zM262.6 473.7h25.8v29.6h-25.8z"/><path fill="#3cf58e" d="M464.6 153.6h25.8v29.6h-25.8zM363.6 211.8h25.8v29.6h-25.8zM10.1 240.9h25.8v29.6h-25.8zM515.1 444.6h25.8v29.6h-25.8zM287.9 473.7h25.8v29.6h-25.8zM439.4 502.8h25.8v29.6h-25.8z"/><path fill="#43f787" d="M515.1 153.6h25.8v29.6h-25.8zM212.1 211.8h25.8v29.6h-25.8zM388.9 211.8h25.8v29.6h-25.8zM540.4 386.4h25.8v29.6h-25.8zM313.1 473.7h25.8v29.6h-25.8z"/><path fill="#4af880" d="M414.1 153.6h51v29.6h-51zM489.9 153.6h25.8v29.6h-25.8zM287.9 182.7h51v29.6h-51zM363.6 182.7h25.8v29.6h-25.8zM35.4 240.9h51v29.6h-51zM616.1 240.9h25.8v29.6h-25.8zM540.4 415.5h25.8v29.6h-25.8z"/><path fill="#52fa7a" d="M338.4 182.7h25.8v29.6h-25.8zM85.8 240.9h51v29.6h-51zM565.6 270h25.8v29.6h-25.8zM262.6 444.6h25.8v29.6h-25.8z"/><path fill="#5dfc6f" d="M237.3 211.8h25.8v29.6h-25.8zM136.3 240.9h51v29.6h-51zM-15.2 270h25.8v29.6h-25.8zM489.9 444.6h25.8v29.6h-25.8zM338.4 473.7h25.8v29.6h-25.8z"/><path fill="#65fd69" d="M10.1 270h51v29.6h-51zM363.6 473.7h25.8v29.6h-25.8zM464.6 473.7h25.8v29.6h-25.8zM388.9 502.8h51v29.6h-51z"/><path fill="#6dfe62" d="M616.1 211.8h25.8v29.6h-25.8zM186.8 240.9h25.8v29.6h-25.8zM590.9 240.9h25.8v29.6h-25.8zM60.6 270h25.8v29.6h-25.8z"/><path fill="#75fe5c" d="M540.4 153.6h25.8v29.6h-25.8zM85.8 270h101.5v29.6h-101.5zM515.1 328.2h25.8v29.6h-25.8zM287.9 444.6h25.8v29.6h-25.8z"/><path fill="#7dff56" d="M262.6 211.8h25.8v29.6h-25.8zM212.1 240.9h25.8v29.6h-25.8zM35.4 299.1h51v29.6h-51zM515.1 357.3h25.8v29.6h-25.8zM237.3 415.5h25.8v29.6h-25.8zM439.4 473.7h25.8v29.6h-25.8z"/><path fill="#88ff4e" d="M414.1 182.7h25.8v29.6h-25.8zM338.4 211.8h25.8v29.6h-25.8zM565.6 240.9h25.8v29.6h-25.8zM186.8 270h25.8v29.6h-25.8zM85.8 299.1h25.8v29.6h-25.8z"/><path fill="#8fff49" d="M439.4 182.7h51v29.6h-51zM136.3 299.1h51v29.6h-51zM136.3 328.2h25.8v29.6h-25.8zM262.6 415.5h25.8v29.6h-25.8zM313.1 444.6h25.8v29.6h-25.8zM388.9 473.7h25.8v29.6h-25.8z"/><path fill="#96fe44" d="M237.3 240.9h25.8v29.6h-25.8zM388.9 240.9h25.8v29.6h-25.8zM212.1 270h25.8v29.6h-25.8zM186.8 299.1h25.8v29.6h-25.8zM212.1 386.4h51v29.6h-51zM338.4 444.6h25.8v29.6h-25.8zM414.1 473.7h25.8v29.6h-25.8z"/><path fill="#9cfe40" d="M287.9 211.8h51v29.6h-51zM590.9 211.8h25.8v29.6h-25.8zM540.4 270h25.8v29.6h-25.8zM363.6 444.6h25.8v29.6h-25.8zM439.4 444.6h51v29.6h-51z"/><path fill="#a4fc3c" d="M489.9 182.7h25.8v29.6h-25.8zM237.3 270h25.8v29.6h-25.8zM212.1 299.1h25.8v29.6h-25.8zM161.6 328.2h25.8v29.6h-25.8zM186.8 357.3h25.8v29.6h-25.8z"/><path fill="#a9fb39" d="M338.4 240.9h25.8v29.6h-25.8zM540.4 240.9h25.8v29.6h-25.8zM186.8 328.2h25.8v29.6h-25.8zM287.9 415.5h25.8v29.6h-25.8zM515.1 415.5h25.8v29.6h-25.8z"/><path fill="#affa37" d="M540.4 182.7h25.8v29.6h-25.8zM262.6 240.9h25.8v29.6h-25.8zM363.6 240.9h25.8v29.6h-25.8zM212.1 328.2h25.8v29.6h-25.8zM212.1 357.3h25.8v29.6h-25.8zM515.1 386.4h25.8v29.6h-25.8zM388.9 444.6h51v29.6h-51z"/><path fill="#b4f836" d="M540.4 211.8h25.8v29.6h-25.8zM338.4 270h25.8v29.6h-25.8zM237.3 299.1h25.8v29.6h-25.8zM262.6 386.4h25.8v29.6h-25.8zM313.1 415.5h51v29.6h-51zM388.9 415.5h25.8v29.6h-25.8z"/><path fill="#b9f635" d="M414.1 211.8h51v29.6h-51zM565.6 211.8h25.8v29.6h-25.8zM363.6 270h25.8v29.6h-25.8zM237.3 357.3h25.8v29.6h-25.8zM388.9 357.3h25.8v29.6h-25.8zM363.6 415.5h25.8v29.6h-25.8zM414.1 415.5h25.8v29.6h-25.8z"/><path fill="#c1f334" d="M565.6 182.7h25.8v29.6h-25.8zM313.1 240.9h25.8v29.6h-25.8zM262.6 270h25.8v29.6h-25.8zM237.3 328.2h25.8v29.6h-25.8zM388.9 386.4h25.8v29.6h-25.8zM439.4 415.5h25.8v29.6h-25.8z"/><path fill="#c6f034" d="M287.9 240.9h25.8v29.6h-25.8zM262.6 299.1h25.8v29.6h-25.8zM414.1 386.4h51v29.6h-51z"/><path fill="#cbed34" d="M388.9 270h25.8v29.6h-25.8zM262.6 328.2h25.8v29.6h-25.8zM388.9 328.2h25.8v29.6h-25.8zM262.6 357.3h25.8v29.6h-25.8zM338.4 357.3h25.8v29.6h-25.8zM414.1 357.3h25.8v29.6h-25.8zM287.9 386.4h25.8v29.6h-25.8z"/><path fill="#d0ea34" d="M464.6 211.8h25.8v29.6h-25.8zM287.9 270h51v29.6h-51zM338.4 299.1h25.8v29.6h-25.8zM388.9 299.1h25.8v29.6h-25.8zM464.6 328.2h25.8v29.6h-25.8zM464.6 357.3h25.8v29.6h-25.8zM338.4 386.4h51v29.6h-51zM464.6 386.4h25.8v29.6h-25.8zM489.9 415.5h25.8v29.6h-25.8z"/><path fill="#d4e735" d="M414.1 240.9h25.8v29.6h-25.8zM363.6 299.1h25.8v29.6h-25.8zM313.1 386.4h25.8v29.6h-25.8z"/><path fill="#dbe236" d="M287.9 299.1h25.8v29.6h-25.8zM363.6 357.3h25.8v29.6h-25.8zM464.6 415.5h25.8v29.6h-25.8z"/><path fill="#dfdf37" d="M489.9 211.8h25.8v29.6h-25.8zM439.4 240.9h25.8v29.6h-25.8zM313.1 299.1h25.8v29.6h-25.8zM338.4 328.2h51v29.6h-51zM414.1 328.2h25.8v29.6h-25.8zM287.9 357.3h25.8v29.6h-25.8zM489.9 357.3h25.8v29.6h-25.8z"/><path fill="#e3db38" d="M515.1 182.7h25.8v29.6h-25.8zM414.1 270h25.8v29.6h-25.8zM515.1 299.1h25.8v29.6h-25.8zM287.9 328.2h25.8v29.6h-25.8zM313.1 357.3h25.8v29.6h-25.8zM439.4 357.3h25.8v29.6h-25.8zM489.9 386.4h25.8v29.6h-25.8z"/><path fill="#e7d739" d="M313.1 328.2h25.8v29.6h-25.8zM439.4 328.2h25.8v29.6h-25.8zM489.9 328.2h25.8v29.6h-25.8z"/><path fill="#ebd339" d="M439.4 270h25.8v29.6h-25.8zM515.1 270h25.8v29.6h-25.8zM439.4 299.1h25.8v29.6h-25.8z"/><path fill="#efcd3a" d="M414.1 299.1h25.8v29.6h-25.8z"/><path fill="#f2c93a" d="M464.6 240.9h25.8v29.6h-25.8z"/><path fill="#f5c53a" d="M515.1 211.8h25.8v29.6h-25.8zM464.6 270h25.8v29.6h-25.8zM464.6 299.1h51v29.6h-51z"/><path fill="#f9bc39" d="M515.1 240.9h25.8v29.6h-25.8z"/><path fill="#fbb637" d="M489.9 270h25.8v29.6h-25.8z"/><path fill="#fcb136" d="M489.9 240.9h25.8v29.6h-25.8z"/></g><use href="#bord"/><use href="#over"/><path class="g" d="M60.5 -8L71.5 747.5" style="stroke-width:1.09" opacity="0.6"/><path class="g" d="M230.5 -8L237.5 747.5" style="stroke-width:1.09" opacity="0.6"/><path class="g" d="M398.7 -8L398.7 747.5" style="stroke-width:1.18" opacity="0.7"/><path class="g" d="M568.5 -8L560 747.5" style="stroke-width:1.05" opacity="0.55"/><path class="g" d="M-8 97.7H659" style="stroke-width:1.59" opacity="0.9"/><path class="g" d="M-8 288.8H659" style="stroke-width:1.37" opacity="0.7"/><path class="g" d="M-8 480.6H659" style="stroke-width:1.26" opacity="0.6"/><path class="g" d="M-8 672.8H659" style="stroke-width:1.54" opacity="0.85"/></g></g><g transform="translate(12 2553.3)" clip-path="url(#pc)"><g transform="translate(0 -1.9)"><use href="#land"/><g clip-path="url(#bc)"><path fill="#458afc" d="M414.1 590.1h25.8v29.6h-25.8zM414.1 619.2h25.8v29.6h-25.8z"/><path fill="#4294ff" d="M540.4 502.8h25.8v29.6h-25.8zM338.4 735.6h25.8v29.6h-25.8z"/><path fill="#3d9efe" d="M414.1 561h25.8v29.6h-25.8zM262.6 648.3h25.8v29.6h-25.8zM338.4 706.5h25.8v29.6h-25.8z"/><path fill="#38a5fb" d="M85.8 37.2h25.8v29.6h-25.8zM641.4 270h25.8v29.6h-25.8zM313.1 677.4h51v29.6h-51z"/><path fill="#35abf8" d="M363.6 8.1h25.8v29.6h-25.8zM363.6 37.2h51v29.6h-51zM515.1 124.5h51v29.6h-51zM590.9 153.6h25.8v29.6h-25.8zM590.9 182.7h25.8v29.6h-25.8zM641.4 182.7h25.8v29.6h-25.8zM565.6 473.7h25.8v29.6h-25.8zM515.1 531.9h25.8v29.6h-25.8zM388.9 619.2h25.8v29.6h-25.8zM287.9 648.3h25.8v29.6h-25.8zM388.9 648.3h25.8v29.6h-25.8zM287.9 677.4h25.8v29.6h-25.8zM363.6 677.4h51v29.6h-51zM313.1 706.5h25.8v29.6h-25.8zM363.6 706.5h25.8v29.6h-25.8z"/><path fill="#31aff5" d="M60.6 37.2h25.8v29.6h-25.8zM60.6 66.3h51v29.6h-51zM388.9 66.3h25.8v29.6h-25.8zM565.6 153.6h25.8v29.6h-25.8zM616.1 182.7h25.8v29.6h-25.8zM489.9 531.9h25.8v29.6h-25.8zM439.4 561h25.8v29.6h-25.8zM363.6 648.3h25.8v29.6h-25.8z"/><path fill="#2eb4f2" d="M60.6 95.4h25.8v29.6h-25.8zM111.1 95.4h25.8v29.6h-25.8zM439.4 95.4h25.8v29.6h-25.8zM641.4 211.8h25.8v29.6h-25.8zM616.1 270h25.8v29.6h-25.8zM616.1 299.1h25.8v29.6h-25.8zM590.9 328.2h25.8v29.6h-25.8zM565.6 357.3h25.8v29.6h-25.8zM338.4 619.2h51v29.6h-51zM313.1 648.3h51v29.6h-51z"/><path fill="#28bceb" d="M136.3 8.1h25.8v29.6h-25.8zM111.1 66.3h25.8v29.6h-25.8zM85.8 95.4h25.8v29.6h-25.8zM136.3 95.4h25.8v29.6h-25.8zM641.4 240.9h25.8v29.6h-25.8zM287.9 619.2h51v29.6h-51z"/><path fill="#25c0e7" d="M136.3 66.3h25.8v29.6h-25.8zM161.6 95.4h25.8v29.6h-25.8zM60.6 124.5h51v29.6h-51zM565.6 386.4h25.8v29.6h-25.8zM565.6 444.6h25.8v29.6h-25.8z"/><path fill="#22c5e2" d="M136.3 37.2h25.8v29.6h-25.8zM111.1 124.5h51v29.6h-51zM489.9 124.5h25.8v29.6h-25.8zM35.4 153.6h25.8v29.6h-25.8zM565.6 415.5h25.8v29.6h-25.8zM313.1 590.1h25.8v29.6h-25.8zM388.9 590.1h25.8v29.6h-25.8z"/><path fill="#1fc9dd" d="M161.6 66.3h25.8v29.6h-25.8zM388.9 95.4h25.8v29.6h-25.8zM161.6 124.5h25.8v29.6h-25.8zM464.6 124.5h25.8v29.6h-25.8zM60.6 153.6h25.8v29.6h-25.8zM-15.2 182.7h25.8v29.6h-25.8z"/><path fill="#1ccdd8" d="M161.6 8.1h25.8v29.6h-25.8zM161.6 37.2h25.8v29.6h-25.8zM414.1 95.4h25.8v29.6h-25.8zM85.8 153.6h76.2v29.6h-76.2zM363.6 590.1h25.8v29.6h-25.8z"/><path fill="#1ad4d0" d="M186.8 95.4h25.8v29.6h-25.8zM10.1 182.7h51v29.6h-51zM388.9 182.7h25.8v29.6h-25.8zM388.9 561h25.8v29.6h-25.8z"/><path fill="#18d7ca" d="M186.8 37.2h25.8v29.6h-25.8zM186.8 66.3h25.8v29.6h-25.8zM186.8 124.5h25.8v29.6h-25.8zM161.6 153.6h25.8v29.6h-25.8zM60.6 182.7h25.8v29.6h-25.8zM363.6 561h25.8v29.6h-25.8zM338.4 590.1h25.8v29.6h-25.8z"/><path fill="#18dbc5" d="M212.1 -21h25.8v29.6h-25.8zM186.8 8.1h25.8v29.6h-25.8zM85.8 182.7h25.8v29.6h-25.8zM388.9 211.8h25.8v29.6h-25.8z"/><path fill="#18dec0" d="M212.1 95.4h25.8v29.6h-25.8zM363.6 95.4h25.8v29.6h-25.8zM212.1 124.5h25.8v29.6h-25.8zM136.3 182.7h25.8v29.6h-25.8z"/><path fill="#19e2bb" d="M212.1 8.1h25.8v29.6h-25.8zM212.1 37.2h25.8v29.6h-25.8zM212.1 66.3h25.8v29.6h-25.8zM186.8 153.6h25.8v29.6h-25.8zM111.1 182.7h25.8v29.6h-25.8zM161.6 182.7h25.8v29.6h-25.8zM388.9 240.9h25.8v29.6h-25.8z"/><path fill="#1ce6b4" d="M237.3 37.2h25.8v29.6h-25.8zM338.4 95.4h25.8v29.6h-25.8zM313.1 561h51v29.6h-51z"/><path fill="#1fe9af" d="M212.1 153.6h25.8v29.6h-25.8zM60.6 211.8h25.8v29.6h-25.8zM111.1 211.8h25.8v29.6h-25.8z"/><path fill="#22ebaa" d="M237.3 66.3h25.8v29.6h-25.8zM237.3 95.4h25.8v29.6h-25.8zM464.6 95.4h25.8v29.6h-25.8zM186.8 182.7h25.8v29.6h-25.8zM-15.2 211.8h76.2v29.6h-76.2zM85.8 211.8h25.8v29.6h-25.8zM136.3 211.8h25.8v29.6h-25.8zM540.4 473.7h25.8v29.6h-25.8zM515.1 502.8h25.8v29.6h-25.8z"/><path fill="#27eea4" d="M237.3 124.5h25.8v29.6h-25.8zM237.3 153.6h25.8v29.6h-25.8zM212.1 182.7h25.8v29.6h-25.8zM161.6 211.8h25.8v29.6h-25.8z"/><path fill="#2cf09e" d="M388.9 124.5h25.8v29.6h-25.8zM388.9 153.6h25.8v29.6h-25.8zM186.8 211.8h51v29.6h-51z"/><path fill="#35f394" d="M262.6 37.2h25.8v29.6h-25.8zM262.6 66.3h25.8v29.6h-25.8z"/><path fill="#3cf58e" d="M338.4 124.5h51v29.6h-51zM565.6 124.5h25.8v29.6h-25.8zM262.6 153.6h25.8v29.6h-25.8zM237.3 182.7h25.8v29.6h-25.8zM363.6 182.7h25.8v29.6h-25.8zM111.1 240.9h76.2v29.6h-76.2zM590.9 299.1h25.8v29.6h-25.8zM565.6 328.2h25.8v29.6h-25.8zM540.4 357.3h25.8v29.6h-25.8zM540.4 386.4h25.8v29.6h-25.8zM540.4 444.6h25.8v29.6h-25.8zM489.9 502.8h25.8v29.6h-25.8zM464.6 531.9h25.8v29.6h-25.8z"/><path fill="#43f787" d="M262.6 95.4h25.8v29.6h-25.8zM262.6 124.5h25.8v29.6h-25.8zM237.3 211.8h25.8v29.6h-25.8zM-15.2 240.9h51v29.6h-51zM60.6 240.9h51v29.6h-51zM186.8 240.9h51v29.6h-51zM540.4 415.5h25.8v29.6h-25.8zM287.9 531.9h25.8v29.6h-25.8z"/><path fill="#4af880" d="M338.4 37.2h25.8v29.6h-25.8zM439.4 124.5h25.8v29.6h-25.8zM338.4 153.6h25.8v29.6h-25.8zM464.6 153.6h25.8v29.6h-25.8zM262.6 182.7h25.8v29.6h-25.8zM338.4 182.7h25.8v29.6h-25.8zM338.4 211.8h51v29.6h-51zM35.4 240.9h25.8v29.6h-25.8zM136.3 270h25.8v29.6h-25.8zM540.4 299.1h25.8v29.6h-25.8zM489.9 473.7h51v29.6h-51z"/><path fill="#52fa7a" d="M414.1 124.5h25.8v29.6h-25.8zM313.1 153.6h25.8v29.6h-25.8zM363.6 153.6h25.8v29.6h-25.8zM338.4 240.9h51v29.6h-51zM616.1 240.9h25.8v29.6h-25.8zM-15.2 270h51v29.6h-51zM85.8 270h51v29.6h-51zM161.6 270h76.2v29.6h-76.2zM540.4 328.2h25.8v29.6h-25.8z"/><path fill="#5dfc6f" d="M363.6 66.3h25.8v29.6h-25.8zM287.9 124.5h25.8v29.6h-25.8zM287.9 153.6h25.8v29.6h-25.8zM439.4 153.6h25.8v29.6h-25.8zM287.9 182.7h25.8v29.6h-25.8zM237.3 240.9h25.8v29.6h-25.8zM35.4 270h51v29.6h-51zM237.3 270h25.8v29.6h-25.8zM590.9 270h25.8v29.6h-25.8zM186.8 299.1h25.8v29.6h-25.8zM136.3 328.2h25.8v29.6h-25.8z"/><path fill="#65fd69" d="M287.9 95.4h25.8v29.6h-25.8zM313.1 124.5h25.8v29.6h-25.8zM414.1 153.6h25.8v29.6h-25.8zM313.1 182.7h25.8v29.6h-25.8zM262.6 211.8h25.8v29.6h-25.8zM85.8 299.1h25.8v29.6h-25.8zM136.3 299.1h51v29.6h-51zM565.6 299.1h25.8v29.6h-25.8zM313.1 531.9h25.8v29.6h-25.8z"/><path fill="#6dfe62" d="M287.9 37.2h25.8v29.6h-25.8zM287.9 66.3h25.8v29.6h-25.8zM338.4 66.3h25.8v29.6h-25.8zM313.1 95.4h25.8v29.6h-25.8zM414.1 182.7h25.8v29.6h-25.8zM287.9 211.8h25.8v29.6h-25.8zM616.1 211.8h25.8v29.6h-25.8zM262.6 240.9h25.8v29.6h-25.8zM338.4 270h25.8v29.6h-25.8zM35.4 299.1h51v29.6h-51zM212.1 299.1h25.8v29.6h-25.8zM161.6 328.2h51v29.6h-51z"/><path fill="#75fe5c" d="M313.1 66.3h25.8v29.6h-25.8zM313.1 211.8h25.8v29.6h-25.8zM287.9 240.9h25.8v29.6h-25.8zM262.6 270h25.8v29.6h-25.8zM237.3 299.1h25.8v29.6h-25.8zM338.4 531.9h25.8v29.6h-25.8z"/><path fill="#7dff56" d="M313.1 37.2h25.8v29.6h-25.8zM313.1 240.9h25.8v29.6h-25.8zM287.9 270h25.8v29.6h-25.8zM186.8 357.3h25.8v29.6h-25.8zM262.6 502.8h25.8v29.6h-25.8z"/><path fill="#88ff4e" d="M439.4 182.7h25.8v29.6h-25.8zM414.1 211.8h25.8v29.6h-25.8zM363.6 270h51v29.6h-51zM262.6 299.1h25.8v29.6h-25.8zM212.1 328.2h25.8v29.6h-25.8zM363.6 531.9h25.8v29.6h-25.8z"/><path fill="#8fff49" d="M414.1 240.9h25.8v29.6h-25.8zM313.1 270h25.8v29.6h-25.8zM515.1 357.3h25.8v29.6h-25.8zM287.9 502.8h25.8v29.6h-25.8z"/><path fill="#96fe44" d="M489.9 153.6h51v29.6h-51zM464.6 182.7h25.8v29.6h-25.8zM237.3 328.2h25.8v29.6h-25.8zM515.1 328.2h25.8v29.6h-25.8zM515.1 444.6h25.8v29.6h-25.8zM439.4 531.9h25.8v29.6h-25.8z"/><path fill="#9cfe40" d="M287.9 299.1h25.8v29.6h-25.8zM212.1 357.3h25.8v29.6h-25.8zM388.9 531.9h25.8v29.6h-25.8z"/><path fill="#a4fc3c" d="M439.4 211.8h25.8v29.6h-25.8zM590.9 240.9h25.8v29.6h-25.8zM212.1 386.4h25.8v29.6h-25.8zM262.6 444.6h25.8v29.6h-25.8zM262.6 473.7h25.8v29.6h-25.8zM313.1 502.8h25.8v29.6h-25.8zM414.1 531.9h25.8v29.6h-25.8z"/><path fill="#a9fb39" d="M489.9 182.7h25.8v29.6h-25.8zM313.1 299.1h25.8v29.6h-25.8zM237.3 357.3h25.8v29.6h-25.8z"/><path fill="#affa37" d="M338.4 299.1h25.8v29.6h-25.8zM388.9 299.1h25.8v29.6h-25.8zM262.6 328.2h25.8v29.6h-25.8zM237.3 386.4h25.8v29.6h-25.8zM489.9 444.6h25.8v29.6h-25.8zM287.9 473.7h25.8v29.6h-25.8zM338.4 502.8h51v29.6h-51zM464.6 502.8h25.8v29.6h-25.8z"/><path fill="#b9f635" d="M439.4 240.9h25.8v29.6h-25.8zM414.1 270h25.8v29.6h-25.8zM565.6 270h25.8v29.6h-25.8zM388.9 328.2h25.8v29.6h-25.8zM388.9 357.3h25.8v29.6h-25.8zM515.1 386.4h25.8v29.6h-25.8zM262.6 415.5h25.8v29.6h-25.8zM515.1 415.5h25.8v29.6h-25.8zM313.1 473.7h25.8v29.6h-25.8zM439.4 502.8h25.8v29.6h-25.8z"/><path fill="#c1f334" d="M237.3 415.5h25.8v29.6h-25.8z"/><path fill="#c6f034" d="M540.4 153.6h25.8v29.6h-25.8zM565.6 240.9h25.8v29.6h-25.8zM338.4 328.2h25.8v29.6h-25.8zM262.6 357.3h25.8v29.6h-25.8zM287.9 444.6h25.8v29.6h-25.8zM338.4 473.7h25.8v29.6h-25.8zM464.6 473.7h25.8v29.6h-25.8zM388.9 502.8h51v29.6h-51z"/><path fill="#cbed34" d="M363.6 299.1h25.8v29.6h-25.8z"/><path fill="#d0ea34" d="M540.4 182.7h25.8v29.6h-25.8zM464.6 211.8h25.8v29.6h-25.8zM540.4 211.8h25.8v29.6h-25.8zM590.9 211.8h25.8v29.6h-25.8zM540.4 270h25.8v29.6h-25.8zM287.9 328.2h25.8v29.6h-25.8zM338.4 357.3h25.8v29.6h-25.8zM262.6 386.4h25.8v29.6h-25.8zM363.6 473.7h25.8v29.6h-25.8zM439.4 473.7h25.8v29.6h-25.8z"/><path fill="#d4e735" d="M540.4 240.9h25.8v29.6h-25.8zM313.1 328.2h25.8v29.6h-25.8z"/><path fill="#dbe236" d="M313.1 444.6h25.8v29.6h-25.8zM388.9 473.7h25.8v29.6h-25.8z"/><path fill="#dfdf37" d="M414.1 473.7h25.8v29.6h-25.8z"/><path fill="#e3db38" d="M464.6 328.2h25.8v29.6h-25.8zM287.9 357.3h25.8v29.6h-25.8z"/><path fill="#e7d739" d="M565.6 182.7h25.8v29.6h-25.8zM439.4 270h25.8v29.6h-25.8zM464.6 357.3h25.8v29.6h-25.8zM287.9 415.5h25.8v29.6h-25.8zM338.4 444.6h51v29.6h-51zM464.6 444.6h25.8v29.6h-25.8z"/><path fill="#ebd339" d="M489.9 211.8h25.8v29.6h-25.8zM313.1 357.3h25.8v29.6h-25.8zM363.6 357.3h25.8v29.6h-25.8zM388.9 386.4h51v29.6h-51zM388.9 444.6h25.8v29.6h-25.8z"/><path fill="#efcd3a" d="M565.6 211.8h25.8v29.6h-25.8zM363.6 328.2h25.8v29.6h-25.8zM287.9 386.4h76.2v29.6h-76.2zM313.1 415.5h51v29.6h-51zM414.1 444.6h51v29.6h-51z"/><path fill="#f2c93a" d="M439.4 299.1h25.8v29.6h-25.8zM363.6 386.4h25.8v29.6h-25.8zM388.9 415.5h25.8v29.6h-25.8z"/><path fill="#f5c53a" d="M464.6 240.9h25.8v29.6h-25.8zM414.1 328.2h25.8v29.6h-25.8zM414.1 357.3h25.8v29.6h-25.8zM363.6 415.5h25.8v29.6h-25.8zM414.1 415.5h25.8v29.6h-25.8zM489.9 415.5h25.8v29.6h-25.8z"/><path fill="#f7c13a" d="M515.1 270h25.8v29.6h-25.8zM489.9 299.1h25.8v29.6h-25.8z"/><path fill="#f9bc39" d="M414.1 299.1h25.8v29.6h-25.8zM515.1 299.1h25.8v29.6h-25.8zM439.4 386.4h76.2v29.6h-76.2zM439.4 415.5h25.8v29.6h-25.8z"/><path fill="#fbb637" d="M464.6 270h25.8v29.6h-25.8z"/><path fill="#fcb136" d="M464.6 299.1h25.8v29.6h-25.8z"/><path fill="#fdac34" d="M515.1 182.7h25.8v29.6h-25.8zM489.9 270h25.8v29.6h-25.8zM464.6 415.5h25.8v29.6h-25.8z"/><path fill="#fea732" d="M489.9 357.3h25.8v29.6h-25.8z"/><path fill="#fea130" d="M515.1 211.8h25.8v29.6h-25.8zM489.9 240.9h51v29.6h-51zM439.4 328.2h25.8v29.6h-25.8zM489.9 328.2h25.8v29.6h-25.8zM439.4 357.3h25.8v29.6h-25.8z"/></g><use href="#bord"/><use href="#over"/><path class="g" d="M60.5 -8L71.5 747.5" style="stroke-width:1.31" opacity="0.85"/><path class="g" d="M230.5 -8L237.5 747.5" style="stroke-width:1.18" opacity="0.7"/><path class="g" d="M398.7 -8L398.7 747.5" style="stroke-width:1.31" opacity="0.85"/><path class="g" d="M568.5 -8L560 747.5" style="stroke-width:1.05" opacity="0.55"/><path class="g" d="M-8 97.7H659" style="stroke-width:1.37" opacity="0.7"/><path d="M0 288.8H659" style="stroke:#fff;stroke-width:1.6;fill:none" opacity="0.3"/><path class="g" d="M-8 480.6H659" style="stroke-width:1.59" opacity="0.9"/><path class="g" d="M-8 672.8H659" style="stroke-width:1.26" opacity="0.6"/></g></g><g transform="translate(731 2552.2)" clip-path="url(#pc)"><g transform="translate(0 -2)"><use href="#land"/><g clip-path="url(#bc)"><path fill="#458afc" d="M540.4 502.8h25.8v29.6h-25.8zM414.1 590.1h25.8v29.6h-25.8zM414.1 619.2h25.8v29.6h-25.8z"/><path fill="#4294ff" d="M414.1 561h25.8v29.6h-25.8zM338.4 735.6h25.8v29.6h-25.8z"/><path fill="#4099ff" d="M363.6 8.1h25.8v29.6h-25.8z"/><path fill="#3d9efe" d="M388.9 37.2h25.8v29.6h-25.8z"/><path fill="#38a5fb" d="M85.8 37.2h25.8v29.6h-25.8zM439.4 561h25.8v29.6h-25.8z"/><path fill="#35abf8" d="M60.6 66.3h76.2v29.6h-76.2zM388.9 66.3h25.8v29.6h-25.8zM85.8 95.4h76.2v29.6h-76.2zM111.1 124.5h25.8v29.6h-25.8zM540.4 124.5h25.8v29.6h-25.8zM565.6 153.6h51v29.6h-51zM616.1 182.7h25.8v29.6h-25.8zM641.4 270h25.8v29.6h-25.8zM590.9 328.2h25.8v29.6h-25.8zM565.6 357.3h25.8v29.6h-25.8zM565.6 386.4h25.8v29.6h-25.8zM565.6 415.5h25.8v29.6h-25.8zM565.6 473.7h25.8v29.6h-25.8zM489.9 531.9h51v29.6h-51zM388.9 619.2h25.8v29.6h-25.8zM388.9 677.4h25.8v29.6h-25.8z"/><path fill="#31aff5" d="M60.6 37.2h25.8v29.6h-25.8zM60.6 95.4h25.8v29.6h-25.8zM85.8 124.5h25.8v29.6h-25.8zM136.3 124.5h51v29.6h-51zM515.1 124.5h25.8v29.6h-25.8zM641.4 182.7h25.8v29.6h-25.8zM388.9 648.3h25.8v29.6h-25.8zM363.6 706.5h25.8v29.6h-25.8z"/><path fill="#2eb4f2" d="M136.3 37.2h25.8v29.6h-25.8zM363.6 37.2h25.8v29.6h-25.8zM136.3 66.3h25.8v29.6h-25.8zM439.4 95.4h25.8v29.6h-25.8zM60.6 124.5h25.8v29.6h-25.8zM35.4 153.6h51v29.6h-51zM136.3 153.6h25.8v29.6h-25.8zM590.9 182.7h25.8v29.6h-25.8zM641.4 211.8h25.8v29.6h-25.8zM641.4 240.9h25.8v29.6h-25.8zM616.1 299.1h25.8v29.6h-25.8zM363.6 677.4h25.8v29.6h-25.8zM338.4 706.5h25.8v29.6h-25.8z"/><path fill="#28bceb" d="M136.3 8.1h25.8v29.6h-25.8zM161.6 95.4h25.8v29.6h-25.8zM85.8 153.6h51v29.6h-51zM161.6 153.6h25.8v29.6h-25.8zM111.1 182.7h25.8v29.6h-25.8zM565.6 444.6h25.8v29.6h-25.8zM262.6 648.3h25.8v29.6h-25.8zM287.9 677.4h76.2v29.6h-76.2z"/><path fill="#25c0e7" d="M161.6 66.3h25.8v29.6h-25.8zM186.8 124.5h25.8v29.6h-25.8zM489.9 124.5h25.8v29.6h-25.8zM-15.2 182.7h126.8v29.6h-126.8zM363.6 590.1h51v29.6h-51zM313.1 619.2h25.8v29.6h-25.8zM363.6 619.2h25.8v29.6h-25.8zM287.9 648.3h51v29.6h-51zM363.6 648.3h25.8v29.6h-25.8zM313.1 706.5h25.8v29.6h-25.8z"/><path fill="#22c5e2" d="M186.8 153.6h25.8v29.6h-25.8zM136.3 182.7h25.8v29.6h-25.8zM161.6 211.8h25.8v29.6h-25.8zM338.4 619.2h25.8v29.6h-25.8zM338.4 648.3h25.8v29.6h-25.8z"/><path fill="#1fc9dd" d="M186.8 95.4h25.8v29.6h-25.8zM161.6 182.7h25.8v29.6h-25.8zM85.8 211.8h76.2v29.6h-76.2zM212.1 270h25.8v29.6h-25.8zM616.1 270h25.8v29.6h-25.8zM363.6 561h25.8v29.6h-25.8z"/><path fill="#1ccdd8" d="M161.6 8.1h25.8v29.6h-25.8zM161.6 37.2h25.8v29.6h-25.8zM212.1 124.5h25.8v29.6h-25.8zM388.9 182.7h25.8v29.6h-25.8zM60.6 211.8h25.8v29.6h-25.8zM186.8 211.8h25.8v29.6h-25.8zM85.8 240.9h126.8v29.6h-126.8zM161.6 270h51v29.6h-51zM287.9 619.2h25.8v29.6h-25.8z"/><path fill="#1ad4d0" d="M186.8 66.3h25.8v29.6h-25.8zM212.1 95.4h25.8v29.6h-25.8zM414.1 95.4h25.8v29.6h-25.8zM464.6 124.5h25.8v29.6h-25.8zM212.1 153.6h25.8v29.6h-25.8zM186.8 182.7h51v29.6h-51zM35.4 211.8h25.8v29.6h-25.8zM212.1 211.8h25.8v29.6h-25.8zM212.1 240.9h25.8v29.6h-25.8zM338.4 240.9h25.8v29.6h-25.8zM85.8 270h76.2v29.6h-76.2zM237.3 270h25.8v29.6h-25.8zM363.6 270h25.8v29.6h-25.8zM161.6 299.1h76.2v29.6h-76.2zM388.9 561h25.8v29.6h-25.8zM313.1 590.1h51v29.6h-51z"/><path fill="#18d7ca" d="M388.9 95.4h25.8v29.6h-25.8zM237.3 182.7h25.8v29.6h-25.8zM10.1 211.8h25.8v29.6h-25.8zM388.9 211.8h25.8v29.6h-25.8zM60.6 240.9h25.8v29.6h-25.8zM363.6 240.9h25.8v29.6h-25.8zM338.4 270h25.8v29.6h-25.8zM136.3 299.1h25.8v29.6h-25.8zM237.3 299.1h25.8v29.6h-25.8z"/><path fill="#18dbc5" d="M237.3 153.6h25.8v29.6h-25.8zM-15.2 211.8h25.8v29.6h-25.8zM237.3 211.8h25.8v29.6h-25.8zM338.4 211.8h51v29.6h-51zM237.3 240.9h51v29.6h-51zM60.6 270h25.8v29.6h-25.8zM262.6 270h25.8v29.6h-25.8zM85.8 299.1h25.8v29.6h-25.8zM136.3 328.2h25.8v29.6h-25.8zM186.8 328.2h25.8v29.6h-25.8zM540.4 473.7h25.8v29.6h-25.8z"/><path fill="#18dec0" d="M186.8 37.2h25.8v29.6h-25.8zM363.6 95.4h25.8v29.6h-25.8zM237.3 124.5h25.8v29.6h-25.8zM262.6 182.7h25.8v29.6h-25.8zM35.4 240.9h25.8v29.6h-25.8zM388.9 240.9h25.8v29.6h-25.8zM35.4 270h25.8v29.6h-25.8zM287.9 270h25.8v29.6h-25.8zM60.6 299.1h25.8v29.6h-25.8zM262.6 299.1h25.8v29.6h-25.8zM161.6 328.2h25.8v29.6h-25.8zM515.1 502.8h25.8v29.6h-25.8z"/><path fill="#19e2bb" d="M186.8 8.1h25.8v29.6h-25.8zM212.1 66.3h25.8v29.6h-25.8zM262.6 153.6h25.8v29.6h-25.8zM262.6 211.8h25.8v29.6h-25.8zM-15.2 240.9h51v29.6h-51zM287.9 240.9h25.8v29.6h-25.8zM-15.2 270h51v29.6h-51zM313.1 270h25.8v29.6h-25.8zM35.4 299.1h25.8v29.6h-25.8zM212.1 328.2h25.8v29.6h-25.8zM338.4 561h25.8v29.6h-25.8z"/><path fill="#1ce6b4" d="M237.3 95.4h25.8v29.6h-25.8zM287.9 211.8h25.8v29.6h-25.8zM313.1 240.9h25.8v29.6h-25.8zM388.9 270h25.8v29.6h-25.8zM186.8 357.3h25.8v29.6h-25.8zM515.1 473.7h25.8v29.6h-25.8zM313.1 561h25.8v29.6h-25.8z"/><path fill="#1fe9af" d="M212.1 37.2h25.8v29.6h-25.8zM287.9 182.7h25.8v29.6h-25.8zM313.1 211.8h25.8v29.6h-25.8zM287.9 299.1h51v29.6h-51zM237.3 328.2h25.8v29.6h-25.8z"/><path fill="#22ebaa" d="M212.1 -21h25.8v29.6h-25.8zM237.3 37.2h25.8v29.6h-25.8zM237.3 66.3h25.8v29.6h-25.8zM338.4 95.4h25.8v29.6h-25.8zM313.1 182.7h76.2v29.6h-76.2zM338.4 299.1h25.8v29.6h-25.8zM388.9 299.1h25.8v29.6h-25.8zM489.9 473.7h25.8v29.6h-25.8zM489.9 502.8h25.8v29.6h-25.8zM464.6 531.9h25.8v29.6h-25.8z"/><path fill="#27eea4" d="M212.1 8.1h25.8v29.6h-25.8zM262.6 124.5h25.8v29.6h-25.8zM287.9 153.6h25.8v29.6h-25.8zM262.6 328.2h25.8v29.6h-25.8zM212.1 357.3h25.8v29.6h-25.8z"/><path fill="#2cf09e" d="M363.6 299.1h25.8v29.6h-25.8zM338.4 328.2h25.8v29.6h-25.8zM338.4 357.3h25.8v29.6h-25.8zM540.4 357.3h25.8v29.6h-25.8zM540.4 444.6h25.8v29.6h-25.8zM287.9 531.9h51v29.6h-51z"/><path fill="#35f394" d="M262.6 95.4h25.8v29.6h-25.8zM313.1 153.6h25.8v29.6h-25.8zM287.9 328.2h51v29.6h-51z"/><path fill="#3cf58e" d="M464.6 95.4h25.8v29.6h-25.8zM338.4 124.5h76.2v29.6h-76.2zM565.6 124.5h25.8v29.6h-25.8zM338.4 153.6h51v29.6h-51zM363.6 328.2h25.8v29.6h-25.8zM212.1 386.4h25.8v29.6h-25.8zM338.4 531.9h25.8v29.6h-25.8z"/><path fill="#43f787" d="M565.6 328.2h25.8v29.6h-25.8zM237.3 357.3h51v29.6h-51zM237.3 386.4h25.8v29.6h-25.8z"/><path fill="#4af880" d="M262.6 66.3h25.8v29.6h-25.8zM287.9 124.5h25.8v29.6h-25.8zM616.1 240.9h25.8v29.6h-25.8zM388.9 328.2h25.8v29.6h-25.8zM540.4 328.2h25.8v29.6h-25.8zM540.4 386.4h25.8v29.6h-25.8zM540.4 415.5h25.8v29.6h-25.8zM489.9 444.6h25.8v29.6h-25.8zM262.6 502.8h25.8v29.6h-25.8z"/><path fill="#52fa7a" d="M262.6 37.2h25.8v29.6h-25.8zM388.9 153.6h25.8v29.6h-25.8zM590.9 299.1h25.8v29.6h-25.8zM287.9 357.3h51v29.6h-51zM363.6 357.3h51v29.6h-51zM515.1 444.6h25.8v29.6h-25.8zM363.6 531.9h25.8v29.6h-25.8z"/><path fill="#5dfc6f" d="M313.1 124.5h25.8v29.6h-25.8zM439.4 124.5h25.8v29.6h-25.8zM414.1 211.8h25.8v29.6h-25.8zM540.4 299.1h25.8v29.6h-25.8zM338.4 502.8h25.8v29.6h-25.8zM464.6 502.8h25.8v29.6h-25.8zM388.9 531.9h25.8v29.6h-25.8z"/><path fill="#65fd69" d="M414.1 124.5h25.8v29.6h-25.8zM414.1 182.7h25.8v29.6h-25.8zM414.1 240.9h25.8v29.6h-25.8zM237.3 415.5h25.8v29.6h-25.8zM262.6 473.7h25.8v29.6h-25.8zM287.9 502.8h51v29.6h-51zM363.6 502.8h25.8v29.6h-25.8zM439.4 531.9h25.8v29.6h-25.8z"/><path fill="#6dfe62" d="M338.4 37.2h25.8v29.6h-25.8zM287.9 95.4h25.8v29.6h-25.8zM464.6 153.6h25.8v29.6h-25.8zM439.4 182.7h25.8v29.6h-25.8zM590.9 270h25.8v29.6h-25.8z"/><path fill="#75fe5c" d="M414.1 153.6h51v29.6h-51zM439.4 211.8h25.8v29.6h-25.8zM616.1 211.8h25.8v29.6h-25.8zM313.1 473.7h76.2v29.6h-76.2zM414.1 531.9h25.8v29.6h-25.8z"/><path fill="#7dff56" d="M439.4 240.9h25.8v29.6h-25.8zM414.1 270h25.8v29.6h-25.8zM262.6 386.4h25.8v29.6h-25.8zM262.6 444.6h25.8v29.6h-25.8zM338.4 444.6h25.8v29.6h-25.8z"/><path fill="#88ff4e" d="M363.6 66.3h25.8v29.6h-25.8zM313.1 95.4h25.8v29.6h-25.8zM262.6 415.5h25.8v29.6h-25.8zM287.9 473.7h25.8v29.6h-25.8zM388.9 502.8h25.8v29.6h-25.8zM439.4 502.8h25.8v29.6h-25.8z"/><path fill="#8fff49" d="M287.9 66.3h25.8v29.6h-25.8zM515.1 153.6h25.8v29.6h-25.8zM464.6 182.7h25.8v29.6h-25.8zM565.6 299.1h25.8v29.6h-25.8zM287.9 386.4h25.8v29.6h-25.8zM287.9 444.6h25.8v29.6h-25.8zM388.9 473.7h25.8v29.6h-25.8z"/><path fill="#96fe44" d="M489.9 153.6h25.8v29.6h-25.8zM464.6 211.8h25.8v29.6h-25.8zM414.1 299.1h25.8v29.6h-25.8zM313.1 386.4h51v29.6h-51zM287.9 415.5h76.2v29.6h-76.2zM313.1 444.6h25.8v29.6h-25.8zM363.6 444.6h25.8v29.6h-25.8zM464.6 473.7h25.8v29.6h-25.8z"/><path fill="#9cfe40" d="M313.1 66.3h25.8v29.6h-25.8zM363.6 386.4h25.8v29.6h-25.8zM363.6 415.5h25.8v29.6h-25.8z"/><path fill="#a4fc3c" d="M287.9 37.2h51v29.6h-51zM338.4 66.3h25.8v29.6h-25.8zM590.9 240.9h25.8v29.6h-25.8zM565.6 270h25.8v29.6h-25.8zM414.1 328.2h25.8v29.6h-25.8zM515.1 328.2h25.8v29.6h-25.8zM414.1 357.3h25.8v29.6h-25.8zM388.9 386.4h25.8v29.6h-25.8zM388.9 415.5h25.8v29.6h-25.8zM388.9 444.6h25.8v29.6h-25.8zM414.1 473.7h51v29.6h-51zM414.1 502.8h25.8v29.6h-25.8z"/><path fill="#affa37" d="M489.9 182.7h25.8v29.6h-25.8zM515.1 357.3h25.8v29.6h-25.8zM414.1 386.4h25.8v29.6h-25.8zM414.1 415.5h25.8v29.6h-25.8zM515.1 415.5h25.8v29.6h-25.8zM414.1 444.6h76.2v29.6h-76.2z"/><path fill="#b9f635" d="M489.9 211.8h25.8v29.6h-25.8zM439.4 270h25.8v29.6h-25.8zM439.4 386.4h25.8v29.6h-25.8zM515.1 386.4h25.8v29.6h-25.8zM439.4 415.5h25.8v29.6h-25.8z"/><path fill="#c6f034" d="M540.4 153.6h25.8v29.6h-25.8zM464.6 240.9h25.8v29.6h-25.8z"/><path fill="#cbed34" d="M590.9 211.8h25.8v29.6h-25.8z"/><path fill="#d0ea34" d="M565.6 240.9h25.8v29.6h-25.8zM464.6 386.4h25.8v29.6h-25.8zM489.9 415.5h25.8v29.6h-25.8z"/><path fill="#d4e735" d="M439.4 299.1h25.8v29.6h-25.8z"/><path fill="#dbe236" d="M439.4 328.2h25.8v29.6h-25.8z"/><path fill="#dfdf37" d="M439.4 357.3h25.8v29.6h-25.8z"/><path fill="#e7d739" d="M540.4 182.7h25.8v29.6h-25.8zM540.4 240.9h25.8v29.6h-25.8z"/><path fill="#efcd3a" d="M540.4 211.8h25.8v29.6h-25.8zM540.4 270h25.8v29.6h-25.8zM464.6 415.5h25.8v29.6h-25.8z"/><path fill="#f2c93a" d="M464.6 270h25.8v29.6h-25.8z"/><path fill="#f5c53a" d="M565.6 182.7h25.8v29.6h-25.8zM464.6 328.2h25.8v29.6h-25.8zM464.6 357.3h25.8v29.6h-25.8z"/><path fill="#f7c13a" d="M565.6 211.8h25.8v29.6h-25.8zM489.9 270h51v29.6h-51zM489.9 299.1h51v29.6h-51z"/><path fill="#fbb637" d="M489.9 386.4h25.8v29.6h-25.8z"/><path fill="#fcb136" d="M489.9 240.9h25.8v29.6h-25.8z"/><path fill="#fea130" d="M464.6 299.1h25.8v29.6h-25.8zM489.9 357.3h25.8v29.6h-25.8z"/><path fill="#fe932a" d="M515.1 182.7h25.8v29.6h-25.8zM515.1 211.8h25.8v29.6h-25.8zM515.1 240.9h25.8v29.6h-25.8zM489.9 328.2h25.8v29.6h-25.8z"/></g><use href="#bord"/><use href="#over"/><path class="g" d="M60.5 -8L71.5 747.5" style="stroke-width:1" opacity="0.5"/><path class="g" d="M230.5 -8L237.5 747.5" style="stroke-width:1.05" opacity="0.55"/><path class="g" d="M398.7 -8L398.7 747.5" style="stroke-width:1.09" opacity="0.6"/><path class="g" d="M568.5 -8L560 747.5" style="stroke-width:1" opacity="0.5"/><path class="g" d="M-8 97.7H659" style="stroke-width:1.59" opacity="0.9"/><path d="M0 288.8H659" style="stroke:#fff;stroke-width:1.6;fill:none" opacity="0.24"/><path class="g" d="M-8 480.6H659" style="stroke-width:1.59" opacity="0.9"/><path class="g" d="M-8 672.8H659" style="stroke-width:1.37" opacity="0.7"/></g></g><g transform="translate(1451.5 2553)" clip-path="url(#pc)"><g transform="translate(0 -1.2)"><use href="#land"/><g clip-path="url(#bc)"><path fill="#458afc" d="M540.4 502.8h25.8v29.6h-25.8z"/><path fill="#448ffe" d="M414.1 590.1h25.8v29.6h-25.8zM414.1 619.2h25.8v29.6h-25.8z"/><path fill="#4294ff" d="M85.8 182.7h101.5v29.6h-101.5zM136.3 211.8h51v29.6h-51z"/><path fill="#4099ff" d="M85.8 66.3h51v29.6h-51zM85.8 95.4h76.2v29.6h-76.2zM60.6 124.5h25.8v29.6h-25.8zM111.1 124.5h76.2v29.6h-76.2zM60.6 153.6h25.8v29.6h-25.8zM111.1 153.6h76.2v29.6h-76.2zM60.6 182.7h25.8v29.6h-25.8zM60.6 211.8h76.2v29.6h-76.2zM111.1 240.9h101.5v29.6h-101.5z"/><path fill="#3d9efe" d="M60.6 37.2h51v29.6h-51zM60.6 66.3h25.8v29.6h-25.8zM60.6 95.4h25.8v29.6h-25.8zM85.8 124.5h25.8v29.6h-25.8zM85.8 153.6h25.8v29.6h-25.8zM186.8 153.6h25.8v29.6h-25.8zM186.8 182.7h51v29.6h-51zM616.1 182.7h25.8v29.6h-25.8zM186.8 211.8h51v29.6h-51zM111.1 270h25.8v29.6h-25.8zM414.1 561h25.8v29.6h-25.8zM363.6 706.5h25.8v29.6h-25.8z"/><path fill="#38a5fb" d="M136.3 66.3h25.8v29.6h-25.8zM161.6 95.4h25.8v29.6h-25.8zM35.4 153.6h25.8v29.6h-25.8zM212.1 153.6h25.8v29.6h-25.8zM565.6 153.6h25.8v29.6h-25.8zM35.4 182.7h25.8v29.6h-25.8zM641.4 182.7h25.8v29.6h-25.8zM35.4 211.8h25.8v29.6h-25.8zM60.6 240.9h51v29.6h-51zM641.4 240.9h25.8v29.6h-25.8zM85.8 270h25.8v29.6h-25.8zM136.3 270h25.8v29.6h-25.8zM186.8 270h25.8v29.6h-25.8zM85.8 299.1h25.8v29.6h-25.8zM136.3 299.1h25.8v29.6h-25.8zM616.1 299.1h25.8v29.6h-25.8zM590.9 328.2h25.8v29.6h-25.8zM565.6 357.3h25.8v29.6h-25.8zM565.6 386.4h25.8v29.6h-25.8zM565.6 473.7h25.8v29.6h-25.8zM489.9 531.9h51v29.6h-51zM439.4 561h25.8v29.6h-25.8zM388.9 677.4h25.8v29.6h-25.8z"/><path fill="#35abf8" d="M136.3 8.1h25.8v29.6h-25.8zM363.6 8.1h25.8v29.6h-25.8zM136.3 37.2h25.8v29.6h-25.8zM388.9 37.2h25.8v29.6h-25.8zM388.9 66.3h25.8v29.6h-25.8zM186.8 124.5h25.8v29.6h-25.8zM515.1 124.5h51v29.6h-51zM590.9 153.6h25.8v29.6h-25.8zM10.1 182.7h25.8v29.6h-25.8zM590.9 182.7h25.8v29.6h-25.8zM237.3 211.8h25.8v29.6h-25.8zM641.4 211.8h25.8v29.6h-25.8zM35.4 240.9h25.8v29.6h-25.8zM212.1 240.9h25.8v29.6h-25.8zM35.4 270h51v29.6h-51zM161.6 270h25.8v29.6h-25.8zM212.1 270h25.8v29.6h-25.8zM616.1 270h51v29.6h-51zM60.6 299.1h25.8v29.6h-25.8zM565.6 415.5h25.8v29.6h-25.8zM565.6 444.6h25.8v29.6h-25.8zM338.4 735.6h25.8v29.6h-25.8z"/><path fill="#31aff5" d="M363.6 37.2h25.8v29.6h-25.8zM186.8 95.4h25.8v29.6h-25.8zM212.1 124.5h25.8v29.6h-25.8zM489.9 124.5h25.8v29.6h-25.8zM237.3 182.7h25.8v29.6h-25.8zM10.1 211.8h25.8v29.6h-25.8zM237.3 240.9h25.8v29.6h-25.8zM338.4 240.9h51v29.6h-51zM338.4 270h51v29.6h-51zM35.4 299.1h25.8v29.6h-25.8zM186.8 299.1h25.8v29.6h-25.8zM136.3 328.2h25.8v29.6h-25.8zM388.9 590.1h25.8v29.6h-25.8zM388.9 619.2h25.8v29.6h-25.8z"/><path fill="#2eb4f2" d="M161.6 8.1h25.8v29.6h-25.8zM161.6 37.2h25.8v29.6h-25.8zM161.6 66.3h25.8v29.6h-25.8zM212.1 95.4h25.8v29.6h-25.8zM237.3 153.6h25.8v29.6h-25.8zM-15.2 182.7h25.8v29.6h-25.8zM338.4 211.8h51v29.6h-51zM10.1 240.9h25.8v29.6h-25.8zM237.3 270h25.8v29.6h-25.8zM161.6 299.1h25.8v29.6h-25.8zM388.9 648.3h25.8v29.6h-25.8z"/><path fill="#28bceb" d="M439.4 95.4h25.8v29.6h-25.8zM237.3 124.5h25.8v29.6h-25.8zM262.6 182.7h25.8v29.6h-25.8zM-15.2 211.8h25.8v29.6h-25.8zM262.6 211.8h25.8v29.6h-25.8zM-15.2 240.9h25.8v29.6h-25.8zM262.6 240.9h25.8v29.6h-25.8zM-15.2 270h51v29.6h-51zM212.1 299.1h25.8v29.6h-25.8zM540.4 473.7h25.8v29.6h-25.8zM515.1 502.8h25.8v29.6h-25.8z"/><path fill="#25c0e7" d="M186.8 66.3h25.8v29.6h-25.8zM237.3 95.4h25.8v29.6h-25.8zM388.9 182.7h25.8v29.6h-25.8zM388.9 270h25.8v29.6h-25.8zM161.6 328.2h25.8v29.6h-25.8zM515.1 473.7h25.8v29.6h-25.8z"/><path fill="#22c5e2" d="M262.6 153.6h25.8v29.6h-25.8zM338.4 182.7h51v29.6h-51zM313.1 211.8h25.8v29.6h-25.8zM388.9 211.8h25.8v29.6h-25.8zM388.9 240.9h25.8v29.6h-25.8zM262.6 270h76.2v29.6h-76.2zM237.3 299.1h25.8v29.6h-25.8zM338.4 299.1h25.8v29.6h-25.8zM388.9 299.1h25.8v29.6h-25.8zM186.8 328.2h25.8v29.6h-25.8zM489.9 473.7h25.8v29.6h-25.8zM489.9 502.8h25.8v29.6h-25.8z"/><path fill="#1fc9dd" d="M464.6 124.5h25.8v29.6h-25.8zM287.9 211.8h25.8v29.6h-25.8zM287.9 240.9h51v29.6h-51zM262.6 299.1h51v29.6h-51zM363.6 299.1h25.8v29.6h-25.8zM338.4 328.2h25.8v29.6h-25.8zM388.9 561h25.8v29.6h-25.8zM363.6 619.2h25.8v29.6h-25.8z"/><path fill="#1ccdd8" d="M212.1 66.3h51v29.6h-51zM388.9 95.4h25.8v29.6h-25.8zM262.6 124.5h25.8v29.6h-25.8zM287.9 182.7h25.8v29.6h-25.8zM313.1 299.1h25.8v29.6h-25.8zM212.1 328.2h25.8v29.6h-25.8zM540.4 444.6h25.8v29.6h-25.8zM464.6 531.9h25.8v29.6h-25.8zM363.6 590.1h25.8v29.6h-25.8zM338.4 706.5h25.8v29.6h-25.8z"/><path fill="#1ad4d0" d="M414.1 95.4h25.8v29.6h-25.8zM287.9 153.6h25.8v29.6h-25.8zM338.4 153.6h25.8v29.6h-25.8zM313.1 182.7h25.8v29.6h-25.8zM237.3 328.2h25.8v29.6h-25.8zM313.1 328.2h25.8v29.6h-25.8zM388.9 328.2h25.8v29.6h-25.8zM565.6 328.2h25.8v29.6h-25.8zM363.6 561h25.8v29.6h-25.8zM363.6 648.3h25.8v29.6h-25.8zM363.6 677.4h25.8v29.6h-25.8z"/><path fill="#18d7ca" d="M186.8 8.1h25.8v29.6h-25.8zM186.8 37.2h25.8v29.6h-25.8zM262.6 95.4h25.8v29.6h-25.8zM363.6 95.4h25.8v29.6h-25.8zM287.9 328.2h25.8v29.6h-25.8zM186.8 357.3h25.8v29.6h-25.8zM338.4 357.3h25.8v29.6h-25.8zM388.9 357.3h25.8v29.6h-25.8zM540.4 357.3h25.8v29.6h-25.8z"/><path fill="#18dbc5" d="M212.1 37.2h51v29.6h-51zM313.1 153.6h25.8v29.6h-25.8zM363.6 153.6h25.8v29.6h-25.8zM414.1 240.9h25.8v29.6h-25.8zM262.6 328.2h25.8v29.6h-25.8zM363.6 328.2h25.8v29.6h-25.8z"/><path fill="#18dec0" d="M262.6 66.3h25.8v29.6h-25.8zM338.4 95.4h25.8v29.6h-25.8zM414.1 211.8h25.8v29.6h-25.8zM414.1 270h25.8v29.6h-25.8zM540.4 328.2h25.8v29.6h-25.8zM212.1 357.3h25.8v29.6h-25.8zM515.1 444.6h25.8v29.6h-25.8zM338.4 590.1h25.8v29.6h-25.8zM338.4 619.2h25.8v29.6h-25.8zM338.4 677.4h25.8v29.6h-25.8zM313.1 706.5h25.8v29.6h-25.8z"/><path fill="#19e2bb" d="M212.1 -21h25.8v29.6h-25.8zM212.1 8.1h25.8v29.6h-25.8zM262.6 37.2h25.8v29.6h-25.8zM338.4 37.2h25.8v29.6h-25.8zM287.9 124.5h25.8v29.6h-25.8zM338.4 124.5h25.8v29.6h-25.8zM388.9 153.6h25.8v29.6h-25.8zM237.3 357.3h25.8v29.6h-25.8zM363.6 357.3h25.8v29.6h-25.8zM540.4 386.4h25.8v29.6h-25.8zM540.4 415.5h25.8v29.6h-25.8zM489.9 444.6h25.8v29.6h-25.8zM313.1 619.2h25.8v29.6h-25.8zM338.4 648.3h25.8v29.6h-25.8zM313.1 677.4h25.8v29.6h-25.8z"/><path fill="#1ce6b4" d="M363.6 66.3h25.8v29.6h-25.8zM414.1 182.7h25.8v29.6h-25.8zM540.4 299.1h25.8v29.6h-25.8zM262.6 357.3h76.2v29.6h-76.2zM313.1 590.1h25.8v29.6h-25.8zM262.6 648.3h76.2v29.6h-76.2zM287.9 677.4h25.8v29.6h-25.8z"/><path fill="#1fe9af" d="M464.6 95.4h25.8v29.6h-25.8zM363.6 124.5h25.8v29.6h-25.8zM439.4 211.8h25.8v29.6h-25.8zM439.4 240.9h25.8v29.6h-25.8zM464.6 502.8h25.8v29.6h-25.8zM338.4 561h25.8v29.6h-25.8z"/><path fill="#22ebaa" d="M338.4 66.3h25.8v29.6h-25.8zM287.9 95.4h25.8v29.6h-25.8zM313.1 124.5h25.8v29.6h-25.8zM388.9 124.5h25.8v29.6h-25.8zM439.4 182.7h25.8v29.6h-25.8zM414.1 299.1h25.8v29.6h-25.8zM414.1 328.2h25.8v29.6h-25.8zM212.1 386.4h25.8v29.6h-25.8zM439.4 531.9h25.8v29.6h-25.8z"/><path fill="#27eea4" d="M287.9 66.3h25.8v29.6h-25.8zM237.3 386.4h25.8v29.6h-25.8zM464.6 473.7h25.8v29.6h-25.8zM287.9 619.2h25.8v29.6h-25.8z"/><path fill="#2cf09e" d="M287.9 37.2h51v29.6h-51zM313.1 66.3h25.8v29.6h-25.8zM414.1 124.5h25.8v29.6h-25.8zM565.6 124.5h25.8v29.6h-25.8zM414.1 153.6h76.2v29.6h-76.2zM565.6 299.1h51v29.6h-51zM313.1 561h25.8v29.6h-25.8z"/><path fill="#35f394" d="M313.1 95.4h25.8v29.6h-25.8zM439.4 270h25.8v29.6h-25.8zM414.1 357.3h25.8v29.6h-25.8z"/><path fill="#3cf58e" d="M439.4 124.5h25.8v29.6h-25.8zM464.6 182.7h25.8v29.6h-25.8zM515.1 328.2h25.8v29.6h-25.8zM388.9 386.4h51v29.6h-51zM439.4 502.8h25.8v29.6h-25.8z"/><path fill="#43f787" d="M489.9 153.6h25.8v29.6h-25.8zM439.4 299.1h25.8v29.6h-25.8zM515.1 357.3h25.8v29.6h-25.8zM338.4 386.4h51v29.6h-51zM464.6 444.6h25.8v29.6h-25.8zM414.1 531.9h25.8v29.6h-25.8z"/><path fill="#4af880" d="M515.1 153.6h25.8v29.6h-25.8zM464.6 211.8h25.8v29.6h-25.8zM262.6 386.4h25.8v29.6h-25.8zM313.1 386.4h25.8v29.6h-25.8zM237.3 415.5h25.8v29.6h-25.8zM439.4 473.7h25.8v29.6h-25.8z"/><path fill="#52fa7a" d="M414.1 415.5h25.8v29.6h-25.8zM439.4 444.6h25.8v29.6h-25.8z"/><path fill="#5dfc6f" d="M464.6 240.9h25.8v29.6h-25.8zM287.9 386.4h25.8v29.6h-25.8zM439.4 386.4h25.8v29.6h-25.8zM388.9 415.5h25.8v29.6h-25.8zM439.4 415.5h25.8v29.6h-25.8zM515.1 415.5h25.8v29.6h-25.8zM388.9 531.9h25.8v29.6h-25.8z"/><path fill="#65fd69" d="M616.1 240.9h25.8v29.6h-25.8zM565.6 270h51v29.6h-51zM515.1 386.4h25.8v29.6h-25.8zM313.1 531.9h25.8v29.6h-25.8z"/><path fill="#6dfe62" d="M489.9 182.7h25.8v29.6h-25.8zM439.4 328.2h51v29.6h-51zM464.6 386.4h25.8v29.6h-25.8zM262.6 415.5h25.8v29.6h-25.8zM338.4 415.5h51v29.6h-51zM287.9 531.9h25.8v29.6h-25.8zM363.6 531.9h25.8v29.6h-25.8z"/><path fill="#75fe5c" d="M464.6 270h25.8v29.6h-25.8zM439.4 357.3h51v29.6h-51zM313.1 415.5h25.8v29.6h-25.8zM414.1 444.6h25.8v29.6h-25.8zM414.1 502.8h25.8v29.6h-25.8zM338.4 531.9h25.8v29.6h-25.8z"/><path fill="#7dff56" d="M616.1 211.8h25.8v29.6h-25.8zM287.9 415.5h25.8v29.6h-25.8zM489.9 415.5h25.8v29.6h-25.8zM414.1 473.7h25.8v29.6h-25.8z"/><path fill="#88ff4e" d="M464.6 299.1h25.8v29.6h-25.8zM464.6 415.5h25.8v29.6h-25.8zM262.6 502.8h25.8v29.6h-25.8z"/><path fill="#8fff49" d="M262.6 444.6h25.8v29.6h-25.8zM363.6 444.6h51v29.6h-51zM287.9 502.8h25.8v29.6h-25.8zM388.9 502.8h25.8v29.6h-25.8z"/><path fill="#96fe44" d="M540.4 153.6h25.8v29.6h-25.8zM489.9 211.8h25.8v29.6h-25.8zM590.9 240.9h25.8v29.6h-25.8zM540.4 270h25.8v29.6h-25.8zM262.6 473.7h25.8v29.6h-25.8zM388.9 473.7h25.8v29.6h-25.8zM313.1 502.8h25.8v29.6h-25.8zM363.6 502.8h25.8v29.6h-25.8z"/><path fill="#9cfe40" d="M489.9 299.1h25.8v29.6h-25.8zM287.9 444.6h76.2v29.6h-76.2zM313.1 473.7h51v29.6h-51z"/><path fill="#a4fc3c" d="M515.1 299.1h25.8v29.6h-25.8zM489.9 386.4h25.8v29.6h-25.8zM363.6 473.7h25.8v29.6h-25.8zM338.4 502.8h25.8v29.6h-25.8z"/><path fill="#a9fb39" d="M489.9 357.3h25.8v29.6h-25.8zM287.9 473.7h25.8v29.6h-25.8z"/><path fill="#affa37" d="M540.4 240.9h51v29.6h-51zM489.9 270h51v29.6h-51zM489.9 328.2h25.8v29.6h-25.8z"/><path fill="#b4f836" d="M590.9 211.8h25.8v29.6h-25.8z"/><path fill="#c6f034" d="M540.4 182.7h25.8v29.6h-25.8zM540.4 211.8h25.8v29.6h-25.8zM489.9 240.9h25.8v29.6h-25.8z"/><path fill="#d4e735" d="M515.1 182.7h25.8v29.6h-25.8z"/><path fill="#dbe236" d="M565.6 182.7h25.8v29.6h-25.8zM565.6 211.8h25.8v29.6h-25.8z"/><path fill="#dfdf37" d="M515.1 211.8h25.8v29.6h-25.8zM515.1 240.9h25.8v29.6h-25.8z"/></g><use href="#bord"/><use href="#over"/><path class="g" d="M60.5 -8L71.5 747.5" style="stroke-width:1.09" opacity="0.6"/><path class="g" d="M230.5 -8L237.5 747.5" style="stroke-width:1.18" opacity="0.7"/><path class="g" d="M398.7 -8L398.7 747.5" style="stroke-width:1.09" opacity="0.6"/><path class="g" d="M568.5 -8L560 747.5" style="stroke-width:1" opacity="0.5"/><path d="M0 97.7H659" style="stroke:#fff;stroke-width:1.6;fill:none" opacity="0.3"/><path class="g" d="M-8 288.8H659" style="stroke-width:1.59" opacity="0.9"/><path d="M0 480.6H659" style="stroke:#fff;stroke-width:1.6;fill:none" opacity="0.3"/><path class="g" d="M-8 672.8H659" style="stroke-width:1.26" opacity="0.6"/></g></g><text class="lab" x="351.4" y="811">(a) December</text><text class="lab" x="1026.8" y="814">(b) January</text><text class="lab" x="1708.2" y="814">(c) February</text><text class="lab" x="358.3" y="1657.5">(d) March</text><text class="lab" x="1067" y="1660.5">(e) April</text><text class="lab" x="1729" y="1660.5">(f) May</text><text class="lab" x="367" y="2511.5">(g) June</text><text class="lab" x="1065.3" y="2516">(h) July</text><text class="lab" x="1742" y="2513.5">(i) August</text><text class="lab" x="369.8" y="3351.5">(j) September</text><text class="lab" x="1045.7" y="3355.5">(k) October</text><text class="lab" x="1740" y="3356.5">(l) November</text><path d="M445 3413H1895L1929 3443.6L1895 3474.2H445L411.5 3443.6Z" fill="#000"/><path d="M443 3418.5L420 3443.6L443 3468.7Z" fill="#30123b"/><path d="M1897 3418.5L1920.5 3443.6L1897 3468.7Z" fill="#7a0403"/><rect x="447" y="3417" width="1446" height="53.2" fill="url(#tb)"/><path d="M445 3474.2v6.5M495 3474.2v6.5M545 3474.2v6.5M595 3474.2v6.5M645 3474.2v13M695 3474.2v6.5M745 3474.2v6.5M795 3474.2v6.5M845 3474.2v6.5M895 3474.2v13M945 3474.2v6.5M995 3474.2v6.5M1045 3474.2v6.5M1095 3474.2v6.5M1145 3474.2v13M1195 3474.2v6.5M1245 3474.2v6.5M1295 3474.2v6.5M1345 3474.2v6.5M1395 3474.2v13M1445 3474.2v6.5M1495 3474.2v6.5M1545 3474.2v6.5M1595 3474.2v6.5M1645 3474.2v13M1695 3474.2v6.5M1745 3474.2v6.5M1795 3474.2v6.5M1845 3474.2v6.5M1895 3474.2v13" stroke="#000" stroke-width="1.7" fill="none"/><text class="tk" x="663.5" y="3523">500 m</text><text class="tk" x="913.5" y="3523">1000 m</text><text class="tk" x="1163.5" y="3523">1500 m</text><text class="tk" x="1413.5" y="3523">2000 m</text><text class="tk" x="1663.5" y="3523">2500 m</text><text class="tk" x="1913.5" y="3523">3000 m</text><text x="348" y="3457.5" style="font-size:36px;font-weight:bold;text-anchor:middle">CBLH</text><path d="M302 3423.7H394.5" stroke="#000" stroke-width="1.6"/></svg></body></html>
